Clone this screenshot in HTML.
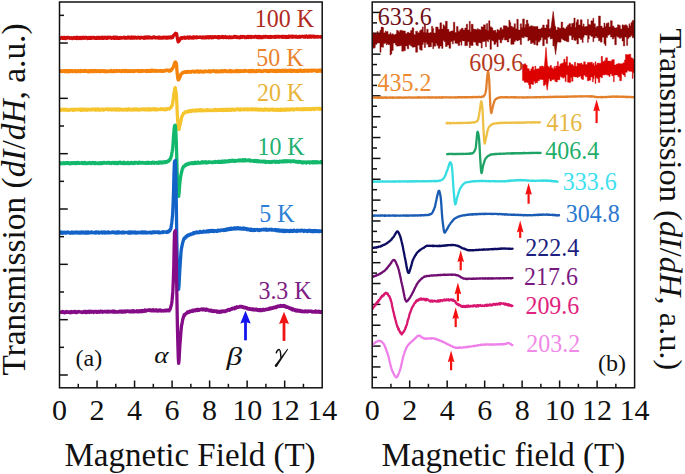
<!DOCTYPE html>
<html><head><meta charset="utf-8"><style>
html,body{margin:0;padding:0;background:#fff;}
svg{display:block;}
</style></head><body>
<svg width="685" height="474" viewBox="0 0 685 474">
<defs><clipPath id="ca"><rect x="59.5" y="2.0" width="262.70" height="385.80"/></clipPath><clipPath id="cb"><rect x="372.2" y="2.0" width="262.40" height="385.80"/></clipPath></defs>
<rect width="685" height="474" fill="#fff"/>
<line x1="78.26" y1="387.8" x2="78.26" y2="383.8" stroke="#111" stroke-width="1.5"/>
<line x1="97.03" y1="387.8" x2="97.03" y2="380.5" stroke="#111" stroke-width="1.5"/>
<line x1="115.79" y1="387.8" x2="115.79" y2="383.8" stroke="#111" stroke-width="1.5"/>
<line x1="134.56" y1="387.8" x2="134.56" y2="380.5" stroke="#111" stroke-width="1.5"/>
<line x1="153.32" y1="387.8" x2="153.32" y2="383.8" stroke="#111" stroke-width="1.5"/>
<line x1="172.09" y1="387.8" x2="172.09" y2="380.5" stroke="#111" stroke-width="1.5"/>
<line x1="190.85" y1="387.8" x2="190.85" y2="383.8" stroke="#111" stroke-width="1.5"/>
<line x1="209.61" y1="387.8" x2="209.61" y2="380.5" stroke="#111" stroke-width="1.5"/>
<line x1="228.38" y1="387.8" x2="228.38" y2="383.8" stroke="#111" stroke-width="1.5"/>
<line x1="247.14" y1="387.8" x2="247.14" y2="380.5" stroke="#111" stroke-width="1.5"/>
<line x1="265.91" y1="387.8" x2="265.91" y2="383.8" stroke="#111" stroke-width="1.5"/>
<line x1="284.67" y1="387.8" x2="284.67" y2="380.5" stroke="#111" stroke-width="1.5"/>
<line x1="303.44" y1="387.8" x2="303.44" y2="383.8" stroke="#111" stroke-width="1.5"/>
<line x1="390.94" y1="387.8" x2="390.94" y2="383.8" stroke="#111" stroke-width="1.5"/>
<line x1="409.69" y1="387.8" x2="409.69" y2="380.5" stroke="#111" stroke-width="1.5"/>
<line x1="428.43" y1="387.8" x2="428.43" y2="383.8" stroke="#111" stroke-width="1.5"/>
<line x1="447.17" y1="387.8" x2="447.17" y2="380.5" stroke="#111" stroke-width="1.5"/>
<line x1="465.91" y1="387.8" x2="465.91" y2="383.8" stroke="#111" stroke-width="1.5"/>
<line x1="484.66" y1="387.8" x2="484.66" y2="380.5" stroke="#111" stroke-width="1.5"/>
<line x1="503.40" y1="387.8" x2="503.40" y2="383.8" stroke="#111" stroke-width="1.5"/>
<line x1="522.14" y1="387.8" x2="522.14" y2="380.5" stroke="#111" stroke-width="1.5"/>
<line x1="540.89" y1="387.8" x2="540.89" y2="383.8" stroke="#111" stroke-width="1.5"/>
<line x1="559.63" y1="387.8" x2="559.63" y2="380.5" stroke="#111" stroke-width="1.5"/>
<line x1="578.37" y1="387.8" x2="578.37" y2="383.8" stroke="#111" stroke-width="1.5"/>
<line x1="597.11" y1="387.8" x2="597.11" y2="380.5" stroke="#111" stroke-width="1.5"/>
<line x1="615.86" y1="387.8" x2="615.86" y2="383.8" stroke="#111" stroke-width="1.5"/>
<line x1="59.5" y1="375.00" x2="67.80" y2="375.00" stroke="#111" stroke-width="1.5"/>
<line x1="59.5" y1="347.33" x2="64.00" y2="347.33" stroke="#111" stroke-width="1.5"/>
<line x1="59.5" y1="319.67" x2="67.80" y2="319.67" stroke="#111" stroke-width="1.5"/>
<line x1="59.5" y1="292.00" x2="64.00" y2="292.00" stroke="#111" stroke-width="1.5"/>
<line x1="59.5" y1="264.34" x2="67.80" y2="264.34" stroke="#111" stroke-width="1.5"/>
<line x1="59.5" y1="236.67" x2="64.00" y2="236.67" stroke="#111" stroke-width="1.5"/>
<line x1="59.5" y1="209.01" x2="67.80" y2="209.01" stroke="#111" stroke-width="1.5"/>
<line x1="59.5" y1="181.34" x2="64.00" y2="181.34" stroke="#111" stroke-width="1.5"/>
<line x1="59.5" y1="153.68" x2="67.80" y2="153.68" stroke="#111" stroke-width="1.5"/>
<line x1="59.5" y1="126.01" x2="64.00" y2="126.01" stroke="#111" stroke-width="1.5"/>
<line x1="59.5" y1="98.35" x2="67.80" y2="98.35" stroke="#111" stroke-width="1.5"/>
<line x1="59.5" y1="70.68" x2="64.00" y2="70.68" stroke="#111" stroke-width="1.5"/>
<line x1="59.5" y1="43.02" x2="67.80" y2="43.02" stroke="#111" stroke-width="1.5"/>
<line x1="59.5" y1="15.35" x2="64.00" y2="15.35" stroke="#111" stroke-width="1.5"/>
<line x1="372.2" y1="377.37" x2="377.00" y2="377.37" stroke="#111" stroke-width="1.5"/>
<line x1="372.2" y1="366.95" x2="380.50" y2="366.95" stroke="#111" stroke-width="1.5"/>
<line x1="372.2" y1="356.52" x2="377.00" y2="356.52" stroke="#111" stroke-width="1.5"/>
<line x1="372.2" y1="346.09" x2="380.50" y2="346.09" stroke="#111" stroke-width="1.5"/>
<line x1="372.2" y1="335.66" x2="377.00" y2="335.66" stroke="#111" stroke-width="1.5"/>
<line x1="372.2" y1="325.24" x2="380.50" y2="325.24" stroke="#111" stroke-width="1.5"/>
<line x1="372.2" y1="314.81" x2="377.00" y2="314.81" stroke="#111" stroke-width="1.5"/>
<line x1="372.2" y1="304.38" x2="380.50" y2="304.38" stroke="#111" stroke-width="1.5"/>
<line x1="372.2" y1="293.96" x2="377.00" y2="293.96" stroke="#111" stroke-width="1.5"/>
<line x1="372.2" y1="283.53" x2="380.50" y2="283.53" stroke="#111" stroke-width="1.5"/>
<line x1="372.2" y1="273.10" x2="377.00" y2="273.10" stroke="#111" stroke-width="1.5"/>
<line x1="372.2" y1="262.68" x2="380.50" y2="262.68" stroke="#111" stroke-width="1.5"/>
<line x1="372.2" y1="252.25" x2="377.00" y2="252.25" stroke="#111" stroke-width="1.5"/>
<line x1="372.2" y1="241.82" x2="380.50" y2="241.82" stroke="#111" stroke-width="1.5"/>
<line x1="372.2" y1="231.39" x2="377.00" y2="231.39" stroke="#111" stroke-width="1.5"/>
<line x1="372.2" y1="220.97" x2="380.50" y2="220.97" stroke="#111" stroke-width="1.5"/>
<line x1="372.2" y1="210.54" x2="377.00" y2="210.54" stroke="#111" stroke-width="1.5"/>
<line x1="372.2" y1="200.11" x2="380.50" y2="200.11" stroke="#111" stroke-width="1.5"/>
<line x1="372.2" y1="189.69" x2="377.00" y2="189.69" stroke="#111" stroke-width="1.5"/>
<line x1="372.2" y1="179.26" x2="380.50" y2="179.26" stroke="#111" stroke-width="1.5"/>
<line x1="372.2" y1="168.83" x2="377.00" y2="168.83" stroke="#111" stroke-width="1.5"/>
<line x1="372.2" y1="158.41" x2="380.50" y2="158.41" stroke="#111" stroke-width="1.5"/>
<line x1="372.2" y1="147.98" x2="377.00" y2="147.98" stroke="#111" stroke-width="1.5"/>
<line x1="372.2" y1="137.55" x2="380.50" y2="137.55" stroke="#111" stroke-width="1.5"/>
<line x1="372.2" y1="127.12" x2="377.00" y2="127.12" stroke="#111" stroke-width="1.5"/>
<line x1="372.2" y1="116.70" x2="380.50" y2="116.70" stroke="#111" stroke-width="1.5"/>
<line x1="372.2" y1="106.27" x2="377.00" y2="106.27" stroke="#111" stroke-width="1.5"/>
<line x1="372.2" y1="95.84" x2="380.50" y2="95.84" stroke="#111" stroke-width="1.5"/>
<line x1="372.2" y1="85.42" x2="377.00" y2="85.42" stroke="#111" stroke-width="1.5"/>
<line x1="372.2" y1="74.99" x2="380.50" y2="74.99" stroke="#111" stroke-width="1.5"/>
<line x1="372.2" y1="64.56" x2="377.00" y2="64.56" stroke="#111" stroke-width="1.5"/>
<line x1="372.2" y1="54.14" x2="380.50" y2="54.14" stroke="#111" stroke-width="1.5"/>
<line x1="372.2" y1="43.71" x2="377.00" y2="43.71" stroke="#111" stroke-width="1.5"/>
<line x1="372.2" y1="33.28" x2="380.50" y2="33.28" stroke="#111" stroke-width="1.5"/>
<line x1="372.2" y1="22.85" x2="377.00" y2="22.85" stroke="#111" stroke-width="1.5"/>
<line x1="372.2" y1="12.43" x2="380.50" y2="12.43" stroke="#111" stroke-width="1.5"/>
<path d="M372.80,33.05 L374.49,33.05 L374.49,33.89 L375.32,33.89 L375.32,33.54 L376.26,33.54 L376.26,34.33 L377.08,34.33 L377.08,31.44 L378.07,31.44 L378.07,33.80 L379.91,33.80 L379.91,30.18 L381.06,30.18 L381.06,27.07 L382.69,27.07 L382.69,27.59 L383.57,27.59 L383.57,32.70 L385.35,32.70 L385.35,30.93 L386.22,30.93 L386.22,31.99 L387.04,31.99 L387.04,31.42 L388.06,31.42 L388.06,34.33 L389.99,34.33 L389.99,32.69 L390.92,32.69 L390.92,34.49 L391.83,34.49 L391.83,33.83 L393.28,33.83 L393.28,34.87 L395.28,34.87 L395.28,34.01 L396.56,34.01 L396.56,30.27 L397.87,30.27 L397.87,31.12 L398.83,31.12 L398.83,32.30 L399.75,32.30 L399.75,30.31 L401.75,30.31 L401.75,30.82 L403.43,30.82 L403.43,30.96 L405.38,30.96 L405.38,33.48 L407.22,33.48 L407.22,32.26 L408.82,32.26 L408.82,32.97 L410.54,32.97 L410.54,30.54 L412.04,30.54 L412.04,27.87 L413.82,27.87 L413.82,34.39 L415.61,34.39 L415.61,31.15 L417.58,31.15 L417.58,32.66 L419.51,32.66 L419.51,30.79 L420.52,30.79 L420.52,29.87 L422.25,29.87 L422.25,26.88 L423.31,26.88 L423.31,32.29 L424.27,32.29 L424.27,23.69 L425.52,23.69 L425.52,32.49 L426.66,32.49 L426.66,29.19 L428.20,29.19 L428.20,32.96 L429.98,32.96 L429.98,32.53 L431.49,32.53 L431.49,26.25 L432.71,26.25 L432.71,28.44 L433.68,28.44 L433.68,32.99 L435.65,32.99 L435.65,26.94 L436.76,26.94 L436.76,27.04 L438.15,27.04 L438.15,29.30 L439.89,29.30 L439.89,22.87 L441.63,22.87 L441.63,29.03 L443.00,29.03 L443.00,24.87 L444.16,24.87 L444.16,26.26 L445.39,26.26 L445.39,21.25 L447.29,21.25 L447.29,29.36 L448.94,29.36 L448.94,31.67 L450.76,31.67 L450.76,30.91 L452.40,30.91 L452.40,30.82 L453.37,30.82 L453.37,22.30 L454.87,22.30 L454.87,32.58 L456.47,32.58 L456.47,26.59 L458.11,26.59 L458.11,31.18 L459.76,31.18 L459.76,29.65 L461.06,29.65 L461.06,28.40 L461.93,28.40 L461.93,28.14 L463.11,28.14 L463.11,30.06 L464.74,30.06 L464.74,28.04 L466.21,28.04 L466.21,24.24 L467.63,24.24 L467.63,30.06 L469.22,30.06 L469.22,21.31 L470.30,21.31 L470.30,31.68 L471.17,31.68 L471.17,24.27 L473.13,24.27 L473.13,29.01 L474.33,29.01 L474.33,29.36 L475.91,29.36 L475.91,29.45 L477.42,29.45 L477.42,28.56 L478.27,28.56 L478.27,29.53 L480.14,29.53 L480.14,30.12 L481.13,30.12 L481.13,26.72 L482.26,26.72 L482.26,27.07 L483.50,27.07 L483.50,24.85 L485.44,24.85 L485.44,29.56 L486.43,29.56 L486.43,23.61 L487.67,23.61 L487.67,30.40 L488.67,30.40 L488.67,20.70 L489.98,20.70 L489.98,26.80 L491.44,26.80 L491.44,27.76 L492.83,27.76 L492.83,30.47 L493.94,30.47 L493.94,30.41 L494.95,30.41 L494.95,30.23 L495.88,30.23 L495.88,32.47 L496.94,32.47 L496.94,29.51 L498.19,29.51 L498.19,30.18 L499.98,30.18 L499.98,27.77 L501.77,27.77 L501.77,29.47 L503.26,29.47 L503.26,25.74 L504.40,25.74 L504.40,25.79 L505.87,25.79 L505.87,25.97 L507.20,25.97 L507.20,27.32 L508.84,27.32 L508.84,20.29 L509.96,20.29 L509.96,22.49 L510.79,22.49 L510.79,26.32 L512.33,26.32 L512.33,27.18 L514.12,27.18 L514.12,23.74 L515.45,23.74 L515.45,28.71 L516.81,28.71 L516.81,19.22 L518.25,19.22 L518.25,30.03 L520.22,30.03 L520.22,23.81 L521.49,23.81 L521.49,27.53 L522.58,27.53 L522.58,18.89 L524.40,18.89 L524.40,27.52 L525.25,27.52 L525.25,24.57 L526.28,24.57 L526.28,20.12 L527.83,20.12 L527.83,23.76 L528.85,23.76 L528.85,26.53 L530.50,26.53 L530.50,25.73 L532.13,25.73 L532.13,26.16 L533.74,26.16 L533.74,26.50 L535.46,26.50 L535.46,26.69 L536.34,26.69 L536.34,26.39 L537.97,26.39 L537.97,29.08 L539.84,29.08 L539.84,29.10 L541.11,29.10 L541.11,27.87 L542.65,27.87 L542.65,24.93 L544.31,24.93 L544.31,28.07 L546.18,28.07 L546.18,24.85 L547.66,24.85 L547.66,19.38 L549.10,19.38 L549.10,28.65 L550.12,28.65 L550.12,28.16 L551.14,28.16 L551.14,29.00 L552.82,29.00 L552.82,25.97 L554.00,25.97 L554.00,26.65 L555.81,26.65 L555.81,30.04 L557.35,30.04 L557.35,27.43 L559.11,27.43 L559.11,28.28 L561.07,28.28 L561.07,22.08 L562.69,22.08 L562.69,27.82 L564.20,27.82 L564.20,28.63 L566.14,28.63 L566.14,26.79 L567.51,26.79 L567.51,24.98 L568.91,24.98 L568.91,23.64 L570.73,23.64 L570.73,26.88 L571.61,26.88 L571.61,23.45 L573.06,23.45 L573.06,22.91 L573.87,22.91 L573.87,18.04 L575.13,18.04 L575.13,27.62 L576.03,27.62 L576.03,22.18 L576.90,22.18 L576.90,19.65 L578.47,19.65 L578.47,24.89 L580.26,24.89 L580.26,19.82 L582.13,19.82 L582.13,26.35 L583.19,26.35 L583.19,23.88 L584.14,23.88 L584.14,26.66 L586.00,26.66 L586.00,26.32 L587.52,26.32 L587.52,19.34 L588.36,19.34 L588.36,24.13 L589.34,24.13 L589.34,24.73 L590.91,24.73 L590.91,20.80 L592.87,20.80 L592.87,18.21 L593.83,18.21 L593.83,23.63 L595.36,23.63 L595.36,27.57 L596.58,27.57 L596.58,26.33 L598.49,26.33 L598.49,16.00 L600.43,16.00 L600.43,26.08 L602.11,26.08 L602.11,27.67 L603.91,27.67 L603.91,22.98 L604.96,22.98 L604.96,26.44 L606.07,26.44 L606.07,23.44 L607.62,23.44 L607.62,22.67 L608.95,22.67 L608.95,27.00 L610.42,27.00 L610.42,20.79 L612.27,20.79 L612.27,25.90 L613.80,25.90 L613.80,27.61 L614.71,27.61 L614.71,27.92 L616.38,27.92 L616.38,27.49 L617.49,27.49 L617.49,24.86 L619.37,24.86 L619.37,25.62 L620.42,25.62 L620.42,28.95 L622.00,28.95 L622.00,24.86 L623.34,24.86 L623.34,25.47 L624.78,25.47 L624.78,24.83 L626.58,24.83 L626.58,25.86 L627.70,25.86 L627.70,27.93 L628.90,27.93 L628.90,23.76 L629.76,23.76 L629.76,25.63 L630.88,25.63 L630.88,22.49 L632.17,22.49 L632.17,20.40 L633.92,20.40 L633.92,26.92 L634.00,26.92 L634.00,36.01 L633.92,36.01 L633.92,37.78 L632.17,37.78 L632.17,35.52 L630.88,35.52 L630.88,36.79 L629.76,36.79 L629.76,37.17 L628.90,37.17 L628.90,38.54 L627.70,38.54 L627.70,45.42 L626.58,45.42 L626.58,36.97 L624.78,36.97 L624.78,45.99 L623.34,45.99 L623.34,41.12 L622.00,41.12 L622.00,37.66 L620.42,37.66 L620.42,38.52 L619.37,38.52 L619.37,37.19 L617.49,37.19 L617.49,36.14 L616.38,36.14 L616.38,44.84 L614.71,44.84 L614.71,37.28 L613.80,37.28 L613.80,39.01 L612.27,39.01 L612.27,37.05 L610.42,37.05 L610.42,34.54 L608.95,34.54 L608.95,35.25 L607.62,35.25 L607.62,37.55 L606.07,37.55 L606.07,45.55 L604.96,45.55 L604.96,43.72 L603.91,43.72 L603.91,37.17 L602.11,37.17 L602.11,42.20 L600.43,42.20 L600.43,40.84 L598.49,40.84 L598.49,37.68 L596.58,37.68 L596.58,36.30 L595.36,36.30 L595.36,38.03 L593.83,38.03 L593.83,41.69 L592.87,41.69 L592.87,36.38 L590.91,36.38 L590.91,35.37 L589.34,35.37 L589.34,39.10 L588.36,39.10 L588.36,42.40 L587.52,42.40 L587.52,35.30 L586.00,35.30 L586.00,34.93 L584.14,34.93 L584.14,37.24 L583.19,37.24 L583.19,42.43 L582.13,42.43 L582.13,39.57 L580.26,39.57 L580.26,38.02 L578.47,38.02 L578.47,43.94 L576.90,43.94 L576.90,39.80 L576.03,39.80 L576.03,40.47 L575.13,40.47 L575.13,40.19 L573.87,40.19 L573.87,37.42 L573.06,37.42 L573.06,39.72 L571.61,39.72 L571.61,35.83 L570.73,35.83 L570.73,35.52 L568.91,35.52 L568.91,41.83 L567.51,41.83 L567.51,41.47 L566.14,41.47 L566.14,40.67 L564.20,40.67 L564.20,39.88 L562.69,39.88 L562.69,38.72 L561.07,38.72 L561.07,42.16 L559.11,42.16 L559.11,42.09 L557.35,42.09 L557.35,41.23 L555.81,41.23 L555.81,39.17 L554.00,39.17 L554.00,45.92 L552.82,45.92 L552.82,38.76 L551.14,38.76 L551.14,38.99 L550.12,38.99 L550.12,36.61 L549.10,36.61 L549.10,37.26 L547.66,37.26 L547.66,43.46 L546.18,43.46 L546.18,39.51 L544.31,39.51 L544.31,45.79 L542.65,45.79 L542.65,37.40 L541.11,37.40 L541.11,40.14 L539.84,40.14 L539.84,41.87 L537.97,41.87 L537.97,45.18 L536.34,45.18 L536.34,40.40 L535.46,40.40 L535.46,44.48 L533.74,44.48 L533.74,42.76 L532.13,42.76 L532.13,43.51 L530.50,43.51 L530.50,40.05 L528.85,40.05 L528.85,40.94 L527.83,40.94 L527.83,37.07 L526.28,37.07 L526.28,36.91 L525.25,36.91 L525.25,36.03 L524.40,36.03 L524.40,37.84 L522.58,37.84 L522.58,37.53 L521.49,37.53 L521.49,44.49 L520.22,44.49 L520.22,40.07 L518.25,40.07 L518.25,40.93 L516.81,40.93 L516.81,39.95 L515.45,39.95 L515.45,41.54 L514.12,41.54 L514.12,44.21 L512.33,44.21 L512.33,44.37 L510.79,44.37 L510.79,37.91 L509.96,37.91 L509.96,38.41 L508.84,38.41 L508.84,42.03 L507.20,42.03 L507.20,39.89 L505.87,39.89 L505.87,40.06 L504.40,40.06 L504.40,37.84 L503.26,37.84 L503.26,39.85 L501.77,39.85 L501.77,42.79 L499.98,42.79 L499.98,39.75 L498.19,39.75 L498.19,46.70 L496.94,46.70 L496.94,42.28 L495.88,42.28 L495.88,44.11 L494.95,44.11 L494.95,44.48 L493.94,44.48 L493.94,41.30 L492.83,41.30 L492.83,40.45 L491.44,40.45 L491.44,49.33 L489.98,49.33 L489.98,39.43 L488.67,39.43 L488.67,41.81 L487.67,41.81 L487.67,40.65 L486.43,40.65 L486.43,46.81 L485.44,46.81 L485.44,41.42 L483.50,41.42 L483.50,41.69 L482.26,41.69 L482.26,47.99 L481.13,47.99 L481.13,43.00 L480.14,43.00 L480.14,42.86 L478.27,42.86 L478.27,46.02 L477.42,46.02 L477.42,45.20 L475.91,45.20 L475.91,42.23 L474.33,42.23 L474.33,41.80 L473.13,41.80 L473.13,45.56 L471.17,45.56 L471.17,44.93 L470.30,44.93 L470.30,47.65 L469.22,47.65 L469.22,41.81 L467.63,41.81 L467.63,45.53 L466.21,45.53 L466.21,45.70 L464.74,45.70 L464.74,40.88 L463.11,40.88 L463.11,40.82 L461.93,40.82 L461.93,45.30 L461.06,45.30 L461.06,42.00 L459.76,42.00 L459.76,45.59 L458.11,45.59 L458.11,43.39 L456.47,43.39 L456.47,43.25 L454.87,43.25 L454.87,40.52 L453.37,40.52 L453.37,44.05 L452.40,44.05 L452.40,41.45 L450.76,41.45 L450.76,48.30 L448.94,48.30 L448.94,45.00 L447.29,45.00 L447.29,46.51 L445.39,46.51 L445.39,41.72 L444.16,41.72 L444.16,40.58 L443.00,40.58 L443.00,48.42 L441.63,48.42 L441.63,46.05 L439.89,46.05 L439.89,48.33 L438.15,48.33 L438.15,45.55 L436.76,45.55 L436.76,43.60 L435.65,43.60 L435.65,46.32 L433.68,46.32 L433.68,48.73 L432.71,48.73 L432.71,42.38 L431.49,42.38 L431.49,46.68 L429.98,46.68 L429.98,47.01 L428.20,47.01 L428.20,44.30 L426.66,44.30 L426.66,42.46 L425.52,42.46 L425.52,47.52 L424.27,47.52 L424.27,42.14 L423.31,42.14 L423.31,44.58 L422.25,44.58 L422.25,50.16 L420.52,50.16 L420.52,49.52 L419.51,49.52 L419.51,45.22 L417.58,45.22 L417.58,52.19 L415.61,52.19 L415.61,47.06 L413.82,47.06 L413.82,47.15 L412.04,47.15 L412.04,46.06 L410.54,46.06 L410.54,44.70 L408.82,44.70 L408.82,48.75 L407.22,48.75 L407.22,45.94 L405.38,45.94 L405.38,50.73 L403.43,50.73 L403.43,51.23 L401.75,51.23 L401.75,45.84 L399.75,45.84 L399.75,46.08 L398.83,46.08 L398.83,45.99 L397.87,45.99 L397.87,46.14 L396.56,46.14 L396.56,45.05 L395.28,45.05 L395.28,43.12 L393.28,43.12 L393.28,50.49 L391.83,50.49 L391.83,53.92 L390.92,53.92 L390.92,54.98 L389.99,54.98 L389.99,44.78 L388.06,44.78 L388.06,43.90 L387.04,43.90 L387.04,44.88 L386.22,44.88 L386.22,42.72 L385.35,42.72 L385.35,43.58 L383.57,43.58 L383.57,47.35 L382.69,47.35 L382.69,47.05 L381.06,47.05 L381.06,52.23 L379.91,52.23 L379.91,43.02 L378.07,43.02 L378.07,42.97 L377.08,42.97 L377.08,43.86 L376.26,43.86 L376.26,44.06 L375.32,44.06 L375.32,47.53 L374.49,47.53 L374.49,48.17 L372.80,48.17 Z" fill="#8a0404" stroke="#8a0404" stroke-width="0.4"/>
<path d="M550.60,31.00 L553.20,11.40 L555.60,31.00 Z" fill="#8a0404" stroke="#8a0404" stroke-width="0.6" stroke-linejoin="round"/>
<path d="M553.00,34.00 L555.60,54.60 L558.20,34.00 Z" fill="#8a0404" stroke="#8a0404" stroke-width="0.6" stroke-linejoin="round"/>
<path d="M522.40,64.41 L524.19,64.41 L524.19,63.85 L525.90,63.85 L525.90,65.27 L527.19,65.27 L527.19,68.51 L528.31,68.51 L528.31,68.79 L529.23,68.79 L529.23,70.74 L530.79,70.74 L530.79,68.77 L532.02,68.77 L532.02,66.75 L533.66,66.75 L533.66,69.96 L534.82,69.96 L534.82,66.10 L535.76,66.10 L535.76,69.04 L537.60,69.04 L537.60,68.63 L539.49,68.63 L539.49,66.55 L540.44,66.55 L540.44,66.21 L541.72,66.21 L541.72,66.06 L543.32,66.06 L543.32,67.13 L544.74,67.13 L544.74,66.76 L545.86,66.76 L545.86,67.69 L547.09,67.69 L547.09,66.48 L548.95,66.48 L548.95,67.56 L549.92,67.56 L549.92,65.59 L551.51,65.59 L551.51,67.78 L552.69,67.78 L552.69,68.97 L553.84,68.97 L553.84,66.61 L554.78,66.61 L554.78,68.30 L555.65,68.30 L555.65,65.89 L557.39,65.89 L557.39,61.59 L558.36,61.59 L558.36,66.13 L559.94,66.13 L559.94,64.18 L560.89,64.18 L560.89,63.54 L562.78,63.54 L562.78,62.76 L563.75,62.76 L563.75,59.25 L565.08,59.25 L565.08,62.37 L566.23,62.37 L566.23,56.70 L567.54,56.70 L567.54,65.65 L568.98,65.65 L568.98,62.69 L570.70,62.69 L570.70,64.51 L571.64,64.51 L571.64,64.52 L573.06,64.52 L573.06,66.05 L574.33,66.05 L574.33,62.34 L575.63,62.34 L575.63,66.20 L577.12,66.20 L577.12,63.15 L578.39,63.15 L578.39,63.50 L579.97,63.50 L579.97,63.40 L580.96,63.40 L580.96,63.07 L581.90,63.07 L581.90,64.46 L583.64,64.46 L583.64,61.83 L585.31,61.83 L585.31,64.50 L587.29,64.50 L587.29,62.54 L588.97,62.54 L588.97,62.40 L590.70,62.40 L590.70,62.20 L592.40,62.20 L592.40,64.14 L593.31,64.14 L593.31,63.23 L594.14,63.23 L594.14,66.12 L595.01,66.12 L595.01,61.74 L595.91,61.74 L595.91,64.70 L597.17,64.70 L597.17,63.10 L598.30,63.10 L598.30,63.22 L599.79,63.22 L599.79,63.15 L601.16,63.15 L601.16,56.36 L602.52,56.36 L602.52,61.51 L604.35,61.51 L604.35,60.42 L605.58,60.42 L605.58,57.87 L607.49,57.87 L607.49,61.12 L608.92,61.12 L608.92,61.10 L610.15,61.10 L610.15,61.21 L611.73,61.21 L611.73,59.72 L613.40,59.72 L613.40,59.53 L614.30,59.53 L614.30,64.90 L616.20,64.90 L616.20,63.99 L617.89,63.99 L617.89,63.38 L619.65,63.38 L619.65,63.86 L621.55,63.86 L621.55,63.68 L622.89,63.68 L622.89,62.79 L624.44,62.79 L624.44,60.06 L625.42,60.06 L625.42,54.55 L627.22,54.55 L627.22,54.66 L628.84,54.66 L628.84,54.13 L630.83,54.13 L630.83,57.82 L632.28,57.82 L632.28,58.43 L633.13,58.43 L633.13,59.13 L634.00,59.13 L634.00,72.73 L633.13,72.73 L633.13,78.41 L632.28,78.41 L632.28,71.40 L630.83,71.40 L630.83,71.37 L628.84,71.37 L628.84,70.42 L627.22,70.42 L627.22,72.34 L625.42,72.34 L625.42,76.65 L624.44,76.65 L624.44,74.97 L622.89,74.97 L622.89,73.76 L621.55,73.76 L621.55,80.68 L619.65,80.68 L619.65,76.85 L617.89,76.85 L617.89,74.88 L616.20,74.88 L616.20,75.06 L614.30,75.06 L614.30,81.74 L613.40,81.74 L613.40,75.75 L611.73,75.75 L611.73,73.90 L610.15,73.90 L610.15,76.42 L608.92,76.42 L608.92,75.18 L607.49,75.18 L607.49,74.79 L605.58,74.79 L605.58,74.77 L604.35,74.77 L604.35,75.07 L602.52,75.07 L602.52,77.79 L601.16,77.79 L601.16,76.92 L599.79,76.92 L599.79,82.42 L598.30,82.42 L598.30,78.73 L597.17,78.73 L597.17,77.65 L595.91,77.65 L595.91,83.43 L595.01,83.43 L595.01,75.56 L594.14,75.56 L594.14,78.68 L593.31,78.68 L593.31,81.88 L592.40,81.88 L592.40,77.07 L590.70,77.07 L590.70,80.34 L588.97,80.34 L588.97,80.74 L587.29,80.74 L587.29,76.80 L585.31,76.80 L585.31,75.13 L583.64,75.13 L583.64,79.42 L581.90,79.42 L581.90,78.60 L580.96,78.60 L580.96,76.11 L579.97,76.11 L579.97,76.52 L578.39,76.52 L578.39,77.47 L577.12,77.47 L577.12,76.90 L575.63,76.90 L575.63,76.92 L574.33,76.92 L574.33,76.51 L573.06,76.51 L573.06,81.32 L571.64,81.32 L571.64,77.47 L570.70,77.47 L570.70,82.49 L568.98,82.49 L568.98,82.22 L567.54,82.22 L567.54,74.66 L566.23,74.66 L566.23,81.62 L565.08,81.62 L565.08,77.22 L563.75,77.22 L563.75,78.14 L562.78,78.14 L562.78,77.15 L560.89,77.15 L560.89,76.29 L559.94,76.29 L559.94,79.80 L558.36,79.80 L558.36,79.93 L557.39,79.93 L557.39,81.89 L555.65,81.89 L555.65,81.19 L554.78,81.19 L554.78,79.29 L553.84,79.29 L553.84,79.67 L552.69,79.67 L552.69,79.78 L551.51,79.78 L551.51,81.12 L549.92,81.12 L549.92,78.85 L548.95,78.85 L548.95,78.46 L547.09,78.46 L547.09,81.95 L545.86,81.95 L545.86,84.39 L544.74,84.39 L544.74,85.38 L543.32,85.38 L543.32,79.64 L541.72,79.64 L541.72,79.40 L540.44,79.40 L540.44,79.13 L539.49,79.13 L539.49,80.77 L537.60,80.77 L537.60,82.76 L535.76,82.76 L535.76,83.27 L534.82,83.27 L534.82,81.24 L533.66,81.24 L533.66,84.42 L532.02,84.42 L532.02,84.12 L530.79,84.12 L530.79,88.58 L529.23,88.58 L529.23,84.69 L528.31,84.69 L528.31,82.62 L527.19,82.62 L527.19,82.32 L525.90,82.32 L525.90,82.36 L524.19,82.36 L524.19,80.57 L522.40,80.57 Z" fill="#dc0000" stroke="#dc0000" stroke-width="0.4"/>
<path d="M544.00,72.00 L546.00,47.40 L548.00,72.00 Z" fill="#dc0000" stroke="#dc0000" stroke-width="0.6" stroke-linejoin="round"/>
<path d="M545.20,76.00 L547.20,90.20 L549.20,76.00 Z" fill="#dc0000" stroke="#dc0000" stroke-width="0.6" stroke-linejoin="round"/>
<path d="M372.20,97.47 L372.55,97.68 L372.90,97.65 L373.25,97.59 L373.61,97.48 L373.96,97.71 L374.31,97.72 L374.66,97.60 L375.01,97.60 L375.36,97.49 L375.71,97.39 L376.07,97.54 L376.42,97.63 L376.77,97.42 L377.12,97.71 L377.47,97.48 L377.82,97.48 L378.18,97.41 L378.53,97.79 L378.88,97.68 L379.23,97.74 L379.58,97.63 L379.93,97.40 L380.28,97.52 L380.64,97.58 L380.99,97.43 L381.34,97.76 L381.69,97.53 L382.04,97.44 L382.39,97.71 L382.74,97.43 L383.10,97.75 L383.45,97.56 L383.80,97.60 L384.15,97.51 L384.50,97.57 L384.85,97.45 L385.20,97.39 L385.56,97.72 L385.91,97.47 L386.26,97.69 L386.61,97.46 L386.96,97.76 L387.31,97.73 L387.66,97.67 L388.02,97.68 L388.37,97.60 L388.72,97.66 L389.07,97.42 L389.42,97.56 L389.77,97.70 L390.12,97.45 L390.48,97.73 L390.83,97.72 L391.18,97.53 L391.53,97.51 L391.88,97.54 L392.23,97.52 L392.59,97.76 L392.94,97.52 L393.29,97.37 L393.64,97.40 L393.99,97.65 L394.34,97.76 L394.69,97.56 L395.05,97.55 L395.40,97.58 L395.75,97.66 L396.10,97.44 L396.45,97.60 L396.80,97.58 L397.15,97.60 L397.51,97.42 L397.86,97.42 L398.21,97.49 L398.56,97.72 L398.91,97.49 L399.26,97.59 L399.61,97.47 L399.97,97.39 L400.32,97.37 L400.67,97.67 L401.02,97.66 L401.37,97.50 L401.72,97.62 L402.07,97.61 L402.43,97.70 L402.78,97.73 L403.13,97.50 L403.48,97.74 L403.83,97.72 L404.18,97.58 L404.54,97.69 L404.89,97.53 L405.24,97.49 L405.59,97.44 L405.94,97.69 L406.29,97.40 L406.64,97.36 L407.00,97.66 L407.35,97.64 L407.70,97.53 L408.05,97.67 L408.40,97.35 L408.75,97.43 L409.10,97.44 L409.46,97.50 L409.81,97.40 L410.16,97.35 L410.51,97.46 L410.86,97.68 L411.21,97.72 L411.56,97.62 L411.92,97.51 L412.27,97.42 L412.62,97.70 L412.97,97.53 L413.32,97.61 L413.67,97.33 L414.02,97.40 L414.38,97.65 L414.73,97.63 L415.08,97.67 L415.43,97.55 L415.78,97.48 L416.13,97.54 L416.49,97.65 L416.84,97.43 L417.19,97.52 L417.54,97.42 L417.89,97.61 L418.24,97.31 L418.59,97.58 L418.95,97.68 L419.30,97.31 L419.65,97.54 L420.00,97.56 L420.35,97.64 L420.70,97.53 L421.05,97.40 L421.40,97.46 L421.75,97.68 L422.11,97.66 L422.46,97.35 L422.81,97.33 L423.16,97.33 L423.51,97.30 L423.86,97.47 L424.21,97.34 L424.56,97.63 L424.91,97.55 L425.26,97.33 L425.61,97.50 L425.96,97.41 L426.32,97.48 L426.67,97.37 L427.02,97.34 L427.37,97.35 L427.72,97.43 L428.07,97.56 L428.42,97.49 L428.77,97.29 L429.12,97.55 L429.47,97.62 L429.82,97.58 L430.18,97.58 L430.53,97.27 L430.88,97.45 L431.23,97.29 L431.58,97.57 L431.93,97.33 L432.28,97.54 L432.63,97.36 L432.98,97.53 L433.33,97.38 L433.68,97.27 L434.04,97.41 L434.39,97.37 L434.74,97.61 L435.09,97.36 L435.44,97.45 L435.79,97.46 L436.14,97.62 L436.49,97.28 L436.84,97.48 L437.19,97.44 L437.54,97.53 L437.89,97.62 L438.25,97.36 L438.60,97.51 L438.95,97.44 L439.30,97.45 L439.65,97.25 L440.00,97.55 L440.35,97.61 L440.70,97.36 L441.05,97.35 L441.40,97.62 L441.75,97.26 L442.11,97.24 L442.46,97.24 L442.81,97.54 L443.16,97.51 L443.51,97.39 L443.86,97.45 L444.21,97.21 L444.56,97.46 L444.91,97.38 L445.26,97.40 L445.61,97.35 L445.96,97.35 L446.32,97.28 L446.67,97.21 L447.02,97.36 L447.37,97.28 L447.72,97.47 L448.07,97.51 L448.42,97.47 L448.77,97.36 L449.12,97.27 L449.47,97.33 L449.82,97.37 L450.18,97.42 L450.53,97.55 L450.88,97.20 L451.23,97.35 L451.58,97.36 L451.93,97.44 L452.28,97.51 L452.63,97.47 L452.98,97.40 L453.33,97.45 L453.68,97.41 L454.04,97.49 L454.39,97.42 L454.74,97.41 L455.09,97.23 L455.44,97.50 L455.79,97.29 L456.14,97.38 L456.49,97.46 L456.84,97.51 L457.19,97.52 L457.54,97.12 L457.89,97.24 L458.25,97.24 L458.60,97.27 L458.95,97.17 L459.30,97.33 L459.65,97.13 L460.00,97.22 L460.35,97.47 L460.70,97.39 L461.05,97.28 L461.40,97.13 L461.75,97.47 L462.11,97.37 L462.46,97.16 L462.81,97.21 L463.16,97.33 L463.51,97.35 L463.86,97.18 L464.21,97.45 L464.56,97.19 L464.91,97.16 L465.26,97.40 L465.61,97.12 L465.96,97.33 L466.32,97.13 L466.67,97.29 L467.02,97.16 L467.37,97.19 L467.72,97.42 L468.07,97.22 L468.42,97.21 L468.77,97.28 L469.12,97.14 L469.47,97.09 L469.82,97.17 L470.18,97.12 L470.53,97.08 L470.88,97.39 L471.23,97.01 L471.58,97.32 L471.93,97.36 L472.28,97.27 L472.63,96.99 L472.98,97.17 L473.33,96.98 L473.68,97.20 L474.04,97.23 L474.39,97.04 L474.74,96.94 L475.09,97.15 L475.44,96.96 L475.79,97.04 L476.14,97.09 L476.49,97.26 L476.84,97.04 L477.19,96.94 L477.54,97.19 L477.89,97.19 L478.25,97.07 L478.60,96.86 L478.95,96.91 L479.30,96.98 L479.65,97.03 L480.00,96.89 L480.37,97.10 L480.73,97.10 L481.10,97.10 L481.47,97.04 L481.83,96.64 L482.20,96.80 L482.57,96.52 L482.93,96.76 L483.30,96.60 L483.66,96.41 L484.01,95.81 L484.37,95.21 L484.73,94.80 L485.09,93.85 L485.44,92.82 L485.80,91.59 L486.18,89.04 L486.55,84.39 L486.93,79.57 L487.30,75.94 L487.70,73.02 L488.10,71.65 L488.47,73.00 L488.83,75.79 L489.20,79.83 L489.57,87.37 L489.93,97.57 L490.30,104.88 L490.80,110.50 L491.30,113.02 L491.70,111.99 L492.10,110.00 L492.50,108.07 L492.85,106.74 L493.20,105.19 L493.55,103.83 L493.90,102.90 L494.25,101.60 L494.60,100.60 L494.95,100.00 L495.30,99.59 L495.65,99.26 L496.00,98.85 L496.35,98.93 L496.70,98.48 L497.05,98.22 L497.40,98.17 L497.75,98.08 L498.10,97.97 L498.45,97.65 L498.80,97.74 L499.15,97.55 L499.50,97.32 L499.85,97.52 L500.20,97.44 L500.55,97.43 L500.90,97.30 L501.25,97.09 L501.60,97.31 L501.95,97.36 L502.31,97.21 L502.66,97.37 L503.02,97.39 L503.37,97.16 L503.72,97.38 L504.08,97.38 L504.43,97.33 L504.78,97.02 L505.14,97.16 L505.49,97.27 L505.85,97.27 L506.20,97.33 L506.55,97.29 L506.91,97.10 L507.26,97.42 L507.62,97.26 L507.97,97.41 L508.32,97.14 L508.68,97.47 L509.03,97.29 L509.38,97.39 L509.74,97.38 L510.09,97.44 L510.45,97.24 L510.80,97.13 L511.15,97.27 L511.51,97.18 L511.86,97.33 L512.22,97.45 L512.57,97.27 L512.92,97.19 L513.28,97.15 L513.63,97.31 L513.98,97.38 L514.34,97.17 L514.69,97.43 L515.05,97.25 L515.40,97.21 L515.75,97.54 L516.11,97.39 L516.46,97.54 L516.82,97.39 L517.17,97.24 L517.52,97.29 L517.88,97.36 L518.23,97.45 L518.58,97.50 L518.94,97.50 L519.29,97.46 L519.65,97.30 L520.00,97.37 L520.35,97.35 L520.70,97.40 L521.05,97.31 L521.40,97.41 L521.75,97.38 L522.11,97.21 L522.46,97.52 L522.81,97.43 L523.16,97.51 L523.51,97.49 L523.86,97.48 L524.21,97.59 L524.56,97.34 L524.91,97.34 L525.26,97.18 L525.61,97.44 L525.96,97.41 L526.32,97.40 L526.67,97.57 L527.02,97.25 L527.37,97.25 L527.72,97.45 L528.07,97.48 L528.42,97.35 L528.77,97.17 L529.12,97.29 L529.47,97.47 L529.82,97.34 L530.18,97.32 L530.53,97.29 L530.88,97.38 L531.23,97.36 L531.58,97.39 L531.93,97.46 L532.28,97.41 L532.63,97.25 L532.98,97.20 L533.33,97.40 L533.68,97.40 L534.04,97.45 L534.39,97.15 L534.74,97.41 L535.09,97.42 L535.44,97.09 L535.79,97.18 L536.14,97.30 L536.49,97.10 L536.84,97.37 L537.19,97.14 L537.54,97.30 L537.89,97.14 L538.25,97.10 L538.60,97.09 L538.95,97.20 L539.30,97.28 L539.65,97.07 L540.00,97.25 L540.35,97.11 L540.70,97.23 L541.05,97.11 L541.40,97.03 L541.75,97.00 L542.11,96.96 L542.46,97.21 L542.81,97.09 L543.16,96.97 L543.51,97.26 L543.86,97.17 L544.21,96.91 L544.56,97.18 L544.91,97.12 L545.26,97.05 L545.61,97.07 L545.96,97.25 L546.32,97.01 L546.67,97.10 L547.02,97.10 L547.37,96.98 L547.72,96.97 L548.07,97.12 L548.42,97.07 L548.77,96.99 L549.12,97.01 L549.47,96.88 L549.82,97.10 L550.18,96.79 L550.53,97.03 L550.88,96.95 L551.23,96.85 L551.58,96.99 L551.93,96.98 L552.28,96.77 L552.63,96.93 L552.98,96.79 L553.33,97.04 L553.68,96.84 L554.04,96.84 L554.39,96.78 L554.74,96.71 L555.09,96.76 L555.44,96.74 L555.79,96.92 L556.14,97.00 L556.49,96.75 L556.84,96.70 L557.19,96.86 L557.54,96.69 L557.89,96.80 L558.25,96.93 L558.60,96.70 L558.95,96.90 L559.30,96.83 L559.65,96.64 L560.00,96.70 L560.35,96.83 L560.71,96.63 L561.06,96.66 L561.41,96.81 L561.76,96.90 L562.12,96.77 L562.47,96.82 L562.82,96.55 L563.18,96.67 L563.53,96.66 L563.88,96.90 L564.24,96.67 L564.59,96.83 L564.94,96.52 L565.29,96.70 L565.65,96.85 L566.00,96.80 L566.35,96.71 L566.71,96.55 L567.06,96.84 L567.41,96.49 L567.76,96.84 L568.12,96.75 L568.47,96.72 L568.82,96.64 L569.18,96.48 L569.53,96.55 L569.88,96.67 L570.24,96.66 L570.59,96.54 L570.94,96.70 L571.29,96.39 L571.65,96.48 L572.00,96.39 L572.35,96.48 L572.71,96.66 L573.06,96.63 L573.41,96.38 L573.76,96.44 L574.12,96.35 L574.47,96.57 L574.82,96.47 L575.18,96.38 L575.53,96.43 L575.88,96.62 L576.24,96.44 L576.59,96.53 L576.94,96.50 L577.29,96.43 L577.65,96.46 L578.00,96.38 L578.35,96.30 L578.71,96.42 L579.06,96.33 L579.41,96.34 L579.76,96.27 L580.12,96.56 L580.47,96.36 L580.82,96.26 L581.18,96.19 L581.53,96.26 L581.88,96.51 L582.24,96.29 L582.59,96.42 L582.94,96.24 L583.29,96.41 L583.65,96.32 L584.00,96.43 L584.35,96.34 L584.71,96.28 L585.06,96.24 L585.41,96.36 L585.76,96.45 L586.12,96.39 L586.47,96.31 L586.82,96.24 L587.18,96.47 L587.53,96.45 L587.88,96.16 L588.24,96.38 L588.59,96.41 L588.94,96.37 L589.29,96.49 L589.65,96.45 L590.00,96.20 L590.36,96.50 L590.71,96.24 L591.07,96.28 L591.43,96.54 L591.79,96.24 L592.14,96.36 L592.50,96.49 L592.86,96.39 L593.21,96.43 L593.57,96.68 L593.93,96.65 L594.29,96.75 L594.64,96.82 L595.00,96.90 L595.36,96.96 L595.71,96.98 L596.07,97.08 L596.43,96.94 L596.79,97.06 L597.14,97.03 L597.50,97.25 L597.86,97.16 L598.21,97.10 L598.57,97.22 L598.93,97.09 L599.29,97.04 L599.64,97.15 L600.00,97.05 L600.36,97.00 L600.71,97.03 L601.07,97.17 L601.43,97.29 L601.79,97.00 L602.14,97.22 L602.50,97.00 L602.86,97.15 L603.21,97.05 L603.57,97.09 L603.93,97.18 L604.29,97.05 L604.64,97.02 L605.00,97.14 L605.36,96.87 L605.71,96.94 L606.07,97.07 L606.43,97.10 L606.79,97.13 L607.14,96.82 L607.50,96.95 L607.86,96.80 L608.21,96.94 L608.57,96.97 L608.93,96.67 L609.29,96.73 L609.64,96.95 L610.00,96.70 L610.36,96.79 L610.71,96.85 L611.07,96.61 L611.43,96.80 L611.79,96.47 L612.14,96.59 L612.50,96.51 L612.86,96.57 L613.21,96.51 L613.57,96.43 L613.93,96.73 L614.29,96.47 L614.64,96.63 L615.00,96.62 L615.35,96.74 L615.70,96.74 L616.05,96.65 L616.40,96.47 L616.75,96.71 L617.10,96.45 L617.45,96.79 L617.80,96.55 L618.15,96.53 L618.50,96.52 L618.85,96.60 L619.20,96.77 L619.55,96.80 L619.90,96.76 L620.25,96.77 L620.60,96.58 L620.95,96.62 L621.30,96.63 L621.65,96.69 L622.00,96.88 L622.35,96.94 L622.70,96.58 L623.05,96.95 L623.40,96.94 L623.75,96.77 L624.10,96.88 L624.45,96.93 L624.80,96.70 L625.15,96.88 L625.50,97.04 L625.85,97.02 L626.20,97.04 L626.55,96.73 L626.90,96.99 L627.25,96.92 L627.60,97.10 L627.95,96.82 L628.30,96.98 L628.65,96.83 L629.00,97.12 L629.35,97.10 L629.70,96.83 L630.05,96.96 L630.40,96.91 L630.75,97.12 L631.10,97.13 L631.45,96.92 L631.80,97.28 L632.15,97.30 L632.50,97.11 L632.85,97.17 L633.20,97.10 L633.55,97.21 L633.90,97.14 L634.25,97.17 L634.60,97.30" fill="none" stroke="#e2802c" stroke-width="2.3" stroke-linejoin="round" stroke-linecap="round" clip-path="url(#cb)"/>
<path d="M446.50,123.28 L446.86,122.95 L447.21,122.90 L447.57,123.29 L447.92,122.96 L448.28,122.93 L448.63,123.14 L448.99,123.01 L449.35,123.23 L449.70,122.96 L450.06,123.25 L450.41,122.99 L450.77,123.10 L451.12,123.23 L451.48,123.13 L451.84,123.22 L452.19,123.13 L452.55,122.87 L452.90,123.20 L453.26,123.08 L453.62,122.96 L453.97,122.91 L454.33,123.17 L454.68,123.06 L455.04,123.20 L455.39,123.13 L455.75,123.20 L456.11,123.04 L456.46,123.09 L456.82,123.06 L457.17,122.91 L457.53,123.19 L457.88,122.93 L458.24,123.11 L458.60,123.18 L458.95,123.05 L459.31,122.84 L459.66,123.11 L460.02,123.04 L460.38,122.85 L460.73,122.79 L461.09,122.98 L461.44,122.77 L461.80,123.12 L462.15,122.95 L462.51,122.95 L462.87,122.90 L463.22,123.00 L463.58,123.09 L463.93,122.84 L464.29,122.86 L464.64,122.94 L465.00,122.82 L465.36,122.93 L465.72,122.90 L466.08,122.85 L466.44,122.94 L466.80,122.87 L467.16,122.68 L467.52,123.04 L467.88,122.77 L468.24,122.78 L468.60,122.76 L468.96,122.95 L469.32,122.95 L469.68,122.75 L470.04,122.69 L470.40,122.55 L470.76,122.84 L471.12,122.53 L471.48,122.65 L471.84,122.55 L472.20,122.51 L472.56,122.49 L472.92,122.39 L473.28,122.29 L473.64,122.45 L474.00,122.52 L474.38,122.40 L474.76,122.13 L475.14,122.21 L475.52,121.80 L475.90,121.75 L476.28,121.68 L476.66,121.45 L477.04,120.95 L477.42,120.75 L477.80,120.20 L478.20,119.21 L478.60,117.37 L479.00,115.15 L479.40,112.50 L479.80,109.99 L480.18,107.54 L480.55,104.58 L480.93,102.05 L481.30,101.21 L481.67,102.24 L482.03,104.70 L482.40,108.18 L482.77,113.83 L483.13,122.60 L483.50,130.05 L483.87,135.92 L484.23,141.11 L484.60,143.58 L485.07,142.46 L485.53,140.15 L486.00,137.82 L486.36,136.66 L486.71,134.75 L487.07,132.94 L487.43,131.34 L487.79,129.88 L488.14,128.94 L488.50,127.87 L488.88,127.34 L489.25,126.73 L489.62,126.39 L490.00,125.83 L490.38,125.47 L490.75,125.26 L491.12,125.01 L491.50,124.70 L491.88,124.14 L492.25,124.09 L492.62,124.13 L493.00,123.71 L493.35,123.72 L493.71,123.77 L494.06,123.66 L494.41,123.75 L494.76,123.68 L495.12,123.53 L495.47,123.39 L495.82,123.34 L496.18,123.30 L496.53,123.18 L496.88,123.38 L497.24,123.13 L497.59,123.39 L497.94,123.26 L498.29,122.99 L498.65,123.13 L499.00,123.14 L499.35,122.89 L499.71,123.04 L500.06,122.83 L500.41,123.10 L500.76,122.77 L501.12,123.00 L501.47,123.13 L501.82,123.05 L502.18,122.79 L502.53,122.90 L502.88,122.72 L503.24,122.79 L503.59,122.99 L503.94,122.96 L504.29,122.62 L504.65,122.76 L505.00,122.86 L505.36,122.66 L505.71,122.90 L506.07,122.93 L506.43,122.79 L506.79,122.71 L507.14,122.89 L507.50,122.75 L507.86,122.62 L508.21,122.65 L508.57,122.59 L508.93,122.86 L509.29,122.72 L509.64,122.79 L510.00,122.84 L510.36,122.90 L510.71,122.58 L511.07,122.66 L511.43,122.84 L511.79,122.79 L512.14,122.64 L512.50,122.74 L512.86,122.56 L513.21,122.54 L513.57,122.49 L513.93,122.62 L514.29,122.56 L514.64,122.67 L515.00,122.84 L515.36,122.51 L515.71,122.67 L516.07,122.79 L516.43,122.68 L516.79,122.65 L517.14,122.74 L517.50,122.44 L517.86,122.81 L518.21,122.70 L518.57,122.74 L518.93,122.74 L519.29,122.45 L519.64,122.43 L520.00,122.47 L520.35,122.60 L520.70,122.77 L521.05,122.75 L521.40,122.54 L521.75,122.62 L522.11,122.67 L522.46,122.50 L522.81,122.75 L523.16,122.73 L523.51,122.64 L523.86,122.70 L524.21,122.66 L524.56,122.59 L524.91,122.46 L525.26,122.44 L525.61,122.41 L525.96,122.34 L526.32,122.68 L526.67,122.42 L527.02,122.31 L527.37,122.42 L527.72,122.33 L528.07,122.46 L528.42,122.41 L528.77,122.34 L529.12,122.46 L529.47,122.43 L529.82,122.40 L530.18,122.57 L530.53,122.37 L530.88,122.46 L531.23,122.58 L531.58,122.61 L531.93,122.37 L532.28,122.23 L532.63,122.59 L532.98,122.41 L533.33,122.29 L533.68,122.25 L534.04,122.29 L534.39,122.31 L534.74,122.24 L535.09,122.19 L535.44,122.57 L535.79,122.49 L536.14,122.20 L536.49,122.35 L536.84,122.47 L537.19,122.34 L537.54,122.16 L537.89,122.27 L538.25,122.28 L538.60,122.49 L538.95,122.35 L539.30,122.29 L539.65,122.36 L540.00,122.12" fill="none" stroke="#eec046" stroke-width="2.3" stroke-linejoin="round" stroke-linecap="round" clip-path="url(#cb)"/>
<path d="M447.10,154.17 L447.45,154.18 L447.80,154.15 L448.15,153.83 L448.50,154.03 L448.85,153.96 L449.21,154.00 L449.56,153.84 L449.91,153.86 L450.26,153.96 L450.61,153.87 L450.96,153.96 L451.31,153.79 L451.66,153.81 L452.01,154.06 L452.36,153.95 L452.72,153.98 L453.07,154.07 L453.42,153.92 L453.77,153.80 L454.12,154.08 L454.47,154.01 L454.82,154.03 L455.17,154.02 L455.52,154.15 L455.87,153.91 L456.23,154.07 L456.58,153.91 L456.93,153.99 L457.28,154.02 L457.63,153.88 L457.98,153.79 L458.33,153.94 L458.68,154.04 L459.03,153.99 L459.38,153.93 L459.74,154.00 L460.09,153.82 L460.44,153.81 L460.79,153.87 L461.14,154.06 L461.49,153.81 L461.84,153.78 L462.19,153.77 L462.54,153.74 L462.89,153.83 L463.25,153.95 L463.60,154.04 L463.95,153.84 L464.30,153.86 L464.65,153.82 L465.00,153.82 L465.35,154.01 L465.70,153.91 L466.05,153.78 L466.40,153.71 L466.75,153.97 L467.10,153.92 L467.45,153.95 L467.80,153.69 L468.15,153.79 L468.50,153.91 L468.85,153.75 L469.20,153.86 L469.55,153.51 L469.90,153.80 L470.25,153.39 L470.60,153.49 L470.95,153.28 L471.30,153.54 L471.65,153.44 L472.00,153.49 L472.35,153.32 L472.70,153.21 L473.05,152.80 L473.40,152.66 L473.75,152.17 L474.10,151.54 L474.45,151.25 L474.80,150.40 L475.15,149.64 L475.50,148.83 L475.85,147.17 L476.20,143.74 L476.55,140.03 L476.90,136.16 L477.25,132.94 L477.60,131.74 L478.07,132.77 L478.53,134.84 L479.00,138.02 L479.43,143.89 L479.87,152.31 L480.30,159.97 L480.70,165.95 L481.10,170.94 L481.50,173.14 L481.88,172.48 L482.25,170.39 L482.62,168.03 L483.00,166.08 L483.38,164.65 L483.75,163.49 L484.12,162.33 L484.50,161.14 L484.88,159.97 L485.25,159.13 L485.62,158.48 L486.00,158.11 L486.37,157.63 L486.73,157.26 L487.10,157.02 L487.47,156.41 L487.83,156.31 L488.20,155.91 L488.57,155.74 L488.93,155.61 L489.30,155.16 L489.67,155.25 L490.03,154.74 L490.40,154.79 L490.77,154.67 L491.13,154.46 L491.50,154.52 L491.86,154.44 L492.21,154.39 L492.57,154.45 L492.92,154.12 L493.28,154.23 L493.63,154.36 L493.99,154.07 L494.34,154.32 L494.70,154.02 L495.05,154.18 L495.41,153.95 L495.76,154.03 L496.12,153.99 L496.47,153.83 L496.83,154.05 L497.18,153.94 L497.54,154.00 L497.89,153.92 L498.25,153.91 L498.61,153.88 L498.96,153.77 L499.32,153.99 L499.67,153.65 L500.03,153.95 L500.38,153.92 L500.74,153.76 L501.09,153.86 L501.45,153.80 L501.80,153.76 L502.16,153.62 L502.51,153.62 L502.87,153.62 L503.22,153.59 L503.58,153.84 L503.93,153.58 L504.29,153.58 L504.64,153.58 L505.00,153.73 L505.36,153.58 L505.71,153.59 L506.07,153.46 L506.43,153.46 L506.79,153.37 L507.14,153.41 L507.50,153.42 L507.86,153.64 L508.21,153.49 L508.57,153.32 L508.93,153.45 L509.29,153.30 L509.64,153.47 L510.00,153.41 L510.36,153.57 L510.71,153.32 L511.07,153.55 L511.43,153.30 L511.79,153.58 L512.14,153.43 L512.50,153.19 L512.86,153.48 L513.21,153.26 L513.57,153.29 L513.93,153.19 L514.29,153.46 L514.64,153.16 L515.00,153.41 L515.36,153.26 L515.71,153.37 L516.07,153.20 L516.43,153.11 L516.79,153.44 L517.14,153.33 L517.50,153.12 L517.86,153.44 L518.21,153.40 L518.57,153.11 L518.93,153.03 L519.29,153.26 L519.64,153.06 L520.00,153.29 L520.36,153.18 L520.71,153.27 L521.07,153.20 L521.42,153.28 L521.78,153.29 L522.13,153.19 L522.49,153.18 L522.84,153.07 L523.20,152.98 L523.55,152.96 L523.91,153.26 L524.26,152.99 L524.62,153.07 L524.97,153.02 L525.33,153.13 L525.68,153.09 L526.04,153.22 L526.39,153.04 L526.75,153.00 L527.10,153.11 L527.46,153.14 L527.81,153.21 L528.17,152.96 L528.52,153.18 L528.88,153.21 L529.23,153.20 L529.59,152.86 L529.94,152.95 L530.30,153.10 L530.66,153.12 L531.01,152.79 L531.37,152.93 L531.72,153.06 L532.08,153.06 L532.43,152.97 L532.79,152.83 L533.14,152.90 L533.50,152.76 L533.85,152.85 L534.21,152.89 L534.56,153.04 L534.92,152.94 L535.27,152.87 L535.63,152.79 L535.98,152.81 L536.34,152.95 L536.69,152.85 L537.05,152.74 L537.40,152.99 L537.76,152.88 L538.11,153.03 L538.47,152.86 L538.82,152.88 L539.18,152.80 L539.53,152.86 L539.89,152.98 L540.24,153.00 L540.60,152.86" fill="none" stroke="#1ea265" stroke-width="2.3" stroke-linejoin="round" stroke-linecap="round" clip-path="url(#cb)"/>
<path d="M372.20,181.68 L372.55,181.73 L372.90,181.47 L373.25,181.79 L373.61,181.47 L373.96,181.66 L374.31,181.42 L374.66,181.69 L375.01,181.44 L375.36,181.66 L375.71,181.67 L376.07,181.68 L376.42,181.55 L376.77,181.72 L377.12,181.77 L377.47,181.42 L377.82,181.57 L378.18,181.75 L378.53,181.66 L378.88,181.54 L379.23,181.48 L379.58,181.74 L379.93,181.39 L380.28,181.66 L380.64,181.69 L380.99,181.41 L381.34,181.48 L381.69,181.47 L382.04,181.56 L382.39,181.49 L382.74,181.70 L383.10,181.71 L383.45,181.46 L383.80,181.69 L384.15,181.36 L384.50,181.37 L384.85,181.60 L385.20,181.65 L385.56,181.65 L385.91,181.72 L386.26,181.67 L386.61,181.43 L386.96,181.62 L387.31,181.69 L387.66,181.35 L388.02,181.51 L388.37,181.37 L388.72,181.37 L389.07,181.50 L389.42,181.57 L389.77,181.69 L390.12,181.36 L390.48,181.50 L390.83,181.70 L391.18,181.60 L391.53,181.51 L391.88,181.39 L392.23,181.54 L392.59,181.40 L392.94,181.55 L393.29,181.55 L393.64,181.44 L393.99,181.60 L394.34,181.44 L394.69,181.47 L395.05,181.61 L395.40,181.38 L395.75,181.35 L396.10,181.50 L396.45,181.44 L396.80,181.62 L397.15,181.37 L397.51,181.41 L397.86,181.29 L398.21,181.44 L398.56,181.38 L398.91,181.44 L399.26,181.56 L399.61,181.27 L399.97,181.65 L400.32,181.53 L400.67,181.57 L401.02,181.46 L401.37,181.47 L401.72,181.40 L402.07,181.40 L402.43,181.32 L402.78,181.36 L403.13,181.35 L403.48,181.36 L403.83,181.59 L404.18,181.55 L404.54,181.48 L404.89,181.23 L405.24,181.32 L405.59,181.43 L405.94,181.49 L406.29,181.38 L406.64,181.46 L407.00,181.57 L407.35,181.31 L407.70,181.36 L408.05,181.50 L408.40,181.33 L408.75,181.48 L409.10,181.35 L409.46,181.20 L409.81,181.37 L410.16,181.21 L410.51,181.50 L410.86,181.52 L411.21,181.39 L411.56,181.53 L411.92,181.26 L412.27,181.35 L412.62,181.24 L412.97,181.18 L413.32,181.49 L413.67,181.18 L414.02,181.53 L414.38,181.37 L414.73,181.43 L415.08,181.17 L415.43,181.51 L415.78,181.46 L416.13,181.18 L416.49,181.21 L416.84,181.19 L417.19,181.33 L417.54,181.16 L417.89,181.44 L418.24,181.32 L418.59,181.40 L418.95,181.21 L419.30,181.37 L419.65,181.28 L420.00,181.36 L420.35,181.26 L420.71,181.49 L421.06,181.43 L421.42,181.42 L421.77,181.22 L422.12,181.16 L422.48,181.14 L422.83,181.13 L423.19,181.46 L423.54,181.18 L423.90,181.41 L424.25,181.15 L424.60,181.30 L424.96,181.15 L425.31,181.17 L425.67,181.34 L426.02,181.29 L426.38,181.42 L426.73,181.13 L427.08,181.14 L427.44,181.05 L427.79,181.11 L428.15,181.41 L428.50,181.24 L428.85,181.20 L429.21,181.14 L429.56,181.30 L429.92,181.26 L430.27,181.04 L430.62,180.99 L430.98,181.04 L431.33,181.29 L431.69,181.25 L432.04,181.04 L432.40,181.03 L432.75,181.05 L433.10,181.19 L433.46,181.21 L433.81,181.00 L434.17,181.03 L434.52,180.98 L434.88,181.25 L435.23,181.08 L435.58,181.23 L435.94,180.94 L436.29,181.08 L436.65,181.04 L437.00,181.17 L437.36,180.93 L437.72,180.85 L438.07,181.04 L438.43,181.05 L438.79,180.82 L439.15,180.69 L439.51,180.52 L439.87,180.58 L440.23,180.68 L440.58,180.36 L440.94,180.29 L441.30,180.23 L441.66,179.94 L442.01,179.68 L442.37,179.56 L442.72,179.41 L443.08,179.00 L443.43,178.35 L443.79,178.09 L444.14,177.63 L444.50,177.03 L444.85,176.36 L445.20,175.58 L445.55,174.95 L445.90,174.02 L446.25,172.85 L446.60,171.80 L446.95,170.75 L447.30,170.02 L447.65,169.07 L448.00,168.01 L448.40,166.92 L448.80,165.70 L449.20,164.22 L449.60,163.27 L450.00,162.47 L450.40,162.35 L450.75,162.37 L451.10,163.47 L451.45,164.40 L451.80,166.04 L452.16,169.07 L452.52,173.64 L452.88,179.64 L453.24,185.19 L453.60,190.00 L454.03,194.69 L454.45,199.52 L454.88,202.88 L455.30,204.46 L455.73,203.67 L456.15,201.98 L456.57,199.71 L457.00,197.84 L457.35,196.90 L457.70,195.51 L458.05,194.55 L458.40,193.23 L458.75,192.30 L459.10,191.32 L459.45,190.43 L459.80,189.26 L460.15,188.49 L460.50,187.97 L460.85,187.64 L461.21,186.82 L461.56,186.39 L461.91,185.85 L462.27,185.25 L462.62,184.99 L462.97,184.48 L463.33,184.15 L463.68,183.90 L464.03,183.55 L464.39,183.09 L464.74,183.01 L465.09,182.77 L465.45,182.71 L465.80,182.30 L466.16,182.34 L466.51,182.42 L466.87,182.30 L467.22,182.21 L467.57,182.15 L467.93,182.12 L468.29,182.10 L468.64,182.08 L469.00,182.00 L469.35,181.99 L469.70,181.80 L470.06,181.59 L470.42,181.62 L470.77,181.76 L471.12,181.68 L471.48,181.57 L471.83,181.33 L472.19,181.30 L472.55,181.46 L472.90,181.33 L473.25,181.20 L473.61,181.48 L473.97,181.15 L474.32,181.40 L474.68,181.25 L475.03,181.36 L475.38,181.26 L475.74,181.01 L476.10,181.00 L476.45,181.23 L476.81,181.05 L477.16,181.06 L477.51,181.14 L477.87,181.07 L478.23,181.11 L478.58,181.02 L478.94,180.92 L479.29,181.09 L479.64,180.85 L480.00,181.09 L480.35,181.12 L480.70,180.86 L481.05,180.80 L481.40,181.17 L481.75,180.88 L482.11,181.02 L482.46,180.93 L482.81,180.87 L483.16,180.92 L483.51,180.85 L483.86,181.17 L484.21,181.14 L484.56,181.15 L484.91,180.90 L485.26,180.98 L485.61,180.90 L485.96,181.20 L486.32,181.26 L486.67,181.26 L487.02,181.22 L487.37,181.14 L487.72,181.10 L488.07,180.95 L488.42,180.93 L488.77,181.17 L489.12,181.32 L489.47,181.33 L489.82,181.11 L490.18,181.16 L490.53,181.31 L490.88,181.08 L491.23,181.27 L491.58,181.23 L491.93,181.17 L492.28,181.16 L492.63,181.07 L492.98,181.07 L493.33,181.14 L493.68,181.42 L494.04,181.36 L494.39,181.05 L494.74,181.35 L495.09,181.11 L495.44,181.29 L495.79,181.43 L496.14,181.43 L496.49,181.43 L496.84,181.48 L497.19,181.34 L497.54,181.10 L497.89,181.19 L498.25,181.36 L498.60,181.33 L498.95,181.46 L499.30,181.17 L499.65,181.45 L500.00,181.33 L500.35,181.34 L500.70,181.14 L501.05,181.23 L501.40,181.29 L501.75,181.38 L502.11,181.34 L502.46,181.31 L502.81,181.33 L503.16,181.17 L503.51,181.14 L503.86,181.38 L504.21,181.24 L504.56,181.18 L504.91,181.32 L505.26,181.26 L505.61,181.18 L505.96,181.26 L506.32,180.99 L506.67,181.19 L507.02,181.02 L507.37,180.93 L507.72,180.90 L508.07,180.73 L508.42,181.03 L508.77,181.04 L509.12,180.77 L509.47,180.97 L509.82,180.62 L510.18,180.72 L510.53,180.90 L510.88,180.73 L511.23,180.51 L511.58,180.67 L511.93,180.40 L512.28,180.65 L512.63,180.57 L512.98,180.57 L513.33,180.56 L513.68,180.30 L514.04,180.59 L514.39,180.52 L514.74,180.55 L515.09,180.26 L515.44,180.24 L515.79,180.41 L516.14,180.48 L516.49,180.32 L516.84,180.17 L517.19,180.24 L517.54,180.14 L517.89,180.23 L518.25,180.41 L518.60,180.29 L518.95,180.09 L519.30,180.37 L519.65,180.35 L520.00,180.16 L520.36,180.00 L520.71,180.27 L521.07,180.14 L521.43,180.07 L521.79,180.39 L522.14,180.19 L522.50,180.11 L522.86,180.17 L523.21,180.47 L523.57,180.23 L523.93,180.29 L524.29,180.22 L524.64,180.17 L525.00,180.21 L525.36,180.20 L525.71,180.38 L526.07,180.39 L526.43,180.52 L526.79,180.59 L527.14,180.63 L527.50,180.36 L527.86,180.54 L528.21,180.40 L528.57,180.48 L528.93,180.54 L529.29,180.56 L529.64,180.76 L530.00,180.61 L530.36,180.53 L530.71,180.72 L531.07,180.60 L531.43,180.88 L531.79,180.57 L532.14,180.61 L532.50,180.58 L532.86,180.69 L533.21,180.89 L533.57,180.62 L533.93,180.83 L534.29,180.95 L534.64,180.69 L535.00,180.90 L535.36,180.89 L535.71,180.98 L536.07,180.93 L536.43,180.84 L536.79,180.75 L537.14,180.72 L537.50,180.62 L537.86,180.58 L538.21,180.81 L538.57,180.66 L538.93,180.59 L539.29,180.71 L539.64,180.57 L540.00,180.75 L540.36,180.87 L540.71,180.63 L541.07,180.48 L541.43,180.53 L541.79,180.57 L542.14,180.79 L542.50,180.81 L542.86,180.67 L543.21,180.58 L543.57,180.45 L543.93,180.74 L544.29,180.41 L544.64,180.50 L545.00,180.69 L545.35,180.68 L545.70,180.48 L546.05,180.81 L546.40,180.68 L546.75,180.71 L547.10,180.54 L547.45,180.79 L547.80,180.50 L548.15,180.75 L548.50,180.54 L548.85,180.87 L549.20,180.82 L549.55,180.84 L549.90,180.79 L550.25,180.99 L550.60,180.72 L550.95,180.80 L551.30,180.78 L551.65,181.06 L552.00,180.87 L552.35,180.88 L552.70,181.26 L553.05,181.08 L553.40,181.14 L553.75,181.36 L554.10,181.21 L554.45,181.44 L554.80,181.54 L555.15,181.22 L555.50,181.30 L555.85,181.25 L556.20,181.38 L556.55,181.55 L556.90,181.73 L557.25,181.69 L557.60,181.69" fill="none" stroke="#35dde2" stroke-width="2.3" stroke-linejoin="round" stroke-linecap="round" clip-path="url(#cb)"/>
<path d="M372.20,215.55 L372.55,215.77 L372.90,215.74 L373.26,215.49 L373.61,215.75 L373.96,215.65 L374.31,215.42 L374.66,215.78 L375.02,215.50 L375.37,215.52 L375.72,215.57 L376.07,215.64 L376.42,215.45 L376.77,215.67 L377.13,215.73 L377.48,215.60 L377.83,215.72 L378.18,215.65 L378.53,215.73 L378.89,215.47 L379.24,215.54 L379.59,215.59 L379.94,215.44 L380.29,215.79 L380.65,215.65 L381.00,215.44 L381.35,215.63 L381.70,215.57 L382.05,215.48 L382.41,215.46 L382.76,215.58 L383.11,215.43 L383.46,215.63 L383.81,215.61 L384.16,215.45 L384.52,215.75 L384.87,215.42 L385.22,215.47 L385.57,215.73 L385.92,215.49 L386.28,215.57 L386.63,215.62 L386.98,215.57 L387.33,215.60 L387.68,215.60 L388.04,215.59 L388.39,215.42 L388.74,215.73 L389.09,215.51 L389.44,215.42 L389.79,215.56 L390.15,215.73 L390.50,215.65 L390.85,215.58 L391.20,215.59 L391.55,215.49 L391.91,215.65 L392.26,215.54 L392.61,215.43 L392.96,215.45 L393.31,215.44 L393.67,215.67 L394.02,215.75 L394.37,215.70 L394.72,215.49 L395.07,215.46 L395.43,215.78 L395.78,215.55 L396.13,215.47 L396.48,215.63 L396.83,215.65 L397.18,215.62 L397.54,215.58 L397.89,215.52 L398.24,215.60 L398.59,215.58 L398.94,215.67 L399.30,215.58 L399.65,215.54 L400.00,215.79 L400.35,215.44 L400.70,215.70 L401.06,215.57 L401.41,215.72 L401.76,215.68 L402.11,215.62 L402.46,215.64 L402.82,215.49 L403.17,215.40 L403.52,215.69 L403.87,215.50 L404.23,215.44 L404.58,215.71 L404.93,215.62 L405.28,215.40 L405.63,215.59 L405.99,215.45 L406.34,215.73 L406.69,215.48 L407.04,215.75 L407.39,215.62 L407.75,215.40 L408.10,215.53 L408.45,215.75 L408.80,215.64 L409.15,215.42 L409.51,215.50 L409.86,215.46 L410.21,215.38 L410.56,215.58 L410.92,215.61 L411.27,215.42 L411.62,215.55 L411.97,215.66 L412.32,215.67 L412.68,215.38 L413.03,215.33 L413.38,215.66 L413.73,215.42 L414.08,215.35 L414.44,215.60 L414.79,215.38 L415.14,215.55 L415.49,215.54 L415.85,215.37 L416.20,215.43 L416.55,215.35 L416.90,215.55 L417.25,215.34 L417.61,215.33 L417.96,215.55 L418.31,215.31 L418.66,215.37 L419.01,215.39 L419.37,215.17 L419.72,215.28 L420.07,215.45 L420.42,215.54 L420.77,215.27 L421.13,215.32 L421.48,215.14 L421.83,215.30 L422.18,215.24 L422.54,215.28 L422.89,215.19 L423.24,215.19 L423.59,215.41 L423.94,215.35 L424.30,215.17 L424.65,215.04 L425.00,215.02 L425.35,215.02 L425.71,215.01 L426.06,215.17 L426.41,215.11 L426.76,214.91 L427.12,215.16 L427.47,215.02 L427.82,214.98 L428.18,214.98 L428.53,214.68 L428.88,214.83 L429.24,214.77 L429.59,214.64 L429.94,214.19 L430.29,214.40 L430.65,214.33 L431.00,213.84 L431.35,213.95 L431.70,213.61 L432.05,212.87 L432.40,212.61 L432.75,212.02 L433.10,211.33 L433.45,210.31 L433.80,209.88 L434.15,208.69 L434.50,207.83 L434.88,207.05 L435.25,205.39 L435.62,203.57 L436.00,201.81 L436.38,200.01 L436.75,198.03 L437.12,196.61 L437.50,195.07 L437.88,193.54 L438.25,192.10 L438.62,190.89 L439.00,190.79 L439.38,190.99 L439.75,192.46 L440.12,194.03 L440.50,196.01 L440.90,199.23 L441.30,204.45 L441.70,210.09 L442.10,215.75 L442.50,220.05 L442.85,223.09 L443.20,225.73 L443.55,228.40 L443.90,230.86 L444.25,232.10 L444.60,232.68 L444.98,232.59 L445.36,232.07 L445.74,231.61 L446.12,230.49 L446.50,230.15 L446.87,229.39 L447.25,228.63 L447.62,228.03 L447.99,227.63 L448.36,226.68 L448.74,226.11 L449.11,225.31 L449.48,224.86 L449.85,224.35 L450.23,223.81 L450.60,223.14 L450.97,222.69 L451.33,222.38 L451.70,221.94 L452.07,221.32 L452.43,220.73 L452.80,220.67 L453.17,220.03 L453.53,219.71 L453.90,219.19 L454.27,218.85 L454.63,218.60 L455.00,218.52 L455.36,218.18 L455.71,218.17 L456.07,217.70 L456.43,217.71 L456.79,217.27 L457.14,217.22 L457.50,217.28 L457.86,216.85 L458.21,216.72 L458.57,216.47 L458.93,216.68 L459.29,216.41 L459.64,216.20 L460.00,216.22 L460.36,216.01 L460.71,216.17 L461.07,215.90 L461.43,215.67 L461.79,215.64 L462.14,215.50 L462.50,215.70 L462.86,215.36 L463.21,215.44 L463.57,215.41 L463.93,215.14 L464.29,215.29 L464.64,215.22 L465.00,215.27 L465.36,215.22 L465.71,215.17 L466.07,214.94 L466.43,214.87 L466.79,214.80 L467.14,214.63 L467.50,214.77 L467.86,214.89 L468.21,214.65 L468.57,214.76 L468.93,214.49 L469.29,214.50 L469.64,214.49 L470.00,214.69 L470.35,214.43 L470.70,214.56 L471.05,214.29 L471.40,214.52 L471.75,214.38 L472.11,214.57 L472.46,214.16 L472.81,214.24 L473.16,214.47 L473.51,214.27 L473.86,214.19 L474.21,214.40 L474.56,214.21 L474.91,214.37 L475.26,214.22 L475.61,214.01 L475.96,214.01 L476.32,214.30 L476.67,214.30 L477.02,213.98 L477.37,214.30 L477.72,214.22 L478.07,214.08 L478.42,214.16 L478.77,214.05 L479.12,213.84 L479.47,213.93 L479.82,213.94 L480.18,214.14 L480.53,213.88 L480.88,214.04 L481.23,214.00 L481.58,213.79 L481.93,213.91 L482.28,213.94 L482.63,214.00 L482.98,213.84 L483.33,214.08 L483.68,214.00 L484.04,213.68 L484.39,214.02 L484.74,213.90 L485.09,214.02 L485.44,213.73 L485.79,213.95 L486.14,213.92 L486.49,213.79 L486.84,213.76 L487.19,213.86 L487.54,214.00 L487.89,213.88 L488.25,213.86 L488.60,213.88 L488.95,213.94 L489.30,213.84 L489.65,213.88 L490.00,213.62 L490.35,213.95 L490.70,213.99 L491.05,213.84 L491.40,213.84 L491.75,213.99 L492.11,213.84 L492.46,213.98 L492.81,213.85 L493.16,213.87 L493.51,214.01 L493.86,214.03 L494.21,213.91 L494.56,213.90 L494.91,213.91 L495.26,213.89 L495.61,213.86 L495.96,213.82 L496.32,213.86 L496.67,213.85 L497.02,214.15 L497.37,213.95 L497.72,214.15 L498.07,214.01 L498.42,214.23 L498.77,214.09 L499.12,214.01 L499.47,214.06 L499.82,214.01 L500.18,214.05 L500.53,214.06 L500.88,214.07 L501.23,214.13 L501.58,214.01 L501.93,214.39 L502.28,214.36 L502.63,214.19 L502.98,214.41 L503.33,214.11 L503.68,214.36 L504.04,214.36 L504.39,214.50 L504.74,214.56 L505.09,214.43 L505.44,214.53 L505.79,214.50 L506.14,214.27 L506.49,214.30 L506.84,214.32 L507.19,214.59 L507.54,214.49 L507.89,214.46 L508.25,214.53 L508.60,214.72 L508.95,214.55 L509.30,214.71 L509.65,214.53 L510.00,214.66 L510.35,214.72 L510.70,214.50 L511.05,214.80 L511.40,214.53 L511.75,214.53 L512.11,214.86 L512.46,214.58 L512.81,214.68 L513.16,214.89 L513.51,214.61 L513.86,214.81 L514.21,214.85 L514.56,214.60 L514.91,214.63 L515.26,214.99 L515.61,214.95 L515.96,214.90 L516.32,214.90 L516.67,214.85 L517.02,215.03 L517.37,214.69 L517.72,214.81 L518.07,214.83 L518.42,214.98 L518.77,215.12 L519.12,214.85 L519.47,214.81 L519.82,214.88 L520.18,215.13 L520.53,215.05 L520.88,214.88 L521.23,215.11 L521.58,215.00 L521.93,214.88 L522.28,214.99 L522.63,215.22 L522.98,215.27 L523.33,215.05 L523.68,215.22 L524.04,215.29 L524.39,214.97 L524.74,215.01 L525.09,215.07 L525.44,215.08 L525.79,215.21 L526.14,215.36 L526.49,215.05 L526.84,215.09 L527.19,215.19 L527.54,215.28 L527.89,215.05 L528.25,215.22 L528.60,215.24 L528.95,215.31 L529.30,215.14 L529.65,215.13 L530.00,215.23 L530.36,215.15 L530.71,215.18 L531.07,215.30 L531.43,215.37 L531.79,215.37 L532.14,215.04 L532.50,215.17 L532.86,215.16 L533.21,215.15 L533.57,214.99 L533.93,215.03 L534.29,215.04 L534.64,214.94 L535.00,215.04 L535.36,215.19 L535.71,215.07 L536.07,214.85 L536.43,214.86 L536.79,214.89 L537.14,215.05 L537.50,214.71 L537.86,214.71 L538.21,214.99 L538.57,214.78 L538.93,214.69 L539.29,214.81 L539.64,214.59 L540.00,214.84 L540.36,214.89 L540.71,214.54 L541.07,214.71 L541.43,214.86 L541.79,214.60 L542.14,214.58 L542.50,214.80 L542.86,214.43 L543.21,214.44 L543.57,214.65 L543.93,214.74 L544.29,214.63 L544.64,214.68 L545.00,214.57 L545.35,214.79 L545.70,214.53 L546.05,214.63 L546.40,214.48 L546.75,214.54 L547.10,214.68 L547.45,214.47 L547.80,214.76 L548.15,214.57 L548.50,214.80 L548.85,214.56 L549.20,214.77 L549.55,214.74 L549.90,214.66 L550.25,214.90 L550.60,214.88 L550.95,214.79 L551.30,214.87 L551.65,214.85 L552.00,215.01 L552.35,214.74 L552.70,214.77 L553.05,215.01 L553.40,214.83 L553.75,215.18 L554.10,215.21 L554.45,214.98 L554.80,214.98 L555.15,215.28 L555.50,214.99 L555.85,215.19 L556.20,215.06 L556.55,215.44 L556.90,215.23 L557.25,215.36 L557.60,215.23 L557.95,215.49 L558.30,215.45 L558.65,215.18 L559.00,215.23" fill="none" stroke="#1a5cb4" stroke-width="2.3" stroke-linejoin="round" stroke-linecap="round" clip-path="url(#cb)"/>
<path d="M372.20,248.20 L372.55,247.91 L372.91,247.84 L373.26,247.93 L373.62,247.65 L373.97,247.87 L374.33,247.80 L374.68,247.45 L375.04,247.65 L375.39,247.51 L375.75,247.50 L376.10,247.56 L376.45,247.51 L376.81,247.21 L377.16,247.31 L377.52,247.22 L377.87,247.22 L378.23,246.76 L378.58,247.04 L378.94,246.67 L379.29,246.55 L379.65,246.64 L380.00,246.64 L380.36,246.57 L380.71,246.22 L381.07,246.28 L381.43,245.82 L381.79,246.05 L382.14,245.63 L382.50,245.57 L382.86,245.24 L383.21,245.04 L383.57,244.84 L383.93,244.90 L384.29,244.70 L384.64,244.62 L385.00,244.44 L385.36,244.08 L385.71,244.05 L386.07,243.58 L386.43,243.64 L386.79,243.17 L387.14,243.22 L387.50,242.76 L387.86,242.54 L388.21,242.32 L388.57,241.88 L388.93,241.61 L389.29,241.52 L389.64,241.29 L390.00,240.72 L390.38,240.52 L390.75,240.13 L391.12,239.89 L391.50,239.55 L391.88,238.74 L392.25,238.46 L392.62,237.80 L393.00,237.59 L393.38,237.16 L393.75,236.57 L394.12,236.02 L394.50,235.32 L394.88,234.79 L395.25,234.19 L395.62,233.43 L396.00,232.77 L396.38,232.47 L396.75,231.71 L397.12,231.59 L397.50,231.40 L397.86,231.56 L398.21,232.04 L398.57,232.58 L398.93,233.22 L399.29,234.15 L399.64,235.05 L400.00,235.81 L400.40,236.92 L400.80,238.42 L401.20,239.85 L401.60,241.58 L402.00,243.05 L402.38,244.75 L402.75,246.40 L403.12,248.35 L403.50,250.42 L403.88,252.11 L404.25,254.09 L404.62,256.17 L405.00,257.92 L405.35,259.70 L405.70,261.46 L406.05,263.49 L406.40,265.45 L406.75,267.57 L407.10,269.09 L407.45,270.59 L407.80,272.03 L408.15,272.69 L408.50,272.81 L408.85,272.94 L409.20,272.13 L409.55,271.41 L409.90,270.23 L410.25,269.07 L410.60,267.96 L411.00,266.58 L411.40,265.47 L411.80,263.71 L412.20,262.15 L412.60,260.74 L413.00,259.84 L413.36,259.21 L413.71,258.23 L414.07,257.68 L414.43,256.97 L414.79,256.26 L415.14,255.71 L415.50,255.17 L415.86,254.71 L416.21,253.85 L416.57,253.41 L416.93,253.00 L417.29,252.51 L417.64,252.19 L418.00,251.87 L418.36,251.43 L418.71,251.20 L419.07,250.68 L419.43,250.73 L419.79,250.36 L420.14,249.83 L420.50,249.60 L420.86,249.56 L421.21,249.07 L421.57,249.07 L421.93,248.56 L422.29,248.57 L422.64,248.38 L423.00,248.12 L423.36,248.01 L423.71,247.85 L424.07,247.64 L424.43,247.05 L424.79,247.00 L425.14,246.64 L425.50,246.69 L425.86,246.29 L426.21,246.10 L426.57,245.91 L426.93,245.77 L427.29,245.78 L427.64,245.70 L428.00,245.81 L428.36,245.93 L428.72,245.89 L429.08,245.74 L429.44,245.72 L429.80,245.93 L430.16,245.74 L430.52,245.90 L430.88,246.04 L431.24,245.89 L431.60,245.86 L431.96,245.70 L432.32,245.80 L432.68,246.09 L433.04,245.74 L433.40,245.75 L433.76,245.98 L434.12,245.87 L434.48,246.00 L434.84,245.86 L435.20,245.87 L435.56,245.89 L435.92,246.08 L436.28,246.07 L436.64,245.81 L437.00,246.08 L437.35,246.10 L437.70,245.98 L438.05,245.82 L438.40,245.78 L438.75,246.15 L439.10,245.78 L439.45,245.72 L439.80,245.73 L440.15,246.04 L440.50,246.06 L440.85,245.94 L441.20,245.98 L441.55,245.90 L441.90,245.58 L442.25,245.68 L442.60,245.76 L442.95,245.75 L443.30,245.75 L443.65,245.70 L444.00,245.45 L444.36,245.53 L444.73,245.73 L445.09,245.57 L445.45,245.36 L445.82,245.42 L446.18,245.60 L446.55,245.28 L446.91,245.18 L447.27,245.43 L447.64,245.33 L448.00,245.18 L448.36,245.19 L448.73,245.07 L449.09,245.21 L449.45,245.03 L449.82,245.10 L450.18,245.23 L450.55,245.10 L450.91,244.96 L451.27,244.86 L451.64,245.00 L452.00,244.82 L452.35,245.11 L452.71,245.01 L453.06,245.02 L453.41,245.00 L453.76,245.20 L454.12,245.14 L454.47,245.20 L454.82,245.16 L455.18,245.18 L455.53,245.25 L455.88,245.39 L456.24,245.67 L456.59,245.72 L456.94,245.62 L457.29,245.64 L457.65,245.82 L458.00,246.07 L458.36,246.00 L458.71,246.21 L459.07,246.22 L459.43,246.65 L459.79,246.74 L460.14,246.87 L460.50,247.28 L460.86,247.28 L461.21,247.38 L461.57,247.73 L461.93,248.02 L462.29,248.06 L462.64,248.33 L463.00,248.32 L463.35,248.35 L463.70,248.62 L464.05,248.52 L464.40,249.02 L464.75,248.97 L465.10,248.91 L465.45,249.15 L465.80,249.41 L466.15,249.63 L466.50,249.78 L466.85,249.67 L467.20,249.99 L467.55,249.94 L467.90,250.05 L468.25,250.25 L468.60,250.26 L468.95,250.25 L469.30,250.07 L469.65,250.23 L470.00,250.40 L470.36,250.26 L470.71,250.11 L471.07,250.43 L471.43,250.23 L471.79,250.37 L472.14,250.20 L472.50,250.19 L472.86,250.27 L473.21,250.22 L473.57,250.37 L473.93,250.21 L474.29,250.10 L474.64,250.16 L475.00,250.22 L475.36,250.19 L475.71,249.87 L476.07,250.05 L476.43,250.18 L476.79,249.99 L477.14,249.84 L477.50,249.81 L477.86,249.94 L478.21,250.03 L478.57,249.99 L478.93,249.82 L479.29,249.66 L479.64,249.74 L480.00,249.84 L480.36,249.78 L480.71,249.72 L481.07,249.63 L481.43,249.71 L481.79,249.57 L482.14,249.74 L482.50,249.53 L482.86,249.51 L483.21,249.80 L483.57,249.42 L483.93,249.53 L484.29,249.57 L484.64,249.39 L485.00,249.47 L485.36,249.66 L485.71,249.60 L486.07,249.40 L486.43,249.40 L486.79,249.34 L487.14,249.54 L487.50,249.31 L487.86,249.47 L488.21,249.53 L488.57,249.24 L488.93,249.36 L489.29,249.41 L489.64,249.28 L490.00,249.42 L490.36,249.14 L490.71,249.20 L491.07,249.14 L491.43,249.09 L491.79,249.34 L492.14,248.96 L492.50,249.06 L492.86,249.30 L493.21,248.99 L493.57,249.14 L493.93,249.20 L494.29,248.93 L494.64,248.90 L495.00,249.07 L495.36,248.81 L495.71,249.01 L496.07,249.10 L496.43,249.09 L496.79,249.07 L497.14,248.89 L497.50,249.00 L497.86,249.04 L498.21,248.92 L498.57,248.72 L498.93,248.90 L499.29,248.78 L499.64,248.73 L500.00,248.61 L500.36,248.86 L500.71,248.78 L501.07,248.51 L501.43,248.56 L501.79,248.48 L502.14,248.67 L502.50,248.73 L502.86,248.57 L503.21,248.50 L503.57,248.57 L503.93,248.65 L504.29,248.42 L504.64,248.43 L505.00,248.66 L505.36,248.76 L505.71,248.63 L506.07,248.44 L506.43,248.62 L506.79,248.53 L507.14,248.64 L507.50,248.54 L507.86,248.55 L508.21,248.84 L508.57,248.61 L508.93,248.66 L509.29,248.89 L509.64,248.68 L510.00,248.65 L510.36,248.64 L510.71,248.61 L511.07,248.89 L511.43,248.94 L511.79,248.82 L512.14,248.84 L512.50,248.64" fill="none" stroke="#0c0c62" stroke-width="2.3" stroke-linejoin="round" stroke-linecap="round" clip-path="url(#cb)"/>
<path d="M372.20,277.06 L372.56,276.94 L372.92,276.91 L373.27,276.47 L373.63,276.28 L373.99,276.46 L374.35,276.13 L374.71,276.01 L375.06,276.06 L375.42,275.68 L375.78,275.83 L376.14,275.53 L376.49,275.23 L376.85,275.42 L377.21,275.14 L377.57,274.79 L377.93,274.94 L378.28,274.75 L378.64,274.57 L379.00,274.36 L379.35,274.32 L379.71,273.74 L380.06,273.93 L380.41,273.60 L380.76,273.24 L381.12,273.17 L381.47,272.84 L381.82,272.74 L382.18,272.53 L382.53,272.22 L382.88,271.80 L383.24,271.66 L383.59,271.36 L383.94,271.27 L384.29,271.06 L384.65,270.71 L385.00,270.31 L385.36,269.85 L385.71,269.72 L386.07,269.17 L386.43,269.08 L386.79,268.34 L387.14,268.24 L387.50,267.42 L387.86,267.29 L388.21,266.67 L388.57,266.31 L388.93,265.79 L389.29,265.30 L389.64,264.91 L390.00,264.63 L390.37,263.95 L390.74,263.40 L391.11,262.97 L391.48,262.11 L391.85,261.59 L392.22,261.10 L392.59,260.62 L392.96,260.10 L393.33,260.09 L393.70,259.90 L394.06,259.82 L394.42,260.14 L394.77,260.39 L395.13,260.99 L395.49,261.48 L395.85,262.21 L396.21,263.08 L396.57,263.95 L396.93,264.64 L397.28,265.59 L397.64,266.51 L398.00,267.43 L398.36,268.59 L398.73,269.55 L399.09,271.19 L399.45,272.66 L399.82,274.47 L400.18,276.12 L400.55,277.62 L400.91,279.40 L401.27,281.43 L401.64,282.88 L402.00,284.55 L402.37,285.92 L402.73,287.84 L403.10,289.61 L403.47,291.51 L403.83,293.18 L404.20,295.34 L404.57,296.99 L404.93,298.44 L405.30,299.64 L405.67,300.45 L406.03,301.06 L406.40,301.54 L406.77,301.25 L407.14,301.06 L407.51,300.93 L407.89,300.31 L408.26,300.12 L408.63,299.33 L409.00,299.14 L409.38,298.44 L409.75,297.82 L410.12,297.35 L410.50,296.85 L410.88,295.89 L411.25,295.40 L411.62,294.81 L412.00,293.81 L412.35,293.36 L412.71,292.61 L413.06,291.97 L413.41,291.39 L413.76,290.49 L414.12,289.68 L414.47,288.89 L414.82,288.38 L415.18,287.37 L415.53,286.87 L415.88,286.27 L416.24,285.47 L416.59,284.90 L416.94,283.98 L417.29,283.61 L417.65,283.10 L418.00,282.43 L418.35,282.15 L418.70,281.68 L419.05,281.19 L419.40,280.89 L419.75,280.37 L420.10,280.31 L420.45,279.62 L420.80,279.40 L421.15,279.11 L421.50,278.50 L421.85,278.54 L422.20,278.23 L422.55,277.81 L422.90,277.52 L423.25,277.41 L423.60,277.10 L423.95,276.77 L424.30,276.89 L424.65,276.47 L425.00,276.52 L425.36,276.44 L425.71,276.46 L426.07,276.23 L426.43,276.27 L426.79,276.03 L427.14,276.17 L427.50,275.90 L427.86,275.92 L428.21,275.94 L428.57,275.97 L428.93,276.00 L429.29,275.98 L429.64,275.74 L430.00,275.54 L430.36,275.71 L430.71,275.67 L431.07,275.70 L431.43,275.39 L431.79,275.66 L432.14,275.36 L432.50,275.62 L432.86,275.65 L433.21,275.45 L433.57,275.38 L433.93,275.44 L434.29,275.20 L434.64,275.39 L435.00,275.44 L435.36,275.45 L435.71,275.33 L436.07,275.31 L436.43,275.39 L436.79,275.13 L437.14,275.09 L437.50,275.33 L437.86,274.94 L438.21,275.04 L438.57,275.17 L438.93,275.23 L439.29,275.16 L439.64,274.90 L440.00,275.12 L440.36,274.87 L440.71,274.98 L441.07,275.00 L441.43,275.13 L441.79,274.81 L442.14,274.85 L442.50,274.81 L442.86,274.80 L443.21,274.73 L443.57,274.81 L443.93,274.74 L444.29,274.73 L444.64,274.95 L445.00,274.64 L445.36,274.77 L445.73,274.59 L446.09,274.59 L446.45,274.89 L446.82,274.85 L447.18,274.90 L447.55,274.56 L447.91,274.81 L448.27,274.61 L448.64,274.79 L449.00,274.69 L449.36,274.63 L449.73,274.69 L450.09,274.54 L450.45,274.64 L450.82,274.76 L451.18,274.67 L451.55,274.71 L451.91,274.79 L452.27,274.45 L452.64,274.71 L453.00,274.78 L453.36,274.62 L453.71,274.57 L454.07,274.72 L454.43,274.56 L454.79,274.88 L455.14,274.95 L455.50,274.74 L455.86,275.03 L456.21,275.10 L456.57,275.30 L456.93,275.27 L457.29,275.24 L457.64,275.31 L458.00,275.51 L458.35,275.55 L458.70,275.72 L459.05,276.05 L459.40,276.33 L459.75,276.24 L460.10,276.60 L460.45,276.78 L460.80,277.06 L461.15,277.40 L461.50,277.39 L461.85,277.69 L462.20,277.85 L462.55,277.91 L462.90,278.21 L463.25,278.58 L463.60,278.62 L463.95,278.52 L464.30,278.66 L464.65,278.66 L465.00,278.76 L465.36,278.78 L465.71,278.65 L466.07,278.77 L466.43,278.99 L466.79,278.75 L467.14,278.84 L467.50,278.97 L467.86,278.73 L468.21,278.71 L468.57,278.74 L468.93,278.62 L469.29,278.58 L469.64,278.60 L470.00,278.81 L470.36,278.84 L470.71,278.83 L471.07,278.57 L471.43,278.62 L471.79,278.86 L472.14,278.77 L472.50,278.63 L472.86,278.76 L473.21,278.56 L473.57,278.48 L473.93,278.80 L474.29,278.77 L474.64,278.62 L475.00,278.58 L475.36,278.76 L475.71,278.61 L476.07,278.77 L476.43,278.38 L476.79,278.62 L477.14,278.46 L477.50,278.63 L477.86,278.71 L478.21,278.34 L478.57,278.59 L478.93,278.64 L479.29,278.50 L479.64,278.35 L480.00,278.50 L480.35,278.57 L480.70,278.51 L481.05,278.51 L481.40,278.41 L481.75,278.41 L482.11,278.37 L482.46,278.56 L482.81,278.27 L483.16,278.50 L483.51,278.52 L483.86,278.43 L484.21,278.42 L484.56,278.56 L484.91,278.44 L485.26,278.26 L485.61,278.53 L485.96,278.62 L486.32,278.62 L486.67,278.57 L487.02,278.24 L487.37,278.45 L487.72,278.29 L488.07,278.54 L488.42,278.26 L488.77,278.41 L489.12,278.56 L489.47,278.28 L489.82,278.50 L490.18,278.59 L490.53,278.37 L490.88,278.39 L491.23,278.22 L491.58,278.55 L491.93,278.24 L492.28,278.48 L492.63,278.46 L492.98,278.28 L493.33,278.56 L493.68,278.54 L494.04,278.41 L494.39,278.33 L494.74,278.35 L495.09,278.33 L495.44,278.41 L495.79,278.54 L496.14,278.18 L496.49,278.25 L496.84,278.35 L497.19,278.38 L497.54,278.41 L497.89,278.49 L498.25,278.45 L498.60,278.26 L498.95,278.28 L499.30,278.33 L499.65,278.48 L500.00,278.19 L500.36,278.15 L500.71,278.21 L501.07,278.37 L501.43,278.34 L501.79,278.25 L502.14,278.27 L502.50,278.34 L502.86,278.40 L503.21,278.07 L503.57,278.25 L503.93,278.06 L504.29,278.35 L504.64,278.23 L505.00,278.39 L505.36,278.30 L505.71,278.33 L506.07,278.20 L506.43,278.31 L506.79,278.10 L507.14,278.06 L507.50,278.22 L507.86,278.18 L508.21,278.19 L508.57,278.29 L508.93,278.18 L509.29,278.22 L509.64,278.22 L510.00,278.11 L510.36,278.25 L510.71,278.20 L511.07,278.17 L511.43,278.27 L511.79,278.18 L512.14,278.09 L512.50,278.00" fill="none" stroke="#700e72" stroke-width="2.3" stroke-linejoin="round" stroke-linecap="round" clip-path="url(#cb)"/>
<path d="M372.20,308.96 L372.56,308.48 L372.93,308.63 L373.29,307.54 L373.65,306.97 L374.01,306.92 L374.38,306.35 L374.74,305.55 L375.10,305.30 L375.46,305.42 L375.82,303.92 L376.19,303.50 L376.55,302.78 L376.91,302.58 L377.27,301.89 L377.64,302.66 L378.00,301.24 L378.36,301.70 L378.73,300.01 L379.09,300.60 L379.45,299.55 L379.82,299.31 L380.18,298.79 L380.55,297.78 L380.91,297.28 L381.27,297.49 L381.64,296.34 L382.00,295.82 L382.35,296.55 L382.71,296.01 L383.06,295.14 L383.42,295.16 L383.77,295.37 L384.12,294.17 L384.48,293.65 L384.83,293.79 L385.18,293.20 L385.54,293.29 L385.89,292.67 L386.25,293.60 L386.60,293.63 L386.98,293.11 L387.36,293.37 L387.73,293.59 L388.11,295.07 L388.49,295.57 L388.87,295.95 L389.24,296.00 L389.62,296.76 L390.00,298.37 L390.36,298.45 L390.73,300.26 L391.09,301.19 L391.45,302.11 L391.82,303.92 L392.18,306.58 L392.55,307.44 L392.91,309.62 L393.27,311.38 L393.64,312.43 L394.00,314.00 L394.36,315.89 L394.73,317.13 L395.09,318.30 L395.45,319.78 L395.82,321.07 L396.18,322.42 L396.55,324.08 L396.91,324.71 L397.27,326.70 L397.64,326.88 L398.00,327.62 L398.36,329.40 L398.73,328.82 L399.09,330.11 L399.45,331.02 L399.82,331.53 L400.18,332.68 L400.55,332.99 L400.91,333.19 L401.27,332.82 L401.64,334.41 L402.00,333.61 L402.35,333.51 L402.70,333.05 L403.05,332.60 L403.40,331.94 L403.75,331.34 L404.10,331.38 L404.45,330.09 L404.80,329.60 L405.15,328.99 L405.50,327.40 L405.88,327.46 L406.25,325.60 L406.62,325.27 L407.00,324.09 L407.38,322.12 L407.75,320.52 L408.12,319.36 L408.50,318.51 L408.88,317.25 L409.25,315.58 L409.62,313.94 L410.00,312.86 L410.36,312.30 L410.73,310.82 L411.09,310.51 L411.45,308.95 L411.82,308.37 L412.18,307.43 L412.55,306.63 L412.91,306.31 L413.27,305.69 L413.64,304.92 L414.00,304.20 L414.36,303.38 L414.73,302.92 L415.09,302.58 L415.45,302.71 L415.82,302.17 L416.18,300.91 L416.55,300.79 L416.91,300.25 L417.27,300.33 L417.64,300.84 L418.00,300.38 L418.38,299.36 L418.76,300.22 L419.13,299.88 L419.51,299.54 L419.89,298.79 L420.27,298.67 L420.64,298.67 L421.02,299.74 L421.40,299.07 L421.75,298.58 L422.11,299.65 L422.46,299.21 L422.82,299.03 L423.17,299.13 L423.52,298.90 L423.88,298.69 L424.23,299.79 L424.58,299.96 L424.94,299.26 L425.29,299.62 L425.65,300.07 L426.00,298.93 L426.35,300.35 L426.71,299.19 L427.06,299.65 L427.41,299.32 L427.76,299.63 L428.12,299.69 L428.47,299.96 L428.82,300.36 L429.18,300.75 L429.53,300.68 L429.88,301.14 L430.24,301.54 L430.59,300.62 L430.94,300.89 L431.29,301.27 L431.65,300.77 L432.00,300.55 L432.36,301.66 L432.73,301.21 L433.09,301.01 L433.45,301.39 L433.82,300.86 L434.18,300.98 L434.55,300.65 L434.91,301.03 L435.27,300.86 L435.64,301.16 L436.00,301.60 L436.36,301.45 L436.73,301.25 L437.09,301.12 L437.45,301.49 L437.82,300.49 L438.18,301.56 L438.55,300.43 L438.91,301.41 L439.27,300.84 L439.64,301.11 L440.00,301.47 L440.36,300.12 L440.73,300.48 L441.09,300.17 L441.45,300.38 L441.82,300.24 L442.18,300.76 L442.55,300.95 L442.91,300.08 L443.27,300.23 L443.64,299.76 L444.00,299.64 L444.36,299.69 L444.73,299.50 L445.09,300.53 L445.45,299.71 L445.82,300.21 L446.18,300.28 L446.55,299.51 L446.91,299.78 L447.27,300.00 L447.64,299.74 L448.00,299.97 L448.36,299.21 L448.71,300.31 L449.07,300.50 L449.43,300.47 L449.79,300.24 L450.14,299.97 L450.50,299.46 L450.86,299.32 L451.21,299.80 L451.57,299.48 L451.93,300.09 L452.29,300.55 L452.64,299.65 L453.00,300.12 L453.36,299.69 L453.71,300.89 L454.07,300.69 L454.43,300.91 L454.79,301.15 L455.14,301.15 L455.50,302.55 L455.86,302.34 L456.21,303.43 L456.57,303.58 L456.93,304.14 L457.29,303.70 L457.64,304.46 L458.00,304.64 L458.36,304.11 L458.72,305.43 L459.07,304.87 L459.43,305.25 L459.79,304.89 L460.15,305.60 L460.51,305.38 L460.87,305.78 L461.23,306.68 L461.58,305.88 L461.94,306.70 L462.30,306.13 L462.67,306.58 L463.03,306.84 L463.40,306.04 L463.77,305.89 L464.13,306.99 L464.50,306.13 L464.87,306.76 L465.23,306.01 L465.60,307.00 L465.97,306.94 L466.33,305.94 L466.70,306.79 L467.07,305.87 L467.43,306.77 L467.80,305.63 L468.17,306.04 L468.53,305.57 L468.90,306.74 L469.27,305.93 L469.63,306.31 L470.00,306.60 L470.36,305.85 L470.71,306.45 L471.07,306.37 L471.43,306.25 L471.79,305.82 L472.14,305.90 L472.50,306.16 L472.86,306.50 L473.21,305.52 L473.57,306.30 L473.93,305.41 L474.29,305.64 L474.64,305.33 L475.00,305.38 L475.36,306.12 L475.71,306.54 L476.07,306.38 L476.43,305.89 L476.79,306.47 L477.14,305.09 L477.50,305.49 L477.86,305.06 L478.21,305.80 L478.57,306.27 L478.93,305.43 L479.29,305.70 L479.64,305.34 L480.00,305.39 L480.36,305.03 L480.71,305.73 L481.07,305.90 L481.43,306.01 L481.79,305.95 L482.14,305.74 L482.50,305.51 L482.86,305.94 L483.21,305.68 L483.57,305.68 L483.93,305.45 L484.29,305.97 L484.64,305.53 L485.00,305.84 L485.36,305.39 L485.71,304.84 L486.07,305.31 L486.43,305.79 L486.79,304.64 L487.14,305.86 L487.50,305.36 L487.86,305.07 L488.21,304.96 L488.57,305.18 L488.93,305.56 L489.29,305.11 L489.64,304.49 L490.00,304.83 L490.36,304.42 L490.71,305.21 L491.07,305.36 L491.43,304.67 L491.79,305.46 L492.14,305.31 L492.50,305.14 L492.86,304.95 L493.21,304.04 L493.57,303.92 L493.93,303.92 L494.29,303.93 L494.64,304.60 L495.00,304.81 L495.36,304.92 L495.71,304.19 L496.07,304.37 L496.43,303.73 L496.79,303.89 L497.14,304.26 L497.50,304.58 L497.86,304.20 L498.21,304.13 L498.57,304.20 L498.93,303.34 L499.29,303.48 L499.64,303.30 L500.00,304.50 L500.36,303.49 L500.73,303.32 L501.09,303.14 L501.45,303.49 L501.82,303.61 L502.18,303.55 L502.55,303.59 L502.91,303.38 L503.27,303.38 L503.64,303.47 L504.00,304.06 L504.36,304.30 L504.73,304.52 L505.09,304.28 L505.45,303.53 L505.82,303.59 L506.18,304.43 L506.55,304.15 L506.91,305.06 L507.27,304.65 L507.64,305.13 L508.00,304.18 L508.38,304.16 L508.75,304.32 L509.12,305.59 L509.50,305.14 L509.88,305.30 L510.25,305.61 L510.62,305.02 L511.00,305.68 L511.38,305.98 L511.75,305.50 L512.12,305.77 L512.50,305.79" fill="none" stroke="#d8156f" stroke-width="2.3" stroke-linejoin="round" stroke-linecap="round" clip-path="url(#cb)"/>
<path d="M372.20,345.62 L372.58,345.16 L372.96,344.97 L373.34,344.33 L373.72,344.01 L374.10,343.53 L374.48,343.17 L374.86,343.03 L375.24,342.35 L375.62,342.21 L376.00,341.89 L376.37,341.75 L376.73,341.82 L377.10,341.37 L377.47,341.31 L377.83,341.08 L378.20,341.08 L378.57,340.86 L378.93,340.69 L379.30,340.77 L379.67,340.79 L380.04,341.04 L380.41,341.08 L380.78,341.12 L381.15,341.54 L381.52,341.65 L381.89,342.03 L382.26,342.22 L382.63,342.63 L383.00,343.11 L383.36,343.40 L383.71,343.99 L384.07,344.60 L384.43,345.23 L384.79,346.03 L385.14,346.78 L385.50,347.78 L385.86,348.81 L386.21,349.54 L386.57,350.92 L386.93,351.75 L387.29,352.72 L387.64,353.80 L388.00,354.94 L388.36,355.99 L388.73,357.45 L389.09,358.91 L389.45,360.54 L389.82,362.03 L390.18,363.78 L390.55,365.20 L390.91,366.51 L391.27,368.05 L391.64,369.13 L392.00,370.19 L392.37,370.94 L392.73,371.89 L393.10,372.43 L393.47,373.27 L393.83,374.33 L394.20,374.67 L394.57,375.68 L394.93,376.24 L395.30,376.40 L395.67,376.76 L396.03,377.29 L396.40,377.38 L396.76,377.23 L397.12,376.85 L397.48,376.35 L397.84,375.50 L398.20,374.60 L398.56,373.96 L398.92,373.11 L399.28,372.15 L399.64,370.98 L400.00,369.80 L400.36,368.79 L400.73,367.61 L401.09,366.08 L401.45,364.43 L401.82,362.86 L402.18,361.31 L402.55,359.50 L402.91,357.89 L403.27,356.41 L403.64,354.99 L404.00,354.11 L404.38,353.05 L404.76,351.72 L405.13,350.86 L405.51,349.98 L405.89,348.81 L406.27,348.00 L406.64,347.44 L407.02,346.70 L407.40,346.05 L407.76,345.61 L408.12,345.04 L408.49,344.49 L408.85,344.22 L409.21,343.86 L409.57,343.20 L409.94,342.95 L410.30,342.60 L410.66,342.51 L411.02,341.95 L411.39,341.80 L411.75,341.40 L412.11,341.07 L412.47,340.82 L412.84,340.67 L413.20,340.26 L413.57,339.82 L413.94,339.37 L414.31,339.07 L414.68,338.74 L415.04,338.43 L415.41,338.19 L415.78,337.54 L416.15,337.43 L416.52,337.08 L416.89,336.58 L417.26,336.21 L417.62,335.97 L417.99,336.05 L418.36,335.60 L418.73,335.69 L419.10,335.66 L419.46,335.53 L419.83,335.65 L420.19,336.15 L420.55,336.22 L420.91,336.74 L421.27,337.22 L421.64,337.29 L422.00,337.42 L422.37,337.50 L422.75,337.73 L423.12,337.89 L423.49,337.96 L423.86,338.33 L424.24,338.41 L424.61,338.57 L424.98,338.42 L425.35,338.54 L425.73,338.85 L426.10,338.50 L426.46,338.64 L426.83,338.81 L427.19,338.55 L427.55,338.53 L427.91,338.66 L428.27,338.47 L428.64,338.47 L429.00,338.46 L429.36,338.38 L429.73,338.49 L430.09,338.49 L430.45,338.47 L430.81,338.53 L431.17,338.15 L431.54,338.21 L431.90,338.49 L432.26,338.43 L432.61,338.43 L432.97,338.25 L433.33,338.26 L433.68,338.38 L434.04,338.70 L434.40,338.72 L434.75,338.66 L435.11,338.88 L435.47,339.01 L435.82,338.95 L436.18,338.99 L436.53,339.40 L436.89,339.49 L437.25,339.66 L437.60,339.76 L437.96,339.75 L438.32,340.00 L438.67,340.02 L439.03,340.37 L439.39,340.19 L439.74,340.55 L440.10,340.54 L440.46,340.89 L440.82,340.99 L441.17,340.88 L441.53,340.97 L441.89,341.21 L442.25,341.66 L442.60,341.75 L442.96,341.89 L443.32,341.87 L443.68,342.05 L444.03,342.32 L444.39,342.54 L444.75,342.75 L445.11,342.71 L445.47,343.21 L445.82,343.16 L446.18,343.53 L446.54,343.55 L446.90,343.73 L447.25,344.14 L447.61,344.05 L447.97,344.34 L448.33,344.66 L448.68,344.81 L449.04,344.93 L449.40,344.90 L449.75,345.21 L450.10,345.31 L450.45,345.42 L450.80,345.79 L451.15,345.93 L451.50,346.21 L451.85,346.21 L452.20,346.28 L452.55,346.51 L452.90,346.87 L453.25,347.03 L453.60,347.16 L453.95,347.21 L454.30,347.42 L454.65,347.33 L455.00,347.44 L455.35,347.81 L455.70,347.59 L456.05,347.84 L456.40,347.72 L456.75,347.67 L457.11,347.91 L457.46,347.94 L457.82,347.71 L458.17,347.63 L458.53,347.74 L458.88,347.58 L459.24,347.90 L459.59,347.51 L459.95,347.68 L460.30,347.52 L460.65,347.43 L461.01,347.80 L461.36,347.64 L461.72,347.62 L462.07,347.62 L462.43,347.59 L462.78,347.49 L463.14,347.47 L463.49,347.30 L463.85,347.18 L464.20,347.39 L464.55,347.36 L464.91,347.32 L465.26,347.25 L465.62,346.99 L465.97,347.18 L466.33,346.91 L466.68,347.19 L467.04,346.81 L467.39,346.88 L467.75,346.95 L468.10,347.05 L468.46,346.93 L468.81,346.68 L469.17,346.87 L469.53,346.62 L469.88,346.63 L470.24,346.59 L470.60,346.71 L470.95,346.42 L471.31,346.41 L471.67,346.34 L472.02,346.27 L472.38,346.20 L472.73,346.20 L473.09,346.06 L473.45,346.03 L473.80,345.91 L474.16,346.03 L474.52,346.01 L474.87,345.77 L475.23,345.79 L475.59,345.78 L475.94,345.87 L476.30,345.80 L476.66,345.40 L477.01,345.67 L477.37,345.55 L477.73,345.26 L478.08,345.19 L478.44,345.25 L478.80,345.11 L479.15,345.06 L479.51,345.05 L479.87,345.05 L480.22,345.00 L480.58,344.75 L480.93,344.86 L481.29,344.74 L481.65,344.97 L482.00,344.63 L482.36,344.59 L482.72,344.65 L483.07,344.58 L483.43,344.78 L483.79,344.45 L484.14,344.79 L484.50,344.64 L484.85,344.69 L485.20,344.48 L485.55,344.58 L485.90,344.45 L486.25,344.66 L486.60,344.56 L486.95,344.44 L487.30,344.46 L487.65,344.33 L488.00,344.35 L488.35,344.55 L488.70,344.71 L489.05,344.66 L489.40,344.43 L489.75,344.43 L490.10,344.55 L490.45,344.48 L490.80,344.59 L491.15,344.35 L491.50,344.42 L491.85,344.64 L492.20,344.37 L492.55,344.52 L492.90,344.42 L493.25,344.44 L493.60,344.56 L493.95,344.61 L494.30,344.44 L494.65,344.61 L495.00,344.31 L495.35,344.32 L495.70,344.32 L496.05,344.31 L496.40,344.56 L496.75,344.22 L497.10,344.49 L497.45,344.43 L497.80,344.38 L498.15,344.32 L498.50,344.46 L498.85,344.12 L499.20,344.48 L499.55,344.24 L499.90,344.18 L500.25,344.08 L500.60,344.38 L500.95,344.07 L501.30,344.37 L501.65,344.12 L502.00,344.41 L502.35,344.24 L502.70,344.38 L503.05,343.98 L503.40,344.08 L503.75,344.32 L504.10,343.92 L504.45,344.00 L504.80,344.00 L505.15,344.02 L505.50,344.07 L505.86,343.88 L506.21,343.72 L506.57,343.51 L506.93,343.32 L507.29,343.26 L507.64,343.21 L508.00,343.02 L508.38,342.94 L508.75,343.30 L509.12,343.15 L509.50,343.49 L509.88,343.70 L510.25,343.83 L510.62,343.97 L511.00,344.23 L511.38,344.64 L511.75,344.97 L512.12,345.17 L512.50,345.18" fill="none" stroke="#ef80ea" stroke-width="2.3" stroke-linejoin="round" stroke-linecap="round" clip-path="url(#cb)"/>
<path d="M59.50,37.94 L59.85,38.07 L60.20,38.51 L60.56,37.95 L60.91,38.00 L61.26,38.10 L61.61,37.61 L61.97,38.00 L62.32,38.14 L62.67,38.34 L63.02,37.50 L63.37,37.74 L63.73,37.49 L64.08,38.35 L64.43,38.21 L64.78,37.42 L65.13,38.55 L65.49,38.53 L65.84,38.15 L66.19,38.11 L66.54,37.55 L66.90,37.38 L67.25,38.00 L67.60,37.43 L67.95,37.59 L68.30,37.65 L68.66,37.39 L69.01,37.91 L69.36,37.88 L69.71,38.36 L70.07,37.97 L70.42,38.11 L70.77,37.94 L71.12,38.14 L71.47,37.89 L71.83,37.67 L72.18,38.53 L72.53,38.53 L72.88,38.34 L73.23,38.18 L73.59,37.71 L73.94,37.60 L74.29,37.67 L74.64,37.41 L75.00,38.24 L75.35,37.80 L75.70,38.33 L76.05,37.78 L76.40,38.46 L76.76,38.33 L77.11,37.31 L77.46,37.56 L77.81,38.40 L78.17,37.87 L78.52,38.48 L78.87,37.78 L79.22,37.39 L79.57,38.05 L79.93,38.23 L80.28,37.62 L80.63,37.40 L80.98,37.69 L81.33,38.45 L81.69,38.20 L82.04,37.43 L82.39,37.58 L82.74,37.40 L83.10,37.35 L83.45,38.24 L83.80,37.49 L84.15,37.95 L84.50,37.81 L84.86,37.50 L85.21,38.15 L85.56,37.43 L85.91,38.04 L86.27,37.40 L86.62,37.77 L86.97,37.52 L87.32,37.58 L87.67,38.42 L88.03,38.22 L88.38,37.62 L88.73,38.31 L89.08,37.50 L89.43,37.72 L89.79,38.27 L90.14,38.02 L90.49,37.36 L90.84,38.43 L91.20,37.50 L91.55,37.55 L91.90,38.16 L92.25,37.63 L92.60,37.59 L92.96,37.32 L93.31,37.34 L93.66,37.93 L94.01,37.52 L94.37,37.95 L94.72,37.67 L95.07,37.77 L95.42,38.37 L95.77,37.80 L96.13,37.91 L96.48,38.26 L96.83,37.43 L97.18,37.40 L97.53,38.30 L97.89,38.19 L98.24,37.51 L98.59,37.43 L98.94,38.09 L99.30,38.33 L99.65,37.44 L100.00,38.34 L100.35,38.26 L100.70,37.92 L101.06,37.70 L101.41,37.32 L101.76,37.24 L102.11,38.35 L102.46,37.48 L102.82,38.03 L103.17,37.49 L103.52,38.17 L103.87,37.90 L104.23,37.53 L104.58,37.39 L104.93,38.04 L105.28,37.26 L105.63,37.45 L105.99,37.85 L106.34,38.20 L106.69,37.91 L107.04,37.51 L107.39,38.27 L107.75,37.41 L108.10,37.19 L108.45,37.49 L108.80,37.70 L109.15,37.23 L109.51,37.37 L109.86,37.60 L110.21,37.84 L110.56,37.31 L110.92,37.59 L111.27,38.22 L111.62,38.33 L111.97,37.94 L112.32,37.98 L112.68,37.85 L113.03,37.31 L113.38,37.19 L113.73,37.16 L114.08,38.23 L114.44,37.98 L114.79,38.29 L115.14,37.16 L115.49,37.90 L115.85,37.71 L116.20,38.01 L116.55,37.51 L116.90,38.33 L117.25,37.22 L117.61,37.78 L117.96,38.01 L118.31,38.21 L118.66,38.01 L119.01,37.97 L119.37,38.07 L119.72,38.22 L120.07,37.54 L120.42,37.94 L120.77,38.20 L121.13,38.16 L121.48,37.61 L121.83,38.06 L122.18,38.15 L122.54,37.80 L122.89,37.86 L123.24,37.56 L123.59,37.80 L123.94,37.83 L124.30,37.20 L124.65,37.87 L125.00,38.29 L125.35,38.15 L125.70,37.97 L126.06,37.56 L126.41,37.98 L126.76,37.79 L127.11,37.62 L127.46,38.10 L127.82,37.19 L128.17,37.99 L128.52,37.12 L128.87,37.81 L129.23,37.66 L129.58,37.36 L129.93,37.92 L130.28,37.68 L130.63,37.81 L130.99,38.18 L131.34,37.38 L131.69,37.09 L132.04,37.43 L132.39,37.88 L132.75,37.31 L133.10,37.27 L133.45,38.15 L133.80,37.86 L134.15,37.59 L134.51,38.13 L134.86,37.45 L135.21,37.86 L135.56,37.30 L135.92,37.57 L136.27,38.02 L136.62,38.15 L136.97,38.11 L137.32,37.51 L137.68,37.75 L138.03,37.43 L138.38,37.21 L138.73,37.64 L139.08,38.05 L139.44,38.06 L139.79,37.90 L140.14,38.18 L140.49,37.37 L140.85,37.24 L141.20,37.58 L141.55,37.37 L141.90,37.29 L142.25,37.53 L142.61,37.78 L142.96,37.62 L143.31,37.41 L143.66,38.03 L144.01,38.20 L144.37,37.57 L144.72,37.11 L145.07,37.06 L145.42,38.07 L145.77,37.07 L146.13,37.87 L146.48,37.70 L146.83,37.38 L147.18,37.96 L147.54,37.03 L147.89,37.17 L148.24,37.55 L148.59,37.04 L148.94,38.00 L149.30,37.29 L149.65,37.17 L150.00,37.06 L150.35,37.75 L150.71,37.53 L151.06,37.75 L151.42,37.78 L151.77,37.96 L152.13,38.14 L152.48,37.81 L152.84,37.23 L153.19,37.56 L153.55,37.20 L153.90,37.00 L154.26,37.55 L154.61,37.84 L154.97,37.20 L155.32,37.31 L155.68,37.40 L156.03,37.82 L156.39,37.61 L156.74,37.72 L157.10,37.89 L157.45,37.45 L157.81,37.93 L158.16,38.07 L158.52,37.08 L158.87,38.10 L159.23,37.84 L159.58,37.13 L159.94,37.52 L160.29,37.72 L160.65,38.06 L161.00,37.42 L161.35,37.65 L161.71,38.02 L162.06,37.92 L162.42,38.10 L162.77,37.52 L163.13,37.75 L163.48,37.21 L163.84,37.83 L164.19,37.94 L164.55,37.73 L164.90,37.82 L165.26,37.21 L165.61,38.03 L165.97,38.13 L166.32,38.12 L166.68,37.59 L167.03,37.89 L167.39,37.33 L167.74,38.03 L168.10,37.96 L168.45,37.35 L168.81,37.03 L169.16,37.46 L169.52,37.59 L169.87,37.84 L170.23,37.50 L170.58,36.95 L170.94,37.88 L171.29,36.99 L171.65,37.86 L172.00,37.11 L172.36,37.18 L172.71,37.39 L173.07,36.13 L173.42,35.56 L173.78,35.38 L174.13,35.01 L174.49,34.60 L174.84,33.99 L175.20,34.03 L175.70,33.29 L176.20,33.74 L176.57,33.61 L176.93,35.74 L177.30,38.03 L177.75,40.02 L178.20,41.87 L178.70,41.37 L179.20,40.53 L179.56,40.38 L179.92,39.39 L180.28,38.47 L180.64,38.07 L181.00,38.41 L181.35,38.45 L181.70,37.59 L182.06,38.34 L182.41,38.45 L182.76,37.90 L183.11,37.93 L183.46,37.46 L183.81,37.84 L184.17,37.78 L184.52,37.88 L184.87,37.17 L185.22,38.28 L185.57,37.72 L185.93,37.57 L186.28,38.03 L186.63,37.73 L186.98,37.63 L187.33,37.86 L187.69,37.09 L188.04,37.65 L188.39,37.49 L188.74,38.13 L189.09,38.08 L189.44,37.28 L189.80,37.52 L190.15,37.09 L190.50,37.45 L190.85,37.91 L191.20,38.00 L191.56,37.48 L191.91,37.29 L192.26,37.13 L192.61,37.63 L192.96,38.00 L193.31,37.04 L193.67,37.81 L194.02,36.90 L194.37,37.10 L194.72,37.14 L195.07,37.68 L195.43,37.24 L195.78,37.28 L196.13,37.59 L196.48,36.97 L196.83,37.72 L197.19,36.98 L197.54,37.44 L197.89,37.13 L198.24,37.06 L198.59,37.45 L198.94,37.34 L199.30,37.26 L199.65,37.30 L200.00,37.44 L200.35,36.99 L200.70,37.04 L201.06,37.54 L201.41,37.55 L201.76,37.41 L202.11,37.79 L202.46,37.50 L202.82,37.79 L203.17,37.04 L203.52,37.64 L203.87,37.72 L204.23,37.83 L204.58,37.12 L204.93,37.11 L205.28,37.84 L205.63,36.99 L205.99,37.92 L206.34,37.78 L206.69,36.88 L207.04,37.00 L207.39,37.58 L207.75,37.01 L208.10,36.82 L208.45,37.69 L208.80,37.20 L209.15,37.64 L209.51,36.84 L209.86,37.16 L210.21,37.50 L210.56,36.70 L210.92,36.91 L211.27,37.49 L211.62,37.76 L211.97,37.82 L212.32,36.80 L212.68,37.26 L213.03,37.56 L213.38,37.25 L213.73,37.47 L214.08,36.87 L214.44,36.72 L214.79,36.76 L215.14,36.68 L215.49,37.29 L215.85,37.24 L216.20,37.30 L216.55,36.79 L216.90,36.84 L217.25,36.86 L217.61,37.62 L217.96,37.80 L218.31,37.72 L218.66,36.72 L219.01,36.67 L219.37,37.74 L219.72,37.15 L220.07,37.51 L220.42,36.98 L220.77,37.15 L221.13,37.20 L221.48,37.10 L221.83,37.30 L222.18,36.59 L222.54,37.41 L222.89,37.58 L223.24,36.78 L223.59,37.11 L223.94,37.45 L224.30,37.05 L224.65,36.79 L225.00,36.75 L225.35,37.17 L225.70,36.57 L226.06,37.62 L226.41,37.51 L226.76,37.39 L227.11,37.57 L227.46,37.29 L227.82,37.02 L228.17,37.25 L228.52,37.14 L228.87,37.71 L229.23,37.49 L229.58,36.84 L229.93,37.62 L230.28,37.41 L230.63,37.45 L230.99,37.49 L231.34,37.00 L231.69,37.59 L232.04,37.57 L232.39,37.34 L232.75,37.43 L233.10,37.42 L233.45,36.99 L233.80,37.37 L234.15,36.58 L234.51,36.91 L234.86,37.06 L235.21,36.50 L235.56,36.92 L235.92,37.25 L236.27,37.23 L236.62,36.76 L236.97,37.61 L237.32,37.28 L237.68,36.88 L238.03,37.27 L238.38,37.16 L238.73,37.11 L239.08,36.94 L239.44,37.67 L239.79,37.24 L240.14,37.30 L240.49,37.37 L240.85,37.63 L241.20,36.48 L241.55,37.19 L241.90,37.34 L242.25,36.76 L242.61,36.93 L242.96,36.51 L243.31,36.68 L243.66,36.89 L244.01,36.56 L244.37,36.74 L244.72,37.52 L245.07,37.09 L245.42,37.04 L245.77,37.59 L246.13,37.11 L246.48,37.62 L246.83,37.19 L247.18,37.39 L247.54,36.51 L247.89,37.13 L248.24,37.32 L248.59,36.46 L248.94,37.52 L249.30,36.60 L249.65,36.97 L250.00,36.60 L250.35,36.99 L250.70,37.13 L251.06,36.46 L251.41,37.52 L251.76,36.89 L252.11,37.02 L252.46,37.10 L252.82,36.82 L253.17,36.72 L253.52,37.16 L253.87,37.05 L254.23,36.71 L254.58,37.23 L254.93,36.72 L255.28,36.38 L255.63,36.66 L255.99,36.41 L256.34,36.55 L256.69,37.26 L257.04,36.82 L257.39,37.43 L257.75,37.25 L258.10,36.41 L258.45,37.53 L258.80,37.48 L259.15,36.43 L259.51,37.43 L259.86,36.85 L260.21,36.91 L260.56,37.50 L260.92,36.62 L261.27,36.96 L261.62,37.45 L261.97,37.19 L262.32,36.89 L262.68,37.50 L263.03,37.30 L263.38,37.04 L263.73,36.45 L264.08,37.06 L264.44,36.86 L264.79,36.55 L265.14,36.37 L265.49,36.94 L265.85,36.45 L266.20,36.83 L266.55,37.10 L266.90,36.84 L267.25,36.61 L267.61,36.99 L267.96,36.80 L268.31,37.22 L268.66,36.92 L269.01,37.48 L269.37,37.43 L269.72,37.16 L270.07,36.57 L270.42,36.41 L270.77,37.35 L271.13,37.22 L271.48,37.02 L271.83,36.70 L272.18,36.59 L272.54,37.09 L272.89,36.94 L273.24,36.97 L273.59,37.02 L273.94,37.16 L274.30,36.48 L274.65,36.55 L275.00,37.43 L275.35,37.35 L275.70,37.30 L276.06,36.30 L276.41,36.32 L276.76,36.57 L277.11,36.75 L277.46,36.99 L277.82,36.36 L278.17,36.89 L278.52,36.32 L278.87,36.34 L279.23,37.04 L279.58,36.89 L279.93,36.98 L280.28,36.67 L280.63,36.80 L280.99,36.47 L281.34,36.63 L281.69,37.11 L282.04,37.22 L282.39,36.30 L282.75,36.35 L283.10,37.18 L283.45,36.95 L283.80,37.13 L284.15,36.46 L284.51,36.71 L284.86,36.51 L285.21,37.17 L285.56,36.64 L285.92,36.98 L286.27,37.38 L286.62,36.58 L286.97,36.84 L287.32,37.08 L287.68,37.29 L288.03,36.69 L288.38,36.62 L288.73,36.29 L289.08,37.22 L289.44,36.27 L289.79,36.27 L290.14,36.84 L290.49,36.75 L290.85,36.98 L291.20,36.52 L291.55,37.09 L291.90,36.25 L292.25,36.41 L292.61,36.95 L292.96,36.25 L293.31,36.51 L293.66,37.01 L294.01,36.97 L294.37,36.48 L294.72,36.31 L295.07,36.56 L295.42,37.00 L295.77,36.57 L296.13,36.27 L296.48,36.98 L296.83,36.81 L297.18,37.22 L297.54,37.25 L297.89,37.21 L298.24,36.64 L298.59,37.07 L298.94,36.47 L299.30,36.49 L299.65,36.58 L300.00,37.22 L300.35,37.17 L300.70,36.39 L301.06,36.53 L301.41,36.53 L301.76,36.52 L302.11,36.56 L302.47,36.55 L302.82,36.31 L303.17,36.75 L303.52,37.03 L303.88,36.72 L304.23,37.07 L304.58,36.74 L304.93,36.27 L305.29,36.97 L305.64,37.11 L305.99,36.39 L306.34,36.07 L306.70,36.66 L307.05,36.69 L307.40,36.72 L307.75,37.20 L308.10,36.81 L308.46,36.99 L308.81,36.10 L309.16,36.68 L309.51,36.96 L309.87,36.12 L310.22,36.11 L310.57,36.89 L310.92,37.09 L311.28,36.10 L311.63,36.76 L311.98,36.17 L312.33,36.89 L312.69,36.77 L313.04,36.28 L313.39,36.25 L313.74,36.90 L314.10,36.60 L314.45,36.89 L314.80,36.44 L315.15,36.37 L315.50,37.12 L315.86,36.77 L316.21,36.55 L316.56,36.60 L316.91,36.81 L317.27,36.80 L317.62,37.04 L317.97,36.43 L318.32,36.93 L318.68,36.73 L319.03,36.95 L319.38,36.89 L319.73,36.92 L320.09,36.99 L320.44,37.07 L320.79,36.68 L321.14,36.54 L321.50,36.76 L321.85,36.87 L322.20,36.41" fill="none" stroke="#d20c0c" stroke-width="3.3" stroke-linejoin="round" stroke-linecap="round" clip-path="url(#ca)"/>
<path d="M59.50,71.17 L59.85,71.39 L60.20,71.40 L60.56,70.77 L60.91,70.61 L61.26,71.05 L61.61,70.92 L61.97,71.57 L62.32,71.42 L62.67,71.31 L63.02,71.26 L63.37,71.38 L63.73,70.76 L64.08,71.12 L64.43,70.78 L64.78,71.67 L65.13,70.66 L65.49,71.57 L65.84,70.67 L66.19,71.41 L66.54,70.99 L66.90,71.07 L67.25,71.59 L67.60,70.60 L67.95,70.65 L68.30,71.68 L68.66,71.19 L69.01,70.69 L69.36,71.76 L69.71,71.71 L70.07,70.71 L70.42,71.08 L70.77,70.74 L71.12,70.95 L71.47,71.32 L71.83,70.77 L72.18,71.41 L72.53,70.63 L72.88,70.77 L73.23,71.55 L73.59,71.05 L73.94,71.07 L74.29,71.28 L74.64,71.14 L75.00,71.03 L75.35,70.60 L75.70,71.43 L76.05,71.72 L76.40,71.73 L76.76,71.36 L77.11,70.99 L77.46,70.99 L77.81,71.39 L78.17,71.37 L78.52,70.69 L78.87,70.84 L79.22,70.99 L79.57,71.17 L79.93,71.52 L80.28,71.15 L80.63,70.58 L80.98,71.54 L81.33,71.07 L81.69,71.17 L82.04,70.81 L82.39,71.06 L82.74,71.01 L83.10,71.47 L83.45,70.67 L83.80,71.20 L84.15,70.76 L84.50,71.38 L84.86,70.58 L85.21,70.87 L85.56,70.95 L85.91,71.30 L86.27,70.60 L86.62,71.09 L86.97,70.79 L87.32,70.87 L87.67,71.11 L88.03,71.68 L88.38,71.11 L88.73,71.68 L89.08,70.73 L89.43,71.64 L89.79,70.97 L90.14,70.75 L90.49,71.42 L90.84,71.62 L91.20,70.53 L91.55,70.85 L91.90,71.45 L92.25,70.93 L92.60,70.81 L92.96,70.53 L93.31,70.57 L93.66,71.26 L94.01,71.70 L94.37,71.71 L94.72,71.12 L95.07,70.54 L95.42,70.90 L95.77,71.46 L96.13,71.51 L96.48,71.28 L96.83,70.78 L97.18,71.14 L97.53,71.08 L97.89,71.26 L98.24,70.82 L98.59,71.64 L98.94,71.58 L99.30,70.70 L99.65,70.85 L100.00,71.55 L100.35,70.83 L100.70,71.63 L101.06,71.12 L101.41,71.33 L101.76,71.34 L102.11,70.75 L102.46,70.83 L102.82,70.80 L103.17,71.31 L103.52,71.32 L103.87,70.65 L104.23,71.55 L104.58,70.99 L104.93,70.78 L105.28,71.01 L105.63,71.66 L105.99,71.15 L106.34,71.23 L106.69,71.58 L107.04,71.63 L107.39,71.39 L107.75,70.98 L108.10,71.18 L108.45,71.56 L108.80,71.42 L109.15,71.17 L109.51,70.89 L109.86,70.91 L110.21,71.35 L110.56,71.15 L110.92,70.49 L111.27,71.32 L111.62,71.55 L111.97,71.42 L112.32,71.54 L112.68,71.56 L113.03,71.11 L113.38,71.41 L113.73,70.92 L114.08,70.58 L114.44,70.88 L114.79,70.83 L115.14,71.58 L115.49,71.28 L115.85,71.11 L116.20,71.20 L116.55,70.60 L116.90,71.09 L117.25,71.29 L117.61,70.92 L117.96,70.74 L118.31,70.94 L118.66,70.84 L119.01,71.27 L119.37,70.62 L119.72,70.55 L120.07,70.82 L120.42,71.28 L120.77,71.35 L121.13,71.23 L121.48,71.56 L121.83,70.88 L122.18,70.47 L122.54,71.02 L122.89,70.97 L123.24,70.65 L123.59,71.23 L123.94,70.84 L124.30,70.72 L124.65,70.82 L125.00,71.56 L125.35,70.44 L125.70,70.86 L126.06,70.76 L126.41,70.66 L126.76,70.94 L127.11,70.68 L127.46,71.52 L127.82,71.02 L128.17,71.25 L128.52,70.61 L128.87,70.97 L129.23,71.14 L129.58,71.42 L129.93,70.71 L130.28,70.96 L130.63,71.43 L130.99,71.40 L131.34,70.68 L131.69,71.05 L132.04,71.31 L132.39,70.87 L132.75,71.21 L133.10,71.19 L133.45,71.56 L133.80,71.06 L134.15,71.21 L134.51,70.81 L134.86,71.27 L135.21,70.77 L135.56,70.99 L135.92,70.82 L136.27,70.75 L136.62,70.54 L136.97,70.65 L137.32,71.03 L137.68,70.68 L138.03,70.43 L138.38,71.34 L138.73,70.71 L139.08,71.49 L139.44,71.08 L139.79,70.83 L140.14,71.41 L140.49,71.44 L140.85,70.74 L141.20,70.51 L141.55,71.12 L141.90,71.36 L142.25,71.08 L142.61,71.29 L142.96,70.84 L143.31,71.09 L143.66,70.66 L144.01,70.83 L144.37,70.79 L144.72,70.80 L145.07,70.81 L145.42,71.30 L145.77,70.53 L146.13,70.57 L146.48,70.63 L146.83,71.49 L147.18,70.95 L147.54,70.38 L147.89,71.32 L148.24,71.36 L148.59,71.30 L148.94,70.74 L149.30,71.19 L149.65,70.67 L150.00,70.46 L150.35,71.34 L150.70,71.29 L151.05,70.55 L151.40,71.35 L151.75,70.32 L152.11,70.66 L152.46,70.30 L152.81,70.49 L153.16,70.47 L153.51,71.13 L153.86,70.63 L154.21,70.50 L154.56,70.49 L154.91,70.64 L155.26,71.30 L155.61,70.99 L155.96,70.38 L156.32,71.07 L156.67,70.89 L157.02,70.78 L157.37,70.88 L157.72,71.02 L158.07,71.20 L158.42,70.84 L158.77,70.99 L159.12,70.78 L159.47,70.98 L159.82,70.68 L160.18,70.70 L160.53,70.82 L160.88,71.05 L161.23,70.52 L161.58,71.29 L161.93,70.76 L162.28,71.19 L162.63,70.99 L162.98,71.30 L163.33,70.96 L163.68,70.65 L164.04,70.61 L164.39,70.84 L164.74,71.01 L165.09,71.10 L165.44,70.24 L165.79,70.15 L166.14,70.19 L166.49,70.15 L166.84,70.10 L167.19,70.03 L167.54,70.31 L167.89,70.13 L168.25,70.80 L168.60,70.71 L168.95,71.11 L169.30,71.09 L169.65,70.81 L170.00,71.04 L170.35,69.87 L170.70,69.97 L171.05,70.60 L171.40,69.77 L171.75,69.10 L172.10,69.36 L172.45,68.51 L172.80,68.15 L173.15,67.35 L173.50,66.69 L173.90,65.27 L174.30,64.05 L174.70,62.78 L175.10,62.08 L175.47,62.01 L175.83,62.74 L176.20,62.83 L176.57,65.36 L176.93,70.57 L177.30,74.12 L177.80,78.43 L178.30,79.92 L178.70,79.72 L179.10,79.01 L179.50,78.28 L179.90,77.41 L180.30,76.23 L180.70,74.66 L181.10,73.85 L181.50,73.93 L181.88,73.86 L182.25,73.04 L182.62,72.51 L183.00,72.86 L183.38,72.60 L183.75,72.27 L184.12,72.00 L184.50,72.09 L184.88,72.28 L185.25,71.64 L185.62,72.08 L186.00,72.54 L186.35,72.27 L186.70,71.65 L187.05,71.83 L187.40,71.43 L187.75,72.17 L188.10,72.02 L188.45,71.45 L188.80,71.88 L189.15,71.92 L189.50,71.88 L189.85,71.62 L190.20,71.53 L190.55,71.56 L190.90,72.32 L191.25,71.51 L191.60,71.70 L191.95,71.64 L192.30,71.28 L192.65,71.54 L193.00,71.30 L193.35,71.43 L193.70,71.47 L194.05,71.44 L194.40,72.14 L194.75,71.36 L195.10,71.39 L195.45,71.77 L195.80,71.45 L196.15,71.59 L196.50,71.74 L196.85,71.04 L197.20,71.76 L197.55,71.06 L197.90,71.24 L198.25,71.90 L198.60,72.11 L198.95,71.73 L199.30,71.12 L199.65,71.43 L200.00,71.24 L200.35,71.90 L200.70,71.17 L201.06,71.12 L201.41,71.64 L201.76,71.63 L202.11,71.57 L202.46,71.43 L202.82,72.00 L203.17,71.40 L203.52,71.97 L203.87,71.31 L204.23,71.39 L204.58,71.26 L204.93,71.68 L205.28,71.72 L205.63,71.10 L205.99,71.43 L206.34,71.67 L206.69,71.39 L207.04,71.58 L207.39,71.52 L207.75,71.63 L208.10,71.20 L208.45,71.13 L208.80,70.79 L209.15,71.83 L209.51,71.70 L209.86,71.22 L210.21,71.90 L210.56,71.82 L210.92,70.91 L211.27,71.73 L211.62,71.23 L211.97,71.10 L212.32,71.03 L212.68,71.21 L213.03,70.77 L213.38,70.76 L213.73,70.84 L214.08,71.06 L214.44,70.88 L214.79,70.83 L215.14,71.68 L215.49,71.13 L215.85,71.26 L216.20,71.39 L216.55,71.78 L216.90,70.83 L217.25,70.93 L217.61,71.68 L217.96,71.74 L218.31,71.76 L218.66,71.27 L219.01,71.08 L219.37,70.86 L219.72,71.72 L220.07,71.54 L220.42,71.28 L220.77,71.57 L221.13,70.93 L221.48,71.25 L221.83,71.69 L222.18,70.73 L222.54,71.34 L222.89,70.82 L223.24,71.60 L223.59,71.60 L223.94,71.36 L224.30,71.11 L224.65,70.61 L225.00,71.17 L225.35,71.00 L225.70,71.05 L226.06,70.66 L226.41,71.67 L226.76,71.19 L227.11,71.23 L227.46,71.57 L227.82,71.63 L228.17,71.21 L228.52,71.20 L228.87,71.56 L229.23,70.99 L229.58,71.62 L229.93,70.56 L230.28,71.49 L230.63,71.16 L230.99,71.27 L231.34,71.71 L231.69,70.78 L232.04,71.01 L232.39,71.47 L232.75,71.41 L233.10,71.14 L233.45,71.44 L233.80,71.32 L234.15,71.54 L234.51,71.28 L234.86,70.93 L235.21,70.84 L235.56,70.59 L235.92,70.64 L236.27,70.54 L236.62,71.65 L236.97,70.65 L237.32,71.20 L237.68,70.64 L238.03,71.63 L238.38,71.11 L238.73,70.68 L239.08,71.46 L239.44,71.50 L239.79,71.64 L240.14,70.73 L240.49,70.94 L240.85,71.25 L241.20,70.79 L241.55,71.13 L241.90,71.29 L242.25,71.35 L242.61,71.43 L242.96,71.34 L243.31,70.78 L243.66,71.34 L244.01,70.96 L244.37,70.64 L244.72,70.46 L245.07,71.18 L245.42,70.86 L245.77,70.54 L246.13,71.01 L246.48,70.92 L246.83,70.81 L247.18,71.10 L247.54,71.06 L247.89,71.05 L248.24,71.59 L248.59,71.49 L248.94,70.76 L249.30,71.45 L249.65,70.78 L250.00,71.52 L250.35,70.47 L250.70,70.78 L251.06,71.51 L251.41,71.19 L251.76,71.24 L252.11,70.63 L252.46,70.53 L252.82,71.54 L253.17,70.46 L253.52,70.59 L253.87,70.90 L254.23,71.36 L254.58,71.19 L254.93,71.57 L255.28,71.31 L255.63,70.90 L255.99,71.46 L256.34,70.75 L256.69,70.43 L257.04,71.52 L257.39,71.42 L257.75,71.15 L258.10,70.94 L258.45,70.60 L258.80,70.62 L259.15,70.44 L259.51,70.47 L259.86,70.93 L260.21,71.43 L260.56,71.47 L260.92,70.97 L261.27,71.16 L261.62,70.91 L261.97,71.28 L262.32,71.19 L262.68,71.52 L263.03,71.36 L263.38,71.15 L263.73,71.05 L264.08,70.54 L264.44,70.90 L264.79,70.87 L265.14,70.52 L265.49,70.57 L265.85,70.82 L266.20,70.54 L266.55,71.08 L266.90,70.72 L267.25,71.51 L267.61,71.15 L267.96,70.94 L268.31,70.84 L268.66,70.79 L269.01,70.56 L269.37,71.47 L269.72,71.41 L270.07,71.10 L270.42,71.10 L270.77,70.49 L271.13,70.96 L271.48,70.51 L271.83,70.70 L272.18,71.01 L272.54,70.51 L272.89,70.59 L273.24,71.18 L273.59,70.89 L273.94,71.37 L274.30,70.49 L274.65,70.41 L275.00,71.43 L275.35,71.03 L275.70,71.13 L276.06,70.96 L276.41,70.47 L276.76,71.47 L277.11,70.89 L277.46,71.38 L277.82,70.47 L278.17,70.62 L278.52,70.95 L278.87,70.59 L279.23,71.32 L279.58,70.60 L279.93,70.38 L280.28,70.48 L280.63,70.61 L280.99,71.42 L281.34,71.33 L281.69,71.08 L282.04,70.79 L282.39,70.33 L282.75,71.27 L283.10,70.43 L283.45,70.51 L283.80,70.79 L284.15,71.31 L284.51,70.49 L284.86,70.34 L285.21,71.36 L285.56,70.28 L285.92,71.15 L286.27,70.43 L286.62,70.62 L286.97,70.51 L287.32,70.79 L287.68,71.36 L288.03,71.26 L288.38,70.90 L288.73,70.36 L289.08,70.46 L289.44,70.61 L289.79,71.20 L290.14,71.35 L290.49,70.28 L290.85,70.65 L291.20,71.40 L291.55,70.42 L291.90,70.34 L292.25,70.56 L292.61,71.30 L292.96,70.55 L293.31,71.10 L293.66,70.38 L294.01,71.02 L294.37,70.43 L294.72,70.94 L295.07,71.12 L295.42,71.28 L295.77,70.75 L296.13,71.40 L296.48,70.71 L296.83,71.36 L297.18,71.31 L297.54,71.41 L297.89,70.34 L298.24,70.54 L298.59,71.04 L298.94,71.27 L299.30,70.51 L299.65,71.12 L300.00,70.77 L300.35,70.20 L300.70,70.30 L301.06,70.20 L301.41,70.47 L301.76,71.31 L302.11,71.00 L302.47,71.22 L302.82,71.28 L303.17,70.65 L303.52,71.01 L303.88,70.96 L304.23,71.00 L304.58,70.28 L304.93,71.23 L305.29,70.35 L305.64,70.69 L305.99,70.98 L306.34,71.05 L306.70,71.14 L307.05,70.52 L307.40,70.50 L307.75,71.01 L308.10,70.19 L308.46,71.18 L308.81,70.51 L309.16,70.60 L309.51,70.50 L309.87,70.98 L310.22,70.33 L310.57,70.28 L310.92,70.19 L311.28,70.26 L311.63,70.85 L311.98,71.29 L312.33,70.10 L312.69,70.65 L313.04,70.52 L313.39,70.46 L313.74,70.49 L314.10,70.21 L314.45,70.58 L314.80,70.39 L315.15,70.14 L315.50,70.23 L315.86,71.17 L316.21,70.92 L316.56,71.23 L316.91,71.03 L317.27,70.93 L317.62,70.32 L317.97,70.17 L318.32,71.22 L318.68,70.85 L319.03,70.90 L319.38,70.20 L319.73,70.97 L320.09,70.66 L320.44,70.12 L320.79,70.27 L321.14,71.17 L321.50,70.75 L321.85,70.11 L322.20,70.10" fill="none" stroke="#f5820a" stroke-width="3.3" stroke-linejoin="round" stroke-linecap="round" clip-path="url(#ca)"/>
<path d="M59.50,109.51 L59.85,110.02 L60.20,110.02 L60.56,110.21 L60.91,109.42 L61.26,109.47 L61.61,109.37 L61.97,109.46 L62.32,110.07 L62.67,109.34 L63.02,109.82 L63.37,109.44 L63.73,109.53 L64.08,109.70 L64.43,110.18 L64.78,109.90 L65.13,109.19 L65.49,109.50 L65.84,109.34 L66.19,110.21 L66.54,110.14 L66.90,110.13 L67.25,110.15 L67.60,110.05 L67.95,110.30 L68.30,110.11 L68.66,109.46 L69.01,110.17 L69.36,109.73 L69.71,110.05 L70.07,109.82 L70.42,109.66 L70.77,109.58 L71.12,109.66 L71.47,109.52 L71.83,109.28 L72.18,110.12 L72.53,110.09 L72.88,110.32 L73.23,109.96 L73.59,109.79 L73.94,110.03 L74.29,109.29 L74.64,109.94 L75.00,109.65 L75.35,109.33 L75.70,109.36 L76.05,109.74 L76.40,109.42 L76.76,109.66 L77.11,109.84 L77.46,109.58 L77.81,109.26 L78.17,109.69 L78.52,109.39 L78.87,109.38 L79.22,109.33 L79.57,109.54 L79.93,109.18 L80.28,109.88 L80.63,110.24 L80.98,109.56 L81.33,109.95 L81.69,110.21 L82.04,109.14 L82.39,109.25 L82.74,110.05 L83.10,110.09 L83.45,109.85 L83.80,109.27 L84.15,109.57 L84.50,110.12 L84.86,110.14 L85.21,110.03 L85.56,109.31 L85.91,110.09 L86.27,109.51 L86.62,109.92 L86.97,109.23 L87.32,110.23 L87.67,109.78 L88.03,109.92 L88.38,109.31 L88.73,109.79 L89.08,109.75 L89.43,109.76 L89.79,109.48 L90.14,109.92 L90.49,109.45 L90.84,109.40 L91.20,109.24 L91.55,109.86 L91.90,109.17 L92.25,109.31 L92.60,109.12 L92.96,109.80 L93.31,109.70 L93.66,109.68 L94.01,109.07 L94.37,109.55 L94.72,109.44 L95.07,109.13 L95.42,109.02 L95.77,110.22 L96.13,109.16 L96.48,109.38 L96.83,109.34 L97.18,109.73 L97.53,109.10 L97.89,109.57 L98.24,109.45 L98.59,110.01 L98.94,109.01 L99.30,109.40 L99.65,109.60 L100.00,110.16 L100.35,109.62 L100.70,109.57 L101.06,109.80 L101.41,109.35 L101.76,109.03 L102.11,109.59 L102.46,110.08 L102.82,109.87 L103.17,109.30 L103.52,109.81 L103.87,110.00 L104.23,109.29 L104.58,109.69 L104.93,109.41 L105.28,109.27 L105.63,109.32 L105.99,109.22 L106.34,109.40 L106.69,109.02 L107.04,109.45 L107.39,109.08 L107.75,109.88 L108.10,109.69 L108.45,108.97 L108.80,109.90 L109.15,109.19 L109.51,109.54 L109.86,109.63 L110.21,109.36 L110.56,109.31 L110.92,109.48 L111.27,109.12 L111.62,109.99 L111.97,109.09 L112.32,109.94 L112.68,109.22 L113.03,109.32 L113.38,109.42 L113.73,108.99 L114.08,109.10 L114.44,109.38 L114.79,109.48 L115.14,110.00 L115.49,110.13 L115.85,109.00 L116.20,109.59 L116.55,109.10 L116.90,109.91 L117.25,109.33 L117.61,110.01 L117.96,109.59 L118.31,109.09 L118.66,108.94 L119.01,109.23 L119.37,109.98 L119.72,109.11 L120.07,109.51 L120.42,109.38 L120.77,109.35 L121.13,109.89 L121.48,109.19 L121.83,109.79 L122.18,109.73 L122.54,110.05 L122.89,109.55 L123.24,110.03 L123.59,109.45 L123.94,109.61 L124.30,109.67 L124.65,109.93 L125.00,110.00 L125.35,109.06 L125.70,109.08 L126.06,109.56 L126.41,109.89 L126.76,109.55 L127.11,109.27 L127.46,110.07 L127.82,109.27 L128.17,109.01 L128.52,108.97 L128.87,108.94 L129.23,109.78 L129.58,109.03 L129.93,109.76 L130.28,109.94 L130.63,110.10 L130.99,109.87 L131.34,109.41 L131.69,109.64 L132.04,109.90 L132.39,109.75 L132.75,109.24 L133.10,109.81 L133.45,109.02 L133.80,109.26 L134.15,110.08 L134.51,109.45 L134.86,109.21 L135.21,109.83 L135.56,109.42 L135.92,108.89 L136.27,108.91 L136.62,109.19 L136.97,109.28 L137.32,110.00 L137.68,109.17 L138.03,109.89 L138.38,109.89 L138.73,109.37 L139.08,110.06 L139.44,109.78 L139.79,109.44 L140.14,109.18 L140.49,109.41 L140.85,109.94 L141.20,109.50 L141.55,109.09 L141.90,109.30 L142.25,109.42 L142.61,109.08 L142.96,109.53 L143.31,108.89 L143.66,109.83 L144.01,109.05 L144.37,108.96 L144.72,109.54 L145.07,109.20 L145.42,109.89 L145.77,109.43 L146.13,109.45 L146.48,109.83 L146.83,109.08 L147.18,109.71 L147.54,109.60 L147.89,109.33 L148.24,109.96 L148.59,108.84 L148.94,109.84 L149.30,108.98 L149.65,109.81 L150.00,108.98 L150.35,108.86 L150.71,109.40 L151.06,109.90 L151.41,109.10 L151.76,109.37 L152.12,109.51 L152.47,109.07 L152.82,109.41 L153.18,108.79 L153.53,109.31 L153.88,109.68 L154.24,109.17 L154.59,109.03 L154.94,108.82 L155.29,109.60 L155.65,109.26 L156.00,109.84 L156.35,109.63 L156.71,108.86 L157.06,109.83 L157.41,109.85 L157.76,109.70 L158.12,109.72 L158.47,109.53 L158.82,109.57 L159.18,109.50 L159.53,109.40 L159.88,109.00 L160.24,108.84 L160.59,109.54 L160.94,109.38 L161.29,108.72 L161.65,109.42 L162.00,109.37 L162.35,109.24 L162.71,109.55 L163.06,109.66 L163.41,109.05 L163.76,109.56 L164.12,109.17 L164.47,109.25 L164.82,109.04 L165.18,109.65 L165.53,109.05 L165.88,109.65 L166.24,108.89 L166.59,109.28 L166.94,109.55 L167.29,109.26 L167.65,108.87 L168.00,108.49 L168.36,108.93 L168.73,108.77 L169.09,109.11 L169.45,108.90 L169.82,108.91 L170.18,107.99 L170.55,107.63 L170.91,107.45 L171.27,107.26 L171.64,106.00 L172.00,105.66 L172.37,104.41 L172.73,102.46 L173.10,99.67 L173.47,97.51 L173.83,93.83 L174.20,92.52 L174.70,89.16 L175.20,87.64 L175.57,89.61 L175.93,91.15 L176.30,94.54 L176.70,101.04 L177.10,110.02 L177.50,117.86 L177.90,123.10 L178.30,127.65 L178.70,129.42 L179.13,129.34 L179.57,126.55 L180.00,124.68 L180.40,123.20 L180.80,121.44 L181.20,119.07 L181.60,117.37 L182.00,116.24 L182.36,115.74 L182.73,115.25 L183.09,113.90 L183.45,113.33 L183.82,113.60 L184.18,113.12 L184.55,112.81 L184.91,112.86 L185.27,111.91 L185.64,112.38 L186.00,111.91 L186.36,111.80 L186.72,111.49 L187.08,111.44 L187.44,111.71 L187.80,111.59 L188.16,111.93 L188.52,111.10 L188.88,111.55 L189.24,110.74 L189.60,111.35 L189.96,110.70 L190.32,111.47 L190.68,111.55 L191.04,110.65 L191.40,111.27 L191.76,110.52 L192.12,110.58 L192.48,110.30 L192.84,110.67 L193.20,110.24 L193.56,110.93 L193.92,110.75 L194.28,110.54 L194.64,110.87 L195.00,110.28 L195.35,110.38 L195.70,110.40 L196.06,109.95 L196.41,111.00 L196.76,110.03 L197.11,110.03 L197.46,110.85 L197.82,110.86 L198.17,110.40 L198.52,110.36 L198.87,110.01 L199.23,109.83 L199.58,110.44 L199.93,110.10 L200.28,109.98 L200.63,110.87 L200.99,109.80 L201.34,110.20 L201.69,110.66 L202.04,110.64 L202.39,109.86 L202.75,110.62 L203.10,110.39 L203.45,110.46 L203.80,110.83 L204.15,110.65 L204.51,110.40 L204.86,110.60 L205.21,110.26 L205.56,110.32 L205.92,110.63 L206.27,110.39 L206.62,110.09 L206.97,109.66 L207.32,110.57 L207.68,110.03 L208.03,110.13 L208.38,109.95 L208.73,110.27 L209.08,110.07 L209.44,110.59 L209.79,110.29 L210.14,110.24 L210.49,110.51 L210.85,110.09 L211.20,110.20 L211.55,110.45 L211.90,110.41 L212.25,110.43 L212.61,110.60 L212.96,110.20 L213.31,110.19 L213.66,109.74 L214.01,109.80 L214.37,110.03 L214.72,110.10 L215.07,110.57 L215.42,109.54 L215.77,109.90 L216.13,110.36 L216.48,110.02 L216.83,110.48 L217.18,109.65 L217.54,110.38 L217.89,109.96 L218.24,110.12 L218.59,109.50 L218.94,109.91 L219.30,110.38 L219.65,110.29 L220.00,110.08 L220.35,109.90 L220.71,109.43 L221.06,110.22 L221.41,109.90 L221.76,110.23 L222.12,110.09 L222.47,109.83 L222.82,110.38 L223.18,109.48 L223.53,110.47 L223.88,109.41 L224.24,110.46 L224.59,109.99 L224.94,109.82 L225.29,110.39 L225.65,109.88 L226.00,109.86 L226.35,109.32 L226.71,110.19 L227.06,109.99 L227.41,109.50 L227.76,109.34 L228.12,109.70 L228.47,110.31 L228.82,110.22 L229.18,109.73 L229.53,109.20 L229.88,110.15 L230.24,109.38 L230.59,110.01 L230.94,109.72 L231.29,110.27 L231.65,109.28 L232.00,110.05 L232.35,109.95 L232.71,109.10 L233.06,109.75 L233.41,109.41 L233.76,109.88 L234.12,110.19 L234.47,109.83 L234.82,109.62 L235.18,109.74 L235.53,109.30 L235.88,109.56 L236.24,109.13 L236.59,109.84 L236.94,109.05 L237.29,109.60 L237.65,109.17 L238.00,109.62 L238.35,109.01 L238.71,108.97 L239.06,109.68 L239.41,109.78 L239.76,109.98 L240.12,109.72 L240.47,110.09 L240.82,109.06 L241.18,109.64 L241.53,109.64 L241.88,109.08 L242.24,109.04 L242.59,109.15 L242.94,109.48 L243.29,109.80 L243.65,109.70 L244.00,109.53 L244.35,108.93 L244.71,109.70 L245.06,109.44 L245.41,109.03 L245.76,109.56 L246.12,109.11 L246.47,109.19 L246.82,109.35 L247.18,109.71 L247.53,108.94 L247.88,109.34 L248.24,109.09 L248.59,109.61 L248.94,109.78 L249.29,109.12 L249.65,109.66 L250.00,109.36 L250.35,109.06 L250.71,109.13 L251.06,109.45 L251.41,109.77 L251.76,109.53 L252.12,108.81 L252.47,109.75 L252.82,109.51 L253.18,109.32 L253.53,109.10 L253.88,109.35 L254.24,109.65 L254.59,109.15 L254.94,109.00 L255.29,109.89 L255.65,109.37 L256.00,108.93 L256.35,109.92 L256.71,108.98 L257.06,109.29 L257.41,109.60 L257.76,109.66 L258.12,109.95 L258.47,109.09 L258.82,109.57 L259.18,109.94 L259.53,109.46 L259.88,109.76 L260.24,109.47 L260.59,109.77 L260.94,110.07 L261.29,109.34 L261.65,109.82 L262.00,109.35 L262.35,110.01 L262.71,109.87 L263.06,109.99 L263.41,110.02 L263.76,109.69 L264.12,110.12 L264.47,109.18 L264.82,109.69 L265.18,109.09 L265.53,109.71 L265.88,109.84 L266.24,109.37 L266.59,110.01 L266.94,109.54 L267.29,109.28 L267.65,109.28 L268.00,109.75 L268.35,109.53 L268.71,109.13 L269.06,109.45 L269.41,110.26 L269.76,109.66 L270.12,109.92 L270.47,109.62 L270.82,109.20 L271.18,109.85 L271.53,109.37 L271.88,109.27 L272.24,109.87 L272.59,109.95 L272.94,109.16 L273.29,110.28 L273.65,109.18 L274.00,109.36 L274.35,109.56 L274.71,110.12 L275.06,110.06 L275.41,110.07 L275.76,109.69 L276.12,110.28 L276.47,109.34 L276.82,110.34 L277.18,109.25 L277.53,109.38 L277.88,110.10 L278.24,110.12 L278.59,110.01 L278.94,109.50 L279.29,110.24 L279.65,109.82 L280.00,109.45 L280.35,109.32 L280.70,110.39 L281.05,109.26 L281.40,109.46 L281.75,109.62 L282.11,110.26 L282.46,110.18 L282.81,110.18 L283.16,109.92 L283.51,109.17 L283.86,110.04 L284.21,109.37 L284.56,110.27 L284.91,110.29 L285.26,109.20 L285.61,109.98 L285.96,109.39 L286.32,109.21 L286.67,110.12 L287.02,109.59 L287.37,109.40 L287.72,109.71 L288.07,109.10 L288.42,109.52 L288.77,109.77 L289.12,110.02 L289.47,109.12 L289.82,110.03 L290.18,109.07 L290.53,109.17 L290.88,109.31 L291.23,109.10 L291.58,108.99 L291.93,109.65 L292.28,109.33 L292.63,109.07 L292.98,109.44 L293.33,108.96 L293.68,109.61 L294.04,109.94 L294.39,109.33 L294.74,109.26 L295.09,109.22 L295.44,109.17 L295.79,109.21 L296.14,108.92 L296.49,109.05 L296.84,109.51 L297.19,109.25 L297.54,108.74 L297.89,108.82 L298.25,109.65 L298.60,109.05 L298.95,109.62 L299.30,109.35 L299.65,109.36 L300.00,109.03 L300.35,109.29 L300.70,109.08 L301.06,109.20 L301.41,109.71 L301.76,108.70 L302.11,108.82 L302.47,109.64 L302.82,109.66 L303.17,109.52 L303.52,109.57 L303.88,108.66 L304.23,109.39 L304.58,108.67 L304.93,109.54 L305.29,108.99 L305.64,109.09 L305.99,109.13 L306.34,108.74 L306.70,109.17 L307.05,109.52 L307.40,109.02 L307.75,109.00 L308.10,108.91 L308.46,108.70 L308.81,108.81 L309.16,109.47 L309.51,109.61 L309.87,108.90 L310.22,108.79 L310.57,108.85 L310.92,109.47 L311.28,108.75 L311.63,108.65 L311.98,108.80 L312.33,108.52 L312.69,108.59 L313.04,108.69 L313.39,109.19 L313.74,109.52 L314.10,108.71 L314.45,108.75 L314.80,109.10 L315.15,108.42 L315.50,108.49 L315.86,109.07 L316.21,108.93 L316.56,108.79 L316.91,108.86 L317.27,108.39 L317.62,108.67 L317.97,108.57 L318.32,108.64 L318.68,108.43 L319.03,109.32 L319.38,108.36 L319.73,108.83 L320.09,108.53 L320.44,108.57 L320.79,109.23 L321.14,109.47 L321.50,109.47 L321.85,108.70 L322.20,108.95" fill="none" stroke="#f6c52e" stroke-width="3.3" stroke-linejoin="round" stroke-linecap="round" clip-path="url(#ca)"/>
<path d="M59.50,162.73 L59.85,163.44 L60.20,163.38 L60.56,163.72 L60.91,162.92 L61.26,162.90 L61.61,163.47 L61.97,163.38 L62.32,162.95 L62.67,163.41 L63.02,163.06 L63.37,163.51 L63.73,162.72 L64.08,162.85 L64.43,163.66 L64.78,163.00 L65.13,162.88 L65.49,163.54 L65.84,163.33 L66.19,162.75 L66.54,163.23 L66.90,163.36 L67.25,162.76 L67.60,163.34 L67.95,162.71 L68.30,162.96 L68.66,162.65 L69.01,162.80 L69.36,163.72 L69.71,163.03 L70.07,163.74 L70.42,163.07 L70.77,163.27 L71.12,163.59 L71.47,163.36 L71.83,162.67 L72.18,163.24 L72.53,163.29 L72.88,162.75 L73.23,162.64 L73.59,163.58 L73.94,163.14 L74.29,162.76 L74.64,163.07 L75.00,162.78 L75.35,163.48 L75.70,163.12 L76.05,162.64 L76.40,163.50 L76.76,162.62 L77.11,162.85 L77.46,162.54 L77.81,163.40 L78.17,162.64 L78.52,163.13 L78.87,162.61 L79.22,163.08 L79.57,163.32 L79.93,163.14 L80.28,163.04 L80.63,163.07 L80.98,163.02 L81.33,163.20 L81.69,162.60 L82.04,163.06 L82.39,162.77 L82.74,163.52 L83.10,163.61 L83.45,162.56 L83.80,162.65 L84.15,163.32 L84.50,163.16 L84.86,162.49 L85.21,163.32 L85.56,163.60 L85.91,162.97 L86.27,162.88 L86.62,163.15 L86.97,163.59 L87.32,162.78 L87.67,162.82 L88.03,162.68 L88.38,163.21 L88.73,163.02 L89.08,162.76 L89.43,162.91 L89.79,162.49 L90.14,162.82 L90.49,163.62 L90.84,163.15 L91.20,162.78 L91.55,163.56 L91.90,162.87 L92.25,162.74 L92.60,162.48 L92.96,162.61 L93.31,162.67 L93.66,162.71 L94.01,163.47 L94.37,162.74 L94.72,162.72 L95.07,163.15 L95.42,163.52 L95.77,162.77 L96.13,163.33 L96.48,162.86 L96.83,163.09 L97.18,163.13 L97.53,163.54 L97.89,163.32 L98.24,163.02 L98.59,163.42 L98.94,162.84 L99.30,162.86 L99.65,163.55 L100.00,163.06 L100.35,163.33 L100.70,162.77 L101.06,163.49 L101.41,163.13 L101.76,162.69 L102.11,163.51 L102.46,162.95 L102.82,162.80 L103.17,162.70 L103.52,162.51 L103.87,162.63 L104.23,163.21 L104.58,162.55 L104.93,162.69 L105.28,162.92 L105.63,163.03 L105.99,162.83 L106.34,163.32 L106.69,162.68 L107.04,162.82 L107.39,162.88 L107.75,162.53 L108.10,162.64 L108.45,162.54 L108.80,163.24 L109.15,162.54 L109.51,163.17 L109.86,162.63 L110.21,163.14 L110.56,163.15 L110.92,162.79 L111.27,163.48 L111.62,163.15 L111.97,163.03 L112.32,162.41 L112.68,162.84 L113.03,162.67 L113.38,162.92 L113.73,163.47 L114.08,163.39 L114.44,162.43 L114.79,163.17 L115.14,163.47 L115.49,163.00 L115.85,162.46 L116.20,163.39 L116.55,162.86 L116.90,163.52 L117.25,163.39 L117.61,163.34 L117.96,163.46 L118.31,162.42 L118.66,163.29 L119.01,162.71 L119.37,162.50 L119.72,162.79 L120.07,163.04 L120.42,162.34 L120.77,162.88 L121.13,163.28 L121.48,162.93 L121.83,162.97 L122.18,162.69 L122.54,163.50 L122.89,162.63 L123.24,163.15 L123.59,163.10 L123.94,162.33 L124.30,163.52 L124.65,162.61 L125.00,163.51 L125.35,163.44 L125.70,163.40 L126.06,163.35 L126.41,162.80 L126.76,162.85 L127.11,162.73 L127.46,163.44 L127.82,162.35 L128.17,162.48 L128.52,163.46 L128.87,163.28 L129.23,163.16 L129.58,163.47 L129.93,162.94 L130.28,163.31 L130.63,162.84 L130.99,163.39 L131.34,162.39 L131.69,162.83 L132.04,162.99 L132.39,163.25 L132.75,162.81 L133.10,163.11 L133.45,163.46 L133.80,162.80 L134.15,162.53 L134.51,162.33 L134.86,163.33 L135.21,162.86 L135.56,162.75 L135.92,162.91 L136.27,162.43 L136.62,162.55 L136.97,162.56 L137.32,162.59 L137.68,163.31 L138.03,162.57 L138.38,162.38 L138.73,163.31 L139.08,162.94 L139.44,162.30 L139.79,163.08 L140.14,163.09 L140.49,163.04 L140.85,163.19 L141.20,162.77 L141.55,162.53 L141.90,163.15 L142.25,163.00 L142.61,163.10 L142.96,162.47 L143.31,162.70 L143.66,163.08 L144.01,162.71 L144.37,162.96 L144.72,162.81 L145.07,163.14 L145.42,162.65 L145.77,162.83 L146.13,163.22 L146.48,162.60 L146.83,162.44 L147.18,162.99 L147.54,162.38 L147.89,163.25 L148.24,162.54 L148.59,163.30 L148.94,162.85 L149.30,162.39 L149.65,162.83 L150.00,163.02 L150.36,162.78 L150.71,162.96 L151.07,162.63 L151.43,163.34 L151.79,162.39 L152.14,163.14 L152.50,162.20 L152.86,162.78 L153.21,162.24 L153.57,162.32 L153.93,162.86 L154.29,163.23 L154.64,162.51 L155.00,162.62 L155.36,162.70 L155.71,162.84 L156.07,162.53 L156.43,162.52 L156.79,163.12 L157.14,162.75 L157.50,162.50 L157.86,163.04 L158.21,163.25 L158.57,162.56 L158.93,162.04 L159.29,162.38 L159.64,163.08 L160.00,162.19 L160.36,162.21 L160.71,162.90 L161.07,162.07 L161.43,162.94 L161.79,162.17 L162.14,162.35 L162.50,162.58 L162.86,161.98 L163.21,162.75 L163.57,162.32 L163.93,162.70 L164.29,162.67 L164.64,161.82 L165.00,162.69 L165.36,162.65 L165.71,161.89 L166.07,162.22 L166.43,161.65 L166.79,161.91 L167.14,162.01 L167.50,161.37 L167.86,161.35 L168.21,160.63 L168.57,161.25 L168.93,160.68 L169.29,160.61 L169.64,159.37 L170.00,159.79 L170.37,158.44 L170.74,158.09 L171.11,156.47 L171.49,155.74 L171.86,152.96 L172.23,151.31 L172.60,148.97 L173.00,144.54 L173.40,138.04 L173.80,133.20 L174.15,129.18 L174.50,125.83 L174.90,126.11 L175.30,125.31 L175.80,130.75 L176.30,141.95 L176.70,155.21 L177.10,170.67 L177.50,182.16 L177.90,188.57 L178.30,194.67 L178.70,196.42 L179.15,192.04 L179.60,185.85 L179.98,182.16 L180.36,178.68 L180.74,176.23 L181.12,174.12 L181.50,172.51 L181.86,171.23 L182.21,169.49 L182.57,168.16 L182.93,168.22 L183.29,166.84 L183.64,166.19 L184.00,166.39 L184.35,165.80 L184.71,166.03 L185.06,165.50 L185.41,165.58 L185.76,164.43 L186.12,165.20 L186.47,164.56 L186.82,164.59 L187.18,163.98 L187.53,163.79 L187.88,163.74 L188.24,163.49 L188.59,164.34 L188.94,163.25 L189.29,163.32 L189.65,163.72 L190.00,163.15 L190.36,163.10 L190.71,163.09 L191.07,163.01 L191.43,162.69 L191.79,163.51 L192.14,163.37 L192.50,162.90 L192.86,163.56 L193.21,163.11 L193.57,162.67 L193.93,163.52 L194.29,162.60 L194.64,163.26 L195.00,163.24 L195.36,162.23 L195.71,163.21 L196.07,162.67 L196.43,162.74 L196.79,163.24 L197.14,162.62 L197.50,162.34 L197.86,162.09 L198.21,163.07 L198.57,162.53 L198.93,162.81 L199.29,162.71 L199.64,163.10 L200.00,163.02 L200.35,163.00 L200.70,162.47 L201.05,162.94 L201.40,162.20 L201.75,161.96 L202.11,162.56 L202.46,161.81 L202.81,162.93 L203.16,162.14 L203.51,162.24 L203.86,162.07 L204.21,162.09 L204.56,162.34 L204.91,162.64 L205.26,161.69 L205.61,162.07 L205.96,161.94 L206.32,162.78 L206.67,162.15 L207.02,162.14 L207.37,162.72 L207.72,162.05 L208.07,162.04 L208.42,162.05 L208.77,161.84 L209.12,162.39 L209.47,161.88 L209.82,162.14 L210.18,162.20 L210.53,162.43 L210.88,162.39 L211.23,162.07 L211.58,162.62 L211.93,162.60 L212.28,162.58 L212.63,162.31 L212.98,161.99 L213.33,161.86 L213.68,162.45 L214.04,161.98 L214.39,162.30 L214.74,161.85 L215.09,161.82 L215.44,161.39 L215.79,162.23 L216.14,161.69 L216.49,161.93 L216.84,162.19 L217.19,162.31 L217.54,162.43 L217.89,162.08 L218.25,161.55 L218.60,162.37 L218.95,161.31 L219.30,161.72 L219.65,162.33 L220.00,162.21 L220.35,161.90 L220.70,162.21 L221.06,161.36 L221.41,161.18 L221.76,161.47 L222.11,162.21 L222.46,161.12 L222.82,161.44 L223.17,161.64 L223.52,161.25 L223.87,162.03 L224.23,161.09 L224.58,161.04 L224.93,162.11 L225.28,160.90 L225.63,161.12 L225.99,161.32 L226.34,161.86 L226.69,161.18 L227.04,161.44 L227.39,161.69 L227.75,161.44 L228.10,161.66 L228.45,160.66 L228.80,161.26 L229.15,160.61 L229.51,161.58 L229.86,160.56 L230.21,160.61 L230.56,160.98 L230.92,161.19 L231.27,160.43 L231.62,161.15 L231.97,160.48 L232.32,160.72 L232.68,160.35 L233.03,161.14 L233.38,161.24 L233.73,161.14 L234.08,160.58 L234.44,160.46 L234.79,161.29 L235.14,161.09 L235.49,161.25 L235.85,160.56 L236.20,161.09 L236.55,160.83 L236.90,160.94 L237.25,160.58 L237.61,160.89 L237.96,160.53 L238.31,160.23 L238.66,160.46 L239.01,159.92 L239.37,160.66 L239.72,160.24 L240.07,160.03 L240.42,160.75 L240.77,160.42 L241.13,160.15 L241.48,160.87 L241.83,160.88 L242.18,160.25 L242.54,160.39 L242.89,159.72 L243.24,160.14 L243.59,160.90 L243.94,160.32 L244.30,160.90 L244.65,159.74 L245.00,159.72 L245.35,159.77 L245.70,159.79 L246.06,160.61 L246.41,160.90 L246.76,160.64 L247.11,160.46 L247.46,160.20 L247.82,160.22 L248.17,159.93 L248.52,160.27 L248.87,159.96 L249.23,160.80 L249.58,160.50 L249.93,160.33 L250.28,160.92 L250.63,160.28 L250.99,160.99 L251.34,160.83 L251.69,160.75 L252.04,160.74 L252.39,160.82 L252.75,161.17 L253.10,161.31 L253.45,160.82 L253.80,161.34 L254.15,160.51 L254.51,161.36 L254.86,161.34 L255.21,161.08 L255.56,160.49 L255.92,161.45 L256.27,160.88 L256.62,160.86 L256.97,161.64 L257.32,160.64 L257.68,161.34 L258.03,160.88 L258.38,161.68 L258.73,160.93 L259.08,160.84 L259.44,161.33 L259.79,161.33 L260.14,161.72 L260.49,161.19 L260.85,161.23 L261.20,161.27 L261.55,161.61 L261.90,161.14 L262.25,161.68 L262.61,162.03 L262.96,161.90 L263.31,161.41 L263.66,161.70 L264.01,161.27 L264.37,161.75 L264.72,162.12 L265.07,161.23 L265.42,162.03 L265.77,162.38 L266.13,161.63 L266.48,161.69 L266.83,162.14 L267.18,161.53 L267.54,161.68 L267.89,162.11 L268.24,162.00 L268.59,161.59 L268.94,161.63 L269.30,161.99 L269.65,162.44 L270.00,161.64 L270.35,162.22 L270.70,162.03 L271.05,161.73 L271.40,161.88 L271.75,162.37 L272.11,161.50 L272.46,162.02 L272.81,161.93 L273.16,161.48 L273.51,161.83 L273.86,161.53 L274.21,161.79 L274.56,161.33 L274.91,161.96 L275.26,162.23 L275.61,162.29 L275.96,162.35 L276.32,161.51 L276.67,162.15 L277.02,161.60 L277.37,162.01 L277.72,161.70 L278.07,162.01 L278.42,161.57 L278.77,162.22 L279.12,161.61 L279.47,161.99 L279.82,161.23 L280.18,161.86 L280.53,161.22 L280.88,161.44 L281.23,161.38 L281.58,161.70 L281.93,161.58 L282.28,161.20 L282.63,161.97 L282.98,160.87 L283.33,161.38 L283.68,160.95 L284.04,160.90 L284.39,161.02 L284.74,161.87 L285.09,160.75 L285.44,161.57 L285.79,161.38 L286.14,161.68 L286.49,161.69 L286.84,160.80 L287.19,161.75 L287.54,160.80 L287.89,160.77 L288.25,160.90 L288.60,161.45 L288.95,161.30 L289.30,161.43 L289.65,160.86 L290.00,161.17 L290.36,160.99 L290.71,161.76 L291.07,161.30 L291.43,161.47 L291.79,161.18 L292.14,160.81 L292.50,160.80 L292.86,160.98 L293.21,161.63 L293.57,161.02 L293.93,161.38 L294.29,161.25 L294.64,161.03 L295.00,161.36 L295.36,161.54 L295.71,162.09 L296.07,161.97 L296.43,161.59 L296.79,161.47 L297.14,161.44 L297.50,161.62 L297.86,161.88 L298.21,162.45 L298.57,161.42 L298.93,161.60 L299.29,161.89 L299.64,162.13 L300.00,161.57 L300.36,161.55 L300.71,162.23 L301.07,161.62 L301.43,162.62 L301.79,162.46 L302.14,162.25 L302.50,162.91 L302.86,162.31 L303.21,162.89 L303.57,162.03 L303.93,161.88 L304.29,162.29 L304.64,162.43 L305.00,162.60 L305.35,161.95 L305.70,162.65 L306.05,162.15 L306.40,162.93 L306.76,162.75 L307.11,162.72 L307.46,161.85 L307.81,161.86 L308.16,161.83 L308.51,162.32 L308.86,161.82 L309.21,161.95 L309.56,161.85 L309.91,162.96 L310.27,162.33 L310.62,162.08 L310.97,161.94 L311.32,162.09 L311.67,161.88 L312.02,162.70 L312.37,162.85 L312.72,162.72 L313.07,161.82 L313.42,162.46 L313.78,162.75 L314.13,162.19 L314.48,162.65 L314.83,161.72 L315.18,162.32 L315.53,162.59 L315.88,162.21 L316.23,161.81 L316.58,162.84 L316.93,162.65 L317.29,162.01 L317.64,162.54 L317.99,161.86 L318.34,162.39 L318.69,162.50 L319.04,162.36 L319.39,162.16 L319.74,162.62 L320.09,162.12 L320.44,161.71 L320.80,161.80 L321.15,161.79 L321.50,162.54 L321.85,161.68 L322.20,162.76" fill="none" stroke="#12b86c" stroke-width="3.3" stroke-linejoin="round" stroke-linecap="round" clip-path="url(#ca)"/>
<path d="M59.50,233.16 L59.85,232.01 L60.20,232.88 L60.56,232.19 L60.91,233.18 L61.26,232.02 L61.61,233.05 L61.97,232.81 L62.32,233.02 L62.67,233.19 L63.02,232.28 L63.37,232.40 L63.73,232.84 L64.08,232.33 L64.43,232.30 L64.78,232.26 L65.13,233.02 L65.49,233.03 L65.84,232.94 L66.19,232.25 L66.54,233.09 L66.90,232.60 L67.25,232.26 L67.60,232.53 L67.95,232.48 L68.30,232.07 L68.66,232.65 L69.01,232.41 L69.36,232.66 L69.71,233.09 L70.07,232.75 L70.42,232.46 L70.77,233.01 L71.12,233.16 L71.47,232.56 L71.83,233.10 L72.18,231.99 L72.53,232.14 L72.88,232.17 L73.23,233.09 L73.59,232.79 L73.94,232.83 L74.29,232.31 L74.64,232.56 L75.00,233.03 L75.35,232.08 L75.70,232.10 L76.05,232.02 L76.40,232.52 L76.76,232.96 L77.11,232.62 L77.46,232.44 L77.81,232.56 L78.17,232.17 L78.52,233.09 L78.87,232.38 L79.22,232.23 L79.57,232.32 L79.93,232.94 L80.28,232.33 L80.63,233.03 L80.98,232.35 L81.33,232.47 L81.69,232.03 L82.04,233.03 L82.39,232.90 L82.74,232.51 L83.10,232.08 L83.45,232.53 L83.80,232.39 L84.15,232.95 L84.50,233.05 L84.86,232.83 L85.21,232.28 L85.56,231.98 L85.91,233.01 L86.27,233.07 L86.62,232.12 L86.97,232.53 L87.32,232.51 L87.67,233.10 L88.03,231.98 L88.38,232.00 L88.73,232.94 L89.08,232.61 L89.43,232.48 L89.79,232.86 L90.14,232.63 L90.49,232.75 L90.84,232.23 L91.20,232.02 L91.55,231.93 L91.90,232.32 L92.25,232.70 L92.60,232.37 L92.96,232.33 L93.31,232.66 L93.66,232.76 L94.01,232.63 L94.37,232.29 L94.72,232.90 L95.07,232.87 L95.42,232.98 L95.77,232.98 L96.13,231.93 L96.48,232.71 L96.83,232.32 L97.18,232.37 L97.53,232.53 L97.89,232.08 L98.24,232.20 L98.59,233.09 L98.94,232.30 L99.30,233.00 L99.65,232.72 L100.00,232.28 L100.35,232.28 L100.70,232.62 L101.06,232.74 L101.41,232.31 L101.76,231.97 L102.11,232.10 L102.46,232.93 L102.82,232.77 L103.17,232.02 L103.52,232.89 L103.87,232.58 L104.23,232.29 L104.58,232.96 L104.93,232.04 L105.28,232.01 L105.63,232.30 L105.99,232.77 L106.34,232.55 L106.69,232.47 L107.04,232.97 L107.39,232.36 L107.75,232.83 L108.10,231.89 L108.45,232.82 L108.80,232.07 L109.15,232.67 L109.51,232.89 L109.86,232.67 L110.21,232.58 L110.56,232.54 L110.92,232.78 L111.27,232.32 L111.62,232.16 L111.97,232.55 L112.32,232.50 L112.68,232.02 L113.03,232.51 L113.38,232.44 L113.73,232.06 L114.08,232.73 L114.44,232.81 L114.79,232.28 L115.14,232.91 L115.49,233.06 L115.85,232.67 L116.20,232.36 L116.55,232.20 L116.90,232.03 L117.25,232.20 L117.61,233.07 L117.96,231.94 L118.31,232.97 L118.66,232.71 L119.01,232.81 L119.37,231.99 L119.72,232.65 L120.07,232.12 L120.42,232.68 L120.77,232.82 L121.13,232.73 L121.48,232.51 L121.83,232.93 L122.18,232.14 L122.54,232.05 L122.89,232.90 L123.24,231.93 L123.59,232.37 L123.94,232.37 L124.30,232.92 L124.65,232.31 L125.00,232.55 L125.35,232.46 L125.70,232.44 L126.06,232.43 L126.41,232.42 L126.76,232.58 L127.11,232.38 L127.46,232.37 L127.82,232.97 L128.17,233.03 L128.52,232.15 L128.87,232.99 L129.23,231.89 L129.58,232.26 L129.93,232.93 L130.28,232.06 L130.63,232.66 L130.99,233.05 L131.34,232.59 L131.69,232.40 L132.04,231.89 L132.39,232.39 L132.75,232.41 L133.10,232.80 L133.45,232.32 L133.80,232.82 L134.15,232.33 L134.51,232.61 L134.86,232.76 L135.21,232.04 L135.56,232.99 L135.92,232.38 L136.27,232.42 L136.62,233.01 L136.97,232.53 L137.32,232.46 L137.68,232.10 L138.03,232.10 L138.38,232.75 L138.73,232.44 L139.08,232.63 L139.44,232.67 L139.79,232.65 L140.14,232.22 L140.49,232.87 L140.85,232.37 L141.20,232.04 L141.55,232.87 L141.90,232.91 L142.25,231.97 L142.61,232.89 L142.96,232.65 L143.31,232.15 L143.66,232.51 L144.01,232.93 L144.37,232.00 L144.72,232.61 L145.07,232.11 L145.42,232.00 L145.77,232.96 L146.13,233.01 L146.48,232.60 L146.83,232.76 L147.18,232.29 L147.54,232.32 L147.89,232.55 L148.24,232.78 L148.59,232.65 L148.94,232.37 L149.30,232.56 L149.65,232.28 L150.00,232.77 L150.35,232.84 L150.71,232.73 L151.06,232.18 L151.42,232.25 L151.77,232.97 L152.12,232.24 L152.48,232.58 L152.83,231.90 L153.19,231.94 L153.54,232.05 L153.90,232.58 L154.25,232.05 L154.60,232.56 L154.96,231.85 L155.31,232.59 L155.67,232.60 L156.02,232.06 L156.38,232.04 L156.73,232.04 L157.08,232.33 L157.44,231.95 L157.79,232.01 L158.15,232.68 L158.50,232.84 L158.85,231.90 L159.21,232.32 L159.56,232.48 L159.92,232.82 L160.27,232.34 L160.62,232.30 L160.98,232.58 L161.33,232.59 L161.69,232.49 L162.04,232.37 L162.40,232.58 L162.75,231.65 L163.10,232.50 L163.46,231.84 L163.81,231.98 L164.17,232.01 L164.52,232.15 L164.88,232.22 L165.23,232.20 L165.58,231.86 L165.94,231.89 L166.29,232.23 L166.65,232.54 L167.00,231.86 L167.35,231.37 L167.70,232.30 L168.05,232.20 L168.40,231.97 L168.75,231.50 L169.10,230.97 L169.45,230.23 L169.80,230.88 L170.15,229.89 L170.50,229.05 L170.92,228.47 L171.34,225.50 L171.76,222.68 L172.18,218.88 L172.60,214.36 L173.10,203.91 L173.60,189.64 L174.00,173.15 L174.40,162.38 L174.90,160.76 L175.40,160.57 L175.70,169.25 L176.00,185.54 L176.40,210.57 L176.80,239.75 L177.20,259.46 L177.55,270.74 L177.90,279.59 L178.25,286.64 L178.60,289.35 L179.00,285.33 L179.40,277.70 L179.80,270.22 L180.23,263.61 L180.65,257.07 L181.07,251.38 L181.50,248.26 L181.86,246.61 L182.21,244.85 L182.57,243.28 L182.93,241.90 L183.29,240.62 L183.64,239.60 L184.00,238.54 L184.35,238.89 L184.71,237.73 L185.06,238.23 L185.41,237.77 L185.76,236.75 L186.12,237.18 L186.47,236.71 L186.82,236.52 L187.18,235.43 L187.53,235.40 L187.88,235.06 L188.24,235.81 L188.59,234.80 L188.94,234.87 L189.29,235.09 L189.65,234.52 L190.00,234.66 L190.36,234.51 L190.71,234.08 L191.07,234.61 L191.43,234.17 L191.79,234.14 L192.14,234.01 L192.50,233.76 L192.86,233.11 L193.21,233.90 L193.57,233.83 L193.93,232.72 L194.29,232.94 L194.64,232.63 L195.00,232.47 L195.36,232.92 L195.71,232.67 L196.07,232.23 L196.43,232.57 L196.79,232.75 L197.14,232.01 L197.50,232.56 L197.86,232.51 L198.21,232.65 L198.57,232.80 L198.93,232.60 L199.29,231.94 L199.64,231.54 L200.00,231.80 L200.35,231.56 L200.70,232.34 L201.05,231.72 L201.40,231.91 L201.75,232.07 L202.11,231.72 L202.46,232.33 L202.81,231.89 L203.16,231.78 L203.51,231.23 L203.86,231.29 L204.21,231.80 L204.56,231.47 L204.91,231.61 L205.26,231.94 L205.61,231.68 L205.96,231.84 L206.32,231.25 L206.67,230.87 L207.02,231.10 L207.37,231.83 L207.72,231.01 L208.07,230.84 L208.42,230.76 L208.77,231.85 L209.12,230.88 L209.47,230.70 L209.82,231.02 L210.18,230.62 L210.53,231.43 L210.88,231.36 L211.23,231.02 L211.58,231.36 L211.93,230.49 L212.28,231.41 L212.63,231.20 L212.98,231.31 L213.33,230.56 L213.68,231.51 L214.04,231.53 L214.39,230.90 L214.74,230.69 L215.09,230.90 L215.44,231.11 L215.79,230.79 L216.14,230.86 L216.49,231.33 L216.84,231.01 L217.19,230.60 L217.54,231.20 L217.89,231.03 L218.25,230.08 L218.60,230.62 L218.95,230.36 L219.30,230.33 L219.65,230.38 L220.00,230.90 L220.35,230.60 L220.71,230.12 L221.06,229.87 L221.41,229.93 L221.76,230.15 L222.12,230.31 L222.47,230.20 L222.82,230.07 L223.18,230.14 L223.53,229.82 L223.88,230.54 L224.24,229.61 L224.59,229.73 L224.94,230.02 L225.29,230.18 L225.65,229.59 L226.00,229.81 L226.35,229.29 L226.71,228.94 L227.06,230.03 L227.41,228.89 L227.76,229.66 L228.12,228.72 L228.47,228.98 L228.82,229.18 L229.18,229.59 L229.53,229.41 L229.88,228.75 L230.24,228.34 L230.59,229.18 L230.94,229.12 L231.29,229.29 L231.65,228.28 L232.00,228.87 L232.35,228.76 L232.71,229.03 L233.06,228.95 L233.41,228.81 L233.76,228.87 L234.12,227.91 L234.47,228.96 L234.82,228.47 L235.18,228.79 L235.53,227.87 L235.88,228.29 L236.24,228.71 L236.59,228.79 L236.94,228.35 L237.29,228.68 L237.65,227.63 L238.00,227.73 L238.35,227.91 L238.71,228.66 L239.06,228.48 L239.42,228.15 L239.77,228.75 L240.12,228.30 L240.48,227.88 L240.83,228.86 L241.19,228.65 L241.54,229.00 L241.90,228.78 L242.25,228.49 L242.60,229.00 L242.96,228.13 L243.31,228.03 L243.67,228.38 L244.02,229.26 L244.38,228.28 L244.73,229.13 L245.08,228.92 L245.44,228.49 L245.79,228.64 L246.15,229.31 L246.50,228.97 L246.85,229.61 L247.21,228.67 L247.56,229.36 L247.92,229.74 L248.27,229.06 L248.62,229.16 L248.98,229.58 L249.33,229.14 L249.69,229.76 L250.04,230.14 L250.40,229.46 L250.75,229.32 L251.10,230.21 L251.46,229.26 L251.81,230.26 L252.17,229.77 L252.52,230.26 L252.88,229.77 L253.23,230.50 L253.58,230.15 L253.94,230.10 L254.29,229.48 L254.65,230.09 L255.00,229.68 L255.36,230.25 L255.71,229.78 L256.07,229.67 L256.43,229.56 L256.79,229.69 L257.14,229.53 L257.50,229.71 L257.86,230.01 L258.21,230.38 L258.57,230.27 L258.93,229.77 L259.29,230.43 L259.64,229.73 L260.00,229.81 L260.36,229.94 L260.71,229.99 L261.07,229.85 L261.43,230.04 L261.79,229.47 L262.14,229.47 L262.50,229.60 L262.86,229.71 L263.21,229.48 L263.57,229.84 L263.93,229.23 L264.29,229.64 L264.64,229.67 L265.00,229.83 L265.36,229.26 L265.71,229.87 L266.07,229.62 L266.43,230.17 L266.79,229.21 L267.14,229.52 L267.50,229.97 L267.86,230.14 L268.21,229.99 L268.57,230.08 L268.93,229.53 L269.29,229.27 L269.64,229.31 L270.00,229.76 L270.36,229.80 L270.71,229.52 L271.07,229.25 L271.43,230.09 L271.79,229.45 L272.14,229.37 L272.50,230.10 L272.86,230.06 L273.21,229.97 L273.57,230.15 L273.93,229.98 L274.29,230.02 L274.64,229.79 L275.00,229.57 L275.36,230.52 L275.71,229.58 L276.07,230.43 L276.43,229.93 L276.79,230.50 L277.14,230.73 L277.50,230.64 L277.86,229.78 L278.21,230.85 L278.57,230.13 L278.93,230.22 L279.29,231.13 L279.64,231.00 L280.00,230.23 L280.36,231.10 L280.71,230.43 L281.07,230.91 L281.43,231.18 L281.79,230.32 L282.14,230.49 L282.50,230.45 L282.86,230.49 L283.21,231.43 L283.57,230.40 L283.93,230.76 L284.29,231.41 L284.64,230.42 L285.00,230.95 L285.36,231.40 L285.71,231.50 L286.07,231.38 L286.43,230.46 L286.79,230.44 L287.14,231.28 L287.50,230.94 L287.86,230.97 L288.21,231.19 L288.57,231.34 L288.93,230.70 L289.29,231.51 L289.64,230.71 L290.00,231.39 L290.36,230.44 L290.71,230.38 L291.07,231.05 L291.43,231.22 L291.79,231.08 L292.14,230.38 L292.50,231.42 L292.86,231.40 L293.21,231.37 L293.57,231.13 L293.93,230.28 L294.29,230.80 L294.64,230.48 L295.00,230.53 L295.36,230.82 L295.71,231.27 L296.07,231.01 L296.43,231.40 L296.79,230.65 L297.14,230.33 L297.50,231.17 L297.86,231.27 L298.21,230.81 L298.57,230.48 L298.93,230.97 L299.29,230.51 L299.64,230.68 L300.00,230.91 L300.35,231.07 L300.70,231.09 L301.06,230.32 L301.41,230.68 L301.76,230.82 L302.11,230.58 L302.47,230.29 L302.82,230.53 L303.17,230.75 L303.52,230.99 L303.88,231.41 L304.23,230.48 L304.58,230.93 L304.93,230.50 L305.29,230.42 L305.64,230.61 L305.99,230.78 L306.34,231.30 L306.70,230.67 L307.05,231.44 L307.40,231.25 L307.75,230.80 L308.10,231.38 L308.46,230.67 L308.81,230.37 L309.16,230.91 L309.51,231.12 L309.87,231.21 L310.22,230.41 L310.57,230.42 L310.92,231.24 L311.28,231.54 L311.63,231.03 L311.98,231.38 L312.33,230.68 L312.69,230.65 L313.04,231.05 L313.39,231.66 L313.74,230.66 L314.10,231.17 L314.45,231.37 L314.80,230.58 L315.15,231.54 L315.50,230.81 L315.86,231.59 L316.21,231.33 L316.56,230.68 L316.91,230.88 L317.27,231.15 L317.62,230.72 L317.97,231.55 L318.32,231.19 L318.68,230.85 L319.03,230.96 L319.38,231.53 L319.73,231.25 L320.09,231.37 L320.44,230.99 L320.79,231.09 L321.14,231.05 L321.50,231.31 L321.85,230.96 L322.20,230.83" fill="none" stroke="#1262c8" stroke-width="3.3" stroke-linejoin="round" stroke-linecap="round" clip-path="url(#ca)"/>
<path d="M59.50,312.03 L59.85,312.17 L60.20,312.09 L60.56,312.13 L60.91,312.08 L61.26,312.37 L61.61,311.89 L61.97,312.34 L62.32,311.58 L62.67,311.93 L63.02,311.97 L63.37,311.73 L63.73,312.45 L64.08,311.93 L64.43,312.50 L64.78,312.70 L65.13,311.85 L65.49,312.61 L65.84,312.51 L66.19,312.34 L66.54,311.57 L66.90,312.08 L67.25,312.28 L67.60,311.88 L67.95,311.79 L68.30,311.89 L68.66,311.82 L69.01,312.45 L69.36,311.92 L69.71,312.01 L70.07,312.27 L70.42,312.63 L70.77,311.84 L71.12,311.54 L71.47,312.66 L71.83,312.48 L72.18,312.43 L72.53,312.11 L72.88,311.76 L73.23,311.66 L73.59,311.83 L73.94,312.02 L74.29,311.54 L74.64,312.30 L75.00,312.33 L75.35,311.47 L75.70,312.46 L76.05,312.03 L76.40,312.54 L76.76,312.01 L77.11,312.39 L77.46,311.98 L77.81,312.16 L78.17,312.02 L78.52,311.45 L78.87,311.59 L79.22,311.69 L79.57,311.90 L79.93,311.85 L80.28,312.05 L80.63,312.19 L80.98,311.88 L81.33,311.78 L81.69,312.01 L82.04,312.53 L82.39,312.32 L82.74,312.17 L83.10,312.36 L83.45,311.65 L83.80,311.49 L84.15,311.48 L84.50,311.51 L84.86,311.37 L85.21,312.11 L85.56,312.46 L85.91,311.49 L86.27,312.17 L86.62,312.47 L86.97,312.26 L87.32,311.52 L87.67,312.10 L88.03,311.64 L88.38,311.54 L88.73,311.34 L89.08,311.95 L89.43,312.42 L89.79,311.44 L90.14,311.49 L90.49,311.77 L90.84,311.35 L91.20,311.86 L91.55,312.17 L91.90,311.84 L92.25,311.33 L92.60,311.32 L92.96,311.52 L93.31,312.08 L93.66,312.38 L94.01,311.87 L94.37,311.39 L94.72,311.52 L95.07,311.76 L95.42,311.38 L95.77,311.39 L96.13,311.77 L96.48,312.25 L96.83,311.52 L97.18,312.29 L97.53,312.28 L97.89,311.74 L98.24,311.49 L98.59,311.44 L98.94,312.01 L99.30,312.20 L99.65,312.24 L100.00,311.45 L100.35,311.71 L100.70,311.22 L101.05,311.55 L101.40,311.54 L101.75,311.33 L102.11,311.27 L102.46,312.36 L102.81,311.53 L103.16,311.76 L103.51,311.80 L103.86,311.72 L104.21,311.86 L104.56,311.75 L104.91,311.74 L105.26,311.24 L105.61,311.90 L105.96,311.94 L106.32,312.00 L106.67,311.51 L107.02,311.68 L107.37,312.09 L107.72,311.99 L108.07,311.18 L108.42,311.52 L108.77,311.32 L109.12,311.96 L109.47,311.59 L109.82,311.57 L110.18,311.36 L110.53,311.64 L110.88,311.95 L111.23,311.85 L111.58,311.35 L111.93,311.56 L112.28,311.83 L112.63,311.14 L112.98,312.15 L113.33,311.10 L113.68,311.82 L114.04,311.24 L114.39,312.21 L114.74,311.89 L115.09,311.32 L115.44,311.65 L115.79,312.06 L116.14,312.07 L116.49,311.83 L116.84,311.80 L117.19,311.92 L117.54,312.13 L117.89,311.64 L118.25,311.76 L118.60,311.97 L118.95,311.62 L119.30,311.27 L119.65,311.70 L120.00,311.42 L120.35,311.85 L120.70,311.89 L121.05,312.08 L121.40,311.11 L121.75,311.01 L122.11,312.09 L122.46,311.85 L122.81,312.16 L123.16,311.94 L123.51,312.10 L123.86,311.14 L124.21,311.17 L124.56,311.68 L124.91,311.85 L125.26,311.07 L125.61,312.06 L125.96,311.20 L126.32,311.16 L126.67,311.43 L127.02,311.12 L127.37,311.01 L127.72,310.99 L128.07,310.93 L128.42,311.06 L128.77,311.69 L129.12,311.80 L129.47,311.79 L129.82,311.36 L130.18,311.75 L130.53,310.98 L130.88,311.87 L131.23,311.32 L131.58,310.97 L131.93,311.27 L132.28,311.04 L132.63,311.69 L132.98,311.24 L133.33,310.80 L133.68,311.00 L134.04,310.86 L134.39,311.90 L134.74,311.24 L135.09,311.68 L135.44,311.44 L135.79,311.22 L136.14,311.59 L136.49,311.37 L136.84,310.75 L137.19,311.88 L137.54,311.09 L137.89,311.45 L138.25,311.15 L138.60,311.80 L138.95,310.83 L139.30,310.69 L139.65,310.66 L140.00,311.08 L140.36,311.60 L140.73,311.10 L141.09,311.65 L141.45,310.66 L141.82,311.61 L142.18,310.60 L142.55,311.41 L142.91,310.53 L143.27,310.93 L143.64,310.91 L144.00,311.28 L144.36,310.55 L144.73,311.01 L145.09,310.01 L145.45,310.98 L145.82,310.47 L146.18,310.45 L146.55,310.93 L146.91,310.12 L147.27,310.46 L147.64,310.41 L148.00,310.06 L148.35,309.88 L148.70,310.22 L149.05,310.04 L149.40,310.44 L149.75,310.20 L150.10,309.81 L150.45,310.54 L150.80,310.82 L151.15,310.46 L151.50,310.08 L151.85,310.09 L152.20,310.88 L152.55,310.27 L152.90,310.61 L153.25,309.84 L153.60,310.73 L153.95,310.83 L154.30,310.08 L154.65,310.14 L155.00,310.56 L155.35,310.93 L155.70,310.73 L156.05,309.82 L156.40,309.94 L156.75,310.88 L157.10,310.30 L157.45,310.97 L157.80,310.37 L158.15,310.84 L158.50,310.11 L158.85,311.01 L159.20,310.43 L159.55,309.88 L159.90,310.12 L160.25,309.99 L160.60,310.40 L160.95,311.05 L161.30,311.07 L161.65,311.03 L162.00,310.41 L162.35,310.85 L162.70,310.83 L163.05,310.94 L163.40,311.11 L163.75,310.95 L164.10,310.88 L164.45,310.34 L164.80,310.17 L165.15,310.48 L165.50,310.33 L165.85,310.88 L166.20,310.17 L166.55,310.23 L166.90,310.87 L167.25,310.04 L167.60,310.10 L167.95,310.00 L168.30,310.02 L168.65,310.12 L169.00,310.89 L169.37,310.16 L169.73,309.50 L170.10,309.26 L170.47,308.16 L170.83,306.63 L171.20,305.48 L171.60,303.76 L172.00,300.96 L172.40,296.56 L172.80,291.90 L173.30,281.07 L173.80,265.51 L174.15,246.50 L174.50,232.77 L174.95,231.17 L175.40,230.62 L175.85,241.60 L176.30,262.54 L176.70,284.43 L177.10,309.13 L177.50,330.17 L177.90,345.46 L178.30,358.25 L178.70,363.31 L179.10,359.68 L179.50,351.55 L179.90,344.72 L180.30,340.00 L180.70,334.51 L181.10,329.76 L181.50,325.80 L181.88,324.21 L182.25,322.29 L182.62,320.10 L183.00,318.52 L183.38,317.38 L183.75,316.42 L184.12,314.99 L184.50,314.43 L184.87,315.19 L185.23,314.10 L185.60,313.76 L185.97,313.65 L186.33,313.29 L186.70,313.23 L187.07,312.79 L187.43,311.95 L187.80,311.78 L188.17,311.87 L188.53,311.83 L188.90,312.43 L189.27,311.72 L189.63,311.16 L190.00,311.90 L190.35,311.18 L190.70,311.22 L191.05,311.38 L191.41,311.40 L191.76,310.74 L192.11,310.86 L192.46,310.29 L192.81,311.32 L193.16,311.16 L193.51,311.02 L193.86,310.21 L194.22,310.64 L194.57,310.33 L194.92,309.93 L195.27,309.93 L195.62,310.66 L195.97,310.28 L196.32,310.21 L196.68,309.60 L197.03,310.08 L197.38,310.40 L197.73,309.52 L198.08,309.51 L198.43,310.31 L198.78,309.47 L199.14,309.66 L199.49,310.17 L199.84,309.92 L200.19,309.39 L200.54,309.39 L200.89,309.26 L201.24,308.99 L201.59,309.56 L201.95,309.09 L202.30,309.22 L202.65,309.90 L203.00,309.04 L203.35,309.00 L203.71,308.97 L204.06,309.68 L204.42,309.24 L204.77,309.29 L205.12,309.62 L205.48,309.91 L205.83,310.23 L206.19,309.18 L206.54,309.58 L206.90,309.23 L207.25,309.68 L207.60,310.11 L207.96,309.78 L208.31,309.95 L208.67,309.86 L209.02,310.74 L209.38,310.60 L209.73,310.76 L210.08,310.50 L210.44,310.91 L210.79,310.68 L211.15,310.09 L211.50,310.21 L211.85,311.26 L212.21,310.86 L212.56,311.15 L212.92,311.01 L213.27,311.48 L213.62,310.71 L213.98,310.73 L214.33,310.87 L214.69,311.55 L215.04,311.44 L215.40,311.42 L215.75,311.09 L216.10,311.40 L216.46,311.29 L216.81,311.10 L217.17,312.17 L217.52,312.03 L217.88,312.05 L218.23,311.58 L218.58,312.16 L218.94,312.15 L219.29,311.47 L219.65,312.34 L220.00,312.17 L220.35,311.26 L220.71,311.31 L221.06,311.26 L221.41,311.94 L221.76,311.28 L222.12,311.23 L222.47,311.04 L222.82,311.46 L223.18,311.24 L223.53,311.48 L223.88,310.94 L224.24,311.49 L224.59,311.31 L224.94,310.95 L225.29,311.54 L225.65,311.00 L226.00,310.84 L226.35,310.37 L226.71,310.34 L227.06,310.73 L227.41,310.18 L227.76,309.79 L228.12,310.05 L228.47,310.02 L228.82,309.50 L229.18,309.51 L229.53,310.22 L229.88,309.97 L230.24,309.42 L230.59,309.70 L230.94,309.46 L231.29,308.82 L231.65,309.15 L232.00,308.48 L232.35,309.03 L232.71,308.84 L233.06,308.21 L233.42,308.59 L233.77,308.14 L234.12,308.51 L234.48,308.77 L234.83,308.42 L235.19,307.40 L235.54,307.90 L235.90,307.72 L236.25,308.03 L236.60,307.14 L236.96,306.80 L237.31,307.01 L237.67,306.87 L238.02,307.37 L238.38,307.34 L238.73,306.91 L239.08,307.04 L239.44,306.60 L239.79,306.36 L240.15,306.53 L240.50,306.82 L240.85,306.40 L241.20,307.03 L241.56,306.62 L241.91,306.41 L242.26,306.79 L242.61,307.30 L242.96,306.77 L243.31,306.81 L243.67,307.15 L244.02,307.78 L244.37,307.71 L244.72,307.73 L245.07,307.29 L245.43,307.84 L245.78,308.04 L246.13,307.71 L246.48,308.11 L246.83,307.79 L247.19,308.81 L247.54,308.63 L247.89,308.71 L248.24,309.02 L248.59,309.04 L248.94,308.62 L249.30,309.02 L249.65,308.50 L250.00,309.22 L250.35,308.89 L250.71,309.12 L251.06,309.53 L251.41,308.93 L251.76,308.85 L252.12,309.62 L252.47,309.06 L252.82,309.83 L253.18,309.91 L253.53,309.02 L253.88,309.55 L254.24,310.04 L254.59,309.73 L254.94,309.76 L255.29,309.19 L255.65,309.58 L256.00,310.06 L256.35,309.12 L256.71,310.01 L257.06,309.55 L257.41,309.55 L257.76,310.24 L258.12,309.71 L258.47,309.88 L258.82,310.50 L259.18,309.69 L259.53,310.50 L259.88,309.74 L260.24,310.08 L260.59,309.45 L260.94,310.56 L261.29,309.95 L261.65,309.99 L262.00,310.55 L262.36,309.90 L262.73,309.41 L263.09,309.76 L263.45,309.35 L263.82,309.33 L264.18,310.28 L264.55,310.13 L264.91,309.99 L265.27,309.83 L265.64,309.44 L266.00,309.60 L266.36,309.20 L266.73,309.51 L267.09,309.61 L267.45,309.04 L267.82,308.82 L268.18,308.81 L268.55,308.59 L268.91,309.35 L269.27,309.16 L269.64,308.45 L270.00,308.12 L270.35,308.52 L270.71,308.74 L271.06,308.10 L271.41,308.57 L271.76,308.01 L272.12,307.70 L272.47,308.33 L272.82,308.12 L273.18,307.62 L273.53,307.89 L273.88,307.32 L274.24,307.76 L274.59,307.54 L274.94,307.33 L275.29,306.93 L275.65,307.24 L276.00,306.69 L276.36,307.48 L276.72,306.91 L277.08,307.05 L277.44,306.13 L277.81,306.11 L278.17,306.28 L278.53,306.02 L278.89,306.16 L279.25,306.35 L279.61,306.47 L279.97,305.61 L280.33,306.21 L280.69,305.50 L281.06,306.20 L281.42,306.29 L281.78,306.07 L282.14,305.63 L282.50,305.62 L282.86,306.08 L283.21,306.27 L283.57,305.45 L283.93,305.70 L284.29,306.53 L284.64,306.53 L285.00,305.99 L285.36,306.05 L285.71,306.07 L286.07,306.51 L286.43,307.36 L286.79,307.19 L287.14,306.88 L287.50,307.04 L287.86,307.14 L288.21,307.65 L288.57,307.51 L288.93,307.63 L289.29,308.31 L289.64,307.97 L290.00,307.91 L290.36,308.06 L290.72,309.07 L291.08,309.05 L291.44,308.39 L291.80,309.65 L292.16,309.66 L292.52,308.76 L292.88,309.94 L293.24,309.00 L293.60,309.38 L293.96,309.39 L294.32,310.02 L294.68,310.26 L295.04,309.84 L295.40,310.40 L295.76,310.73 L296.12,309.96 L296.48,310.18 L296.84,311.00 L297.20,310.14 L297.56,310.56 L297.92,310.60 L298.28,311.03 L298.64,310.38 L299.00,310.40 L299.35,311.15 L299.71,311.32 L300.06,310.54 L300.42,311.24 L300.77,310.78 L301.13,311.53 L301.48,311.36 L301.84,311.34 L302.19,310.90 L302.55,311.18 L302.90,311.82 L303.26,311.27 L303.61,311.48 L303.97,311.61 L304.32,311.05 L304.68,311.09 L305.03,311.91 L305.39,311.59 L305.74,310.97 L306.10,311.41 L306.45,311.17 L306.81,311.61 L307.16,311.62 L307.52,311.85 L307.87,311.51 L308.23,311.01 L308.58,311.48 L308.94,311.00 L309.29,311.44 L309.65,311.39 L310.00,311.34 L310.36,311.21 L310.72,311.12 L311.08,311.25 L311.44,311.73 L311.79,311.16 L312.15,311.54 L312.51,312.12 L312.87,312.14 L313.23,311.90 L313.59,311.62 L313.95,311.71 L314.31,311.60 L314.66,312.09 L315.02,311.57 L315.38,311.11 L315.74,312.12 L316.10,311.33 L316.46,312.16 L316.82,312.15 L317.18,311.42 L317.54,311.40 L317.89,312.14 L318.25,312.18 L318.61,311.71 L318.97,311.25 L319.33,311.74 L319.69,312.26 L320.05,311.59 L320.41,311.93 L320.76,312.24 L321.12,311.82 L321.48,311.60 L321.84,311.90 L322.20,311.54" fill="none" stroke="#840c86" stroke-width="3.3" stroke-linejoin="round" stroke-linecap="round" clip-path="url(#ca)"/>
<rect x="59.5" y="2.0" width="262.70" height="385.80" fill="none" stroke="#111" stroke-width="1.5"/>
<rect x="372.2" y="2.0" width="262.40" height="385.80" fill="none" stroke="#111" stroke-width="1.5"/>
<line x1="245.50" y1="321.48" x2="245.50" y2="340.30" stroke="#1414ee" stroke-width="2.8"/><path d="M245.50,310.80 L250.70,323.50 L245.50,321.98 L240.30,323.50 Z" fill="#1414ee"/>
<line x1="284.00" y1="322.02" x2="284.00" y2="340.90" stroke="#f01414" stroke-width="2.8"/><path d="M284.00,311.70 L289.00,324.00 L284.00,322.52 L279.00,324.00 Z" fill="#f01414"/>
<line x1="596.60" y1="109.38" x2="596.60" y2="123.10" stroke="#f51010" stroke-width="2.2"/><path d="M596.60,99.50 L599.90,111.30 L596.60,109.88 L593.30,111.30 Z" fill="#f51010"/>
<line x1="528.60" y1="192.88" x2="528.60" y2="203.70" stroke="#f51010" stroke-width="2.2"/><path d="M528.60,183.00 L531.90,194.80 L528.60,193.38 L525.30,194.80 Z" fill="#f51010"/>
<line x1="520.20" y1="230.48" x2="520.20" y2="237.90" stroke="#f51010" stroke-width="2.2"/><path d="M520.20,220.60 L523.50,232.40 L520.20,230.98 L516.90,232.40 Z" fill="#f51010"/>
<line x1="460.70" y1="260.18" x2="460.70" y2="270.30" stroke="#f51010" stroke-width="2.2"/><path d="M460.70,250.30 L464.00,262.10 L460.70,260.68 L457.40,262.10 Z" fill="#f51010"/>
<line x1="457.90" y1="292.38" x2="457.90" y2="301.30" stroke="#f51010" stroke-width="2.2"/><path d="M457.90,282.50 L461.20,294.30 L457.90,292.88 L454.60,294.30 Z" fill="#f51010"/>
<line x1="455.70" y1="317.08" x2="455.70" y2="327.10" stroke="#f51010" stroke-width="2.2"/><path d="M455.70,307.20 L459.00,319.00 L455.70,317.58 L452.40,319.00 Z" fill="#f51010"/>
<line x1="451.10" y1="360.28" x2="451.10" y2="370.20" stroke="#f51010" stroke-width="2.2"/><path d="M451.10,350.40 L454.40,362.20 L451.10,360.78 L447.80,362.20 Z" fill="#f51010"/>
<text transform="translate(254.8,26.90) scale(0.94,1)" font-family="Liberation Serif, serif" font-size="25.5" fill="#b02a20">100 K</text>
<text transform="translate(256.2,65.50) scale(0.94,1)" font-family="Liberation Serif, serif" font-size="25.5" fill="#e9822a">50 K</text>
<text transform="translate(256.9,101.20) scale(0.94,1)" font-family="Liberation Serif, serif" font-size="25.5" fill="#e8b43a">20 K</text>
<text transform="translate(257.4,154.90) scale(0.94,1)" font-family="Liberation Serif, serif" font-size="25.5" fill="#1fb070">10 K</text>
<text transform="translate(259.3,222.10) scale(0.94,1)" font-family="Liberation Serif, serif" font-size="25.5" fill="#2d7fd6">5 K</text>
<text transform="translate(258.4,298.60) scale(0.94,1)" font-family="Liberation Serif, serif" font-size="25.5" fill="#7e1d84">3.3 K</text>
<text x="75.5" y="366.0" font-family="Liberation Serif, serif" font-size="24" fill="#111">(a)</text>
<text transform="translate(377.8,25.00) scale(0.94,1)" font-family="Liberation Serif, serif" font-size="25.5" fill="#701018">633.6</text>
<text transform="translate(469.3,70.50) scale(0.94,1)" font-family="Liberation Serif, serif" font-size="25.5" fill="#b4381e">609.6</text>
<text transform="translate(377.5,91.40) scale(0.94,1)" font-family="Liberation Serif, serif" font-size="25.5" fill="#ec8a32">435.2</text>
<text transform="translate(546.4,130.80) scale(0.94,1)" font-family="Liberation Serif, serif" font-size="25.5" fill="#e6b640">416</text>
<text transform="translate(545.3,159.40) scale(0.94,1)" font-family="Liberation Serif, serif" font-size="25.5" fill="#1fae6a">406.4</text>
<text transform="translate(562.8,189.50) scale(0.94,1)" font-family="Liberation Serif, serif" font-size="25.5" fill="#3fe0f0">333.6</text>
<text transform="translate(565.7,222.00) scale(0.94,1)" font-family="Liberation Serif, serif" font-size="25.5" fill="#2a78d0">304.8</text>
<text transform="translate(525.3,255.70) scale(0.94,1)" font-family="Liberation Serif, serif" font-size="25.5" fill="#1a1f80">222.4</text>
<text transform="translate(524.0,285.40) scale(0.94,1)" font-family="Liberation Serif, serif" font-size="25.5" fill="#7a1a80">217.6</text>
<text transform="translate(525.4,314.20) scale(0.94,1)" font-family="Liberation Serif, serif" font-size="25.5" fill="#e0237e">209.6</text>
<text transform="translate(526.3,352.00) scale(0.94,1)" font-family="Liberation Serif, serif" font-size="25.5" fill="#f08ae8">203.2</text>
<text x="598.0" y="371.0" font-family="Liberation Serif, serif" font-size="24" fill="#111">(b)</text>
<text transform="translate(154.2,362.8) scale(1.13,1)" font-family="Liberation Serif, serif" font-size="24" font-style="italic" fill="#111">α</text>
<text transform="translate(226.6,364.6) scale(1.2,1)" font-family="Liberation Serif, serif" font-size="26" font-style="italic" fill="#111">β</text>
<path d="M287.39,348.71 L288.21,349.29 L276.98,366.49 L275.02,365.11 Z" fill="#111"/><circle cx="276.0" cy="365.8" r="1.2" fill="#111"/><path d="M276.3,352.8 C276.9,350.6 278.3,349.3 279.3,349.6 C280.5,350.0 280.7,353.0 280.9,357.2" fill="none" stroke="#111" stroke-width="1.5" stroke-linecap="round"/>
<text x="59.50" y="420.4" font-family="Liberation Serif, serif" font-size="30" text-anchor="middle" fill="#111">0</text>
<text x="97.03" y="420.4" font-family="Liberation Serif, serif" font-size="30" text-anchor="middle" fill="#111">2</text>
<text x="134.56" y="420.4" font-family="Liberation Serif, serif" font-size="30" text-anchor="middle" fill="#111">4</text>
<text x="172.09" y="420.4" font-family="Liberation Serif, serif" font-size="30" text-anchor="middle" fill="#111">6</text>
<text x="209.61" y="420.4" font-family="Liberation Serif, serif" font-size="30" text-anchor="middle" fill="#111">8</text>
<text x="247.14" y="420.4" font-family="Liberation Serif, serif" font-size="30" text-anchor="middle" fill="#111">10</text>
<text x="284.67" y="420.4" font-family="Liberation Serif, serif" font-size="30" text-anchor="middle" fill="#111">12</text>
<text x="322.20" y="420.4" font-family="Liberation Serif, serif" font-size="30" text-anchor="middle" fill="#111">14</text>
<text x="372.20" y="420.4" font-family="Liberation Serif, serif" font-size="30" text-anchor="middle" fill="#111">0</text>
<text x="409.69" y="420.4" font-family="Liberation Serif, serif" font-size="30" text-anchor="middle" fill="#111">2</text>
<text x="447.17" y="420.4" font-family="Liberation Serif, serif" font-size="30" text-anchor="middle" fill="#111">4</text>
<text x="484.66" y="420.4" font-family="Liberation Serif, serif" font-size="30" text-anchor="middle" fill="#111">6</text>
<text x="522.14" y="420.4" font-family="Liberation Serif, serif" font-size="30" text-anchor="middle" fill="#111">8</text>
<text x="559.63" y="420.4" font-family="Liberation Serif, serif" font-size="30" text-anchor="middle" fill="#111">10</text>
<text x="597.11" y="420.4" font-family="Liberation Serif, serif" font-size="30" text-anchor="middle" fill="#111">12</text>
<text x="634.60" y="420.4" font-family="Liberation Serif, serif" font-size="30" text-anchor="middle" fill="#111">14</text>
<text x="190.05" y="465.6" font-family="Liberation Serif, serif" font-size="33" text-anchor="middle" fill="#111">Magnetic Field (T)</text>
<text x="503.40" y="465.6" font-family="Liberation Serif, serif" font-size="33" text-anchor="middle" fill="#111">Magnetic field (T)</text>
<text transform="translate(24.7,199.5) rotate(-90)" font-family="Liberation Serif, serif" font-size="33.4" text-anchor="middle" fill="#111">Transmission (<tspan font-style="italic">dI</tspan>/<tspan font-style="italic">dH</tspan>, a.u.)</text>
<text transform="translate(660.2,199.4) rotate(90)" font-family="Liberation Serif, serif" font-size="32.4" text-anchor="middle" fill="#111">Transmission (<tspan font-style="italic">dI</tspan>/<tspan font-style="italic">dH</tspan>, a.u.)</text>
</svg>
</body></html>
